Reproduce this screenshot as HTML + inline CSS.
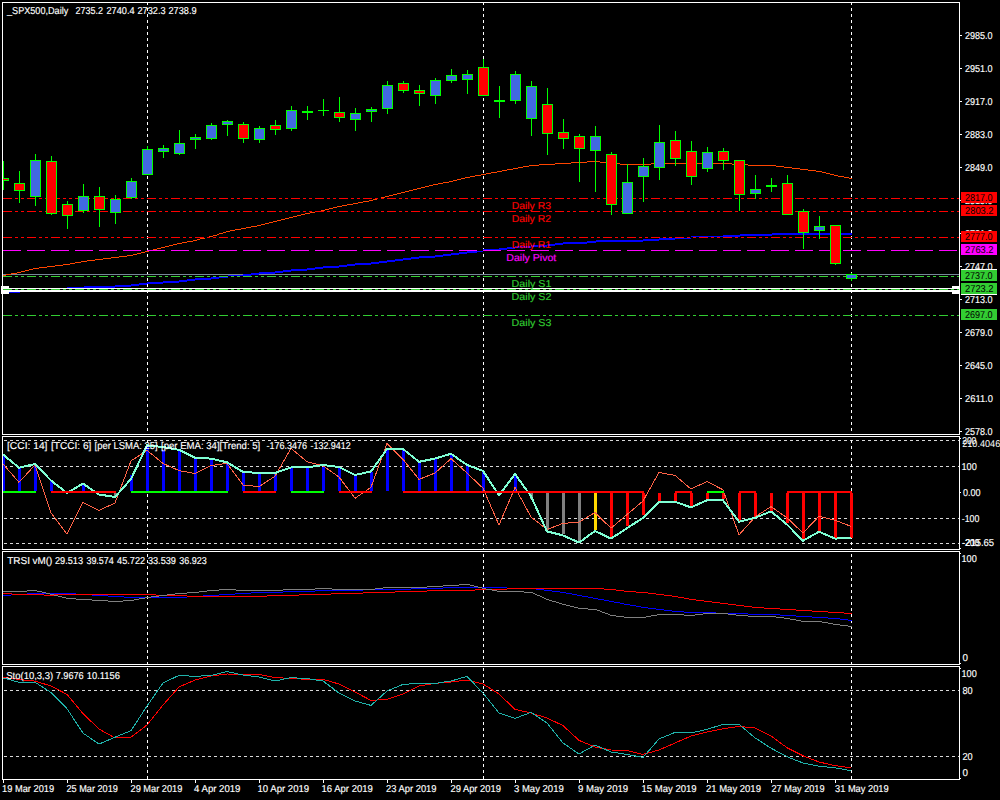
<!DOCTYPE html>
<html><head><meta charset="utf-8"><title>SPX500 Daily</title>
<style>
html,body{margin:0;padding:0;background:#000;}
body{width:1000px;height:800px;overflow:hidden;position:relative;}
svg{position:absolute;left:0;top:0;display:block;font-family:"Liberation Sans", sans-serif;}
</style></head><body>
<svg width="1000" height="800" viewBox="0 0 1000 800" shape-rendering="crispEdges">
<rect x="2.5" y="2.5" width="957" height="432" fill="none" stroke="#fff" stroke-width="1"/><rect x="2.5" y="436.5" width="957" height="113" fill="none" stroke="#fff" stroke-width="1"/><rect x="2.5" y="551.5" width="957" height="113" fill="none" stroke="#fff" stroke-width="1"/><rect x="2.5" y="666.5" width="957" height="113" fill="none" stroke="#fff" stroke-width="1"/><defs><clipPath id="cm"><rect x="3" y="3" width="956" height="431"/></clipPath><clipPath id="cc"><rect x="3" y="437" width="956" height="112"/></clipPath><clipPath id="ct"><rect x="3" y="552" width="956" height="112"/></clipPath><clipPath id="cs"><rect x="3" y="667" width="956" height="112"/></clipPath></defs><g clip-path="url(#cm)"><rect x="147" y="3" width="1" height="2" fill="#fff"/><rect x="147" y="8" width="1" height="3" fill="#fff"/><rect x="147" y="14" width="1" height="3" fill="#fff"/><rect x="147" y="20" width="1" height="3" fill="#fff"/><rect x="147" y="26" width="1" height="3" fill="#fff"/><rect x="147" y="32" width="1" height="3" fill="#fff"/><rect x="147" y="38" width="1" height="3" fill="#fff"/><rect x="147" y="44" width="1" height="3" fill="#fff"/><rect x="147" y="50" width="1" height="3" fill="#fff"/><rect x="147" y="56" width="1" height="3" fill="#fff"/><rect x="147" y="62" width="1" height="3" fill="#fff"/><rect x="147" y="68" width="1" height="3" fill="#fff"/><rect x="147" y="74" width="1" height="3" fill="#fff"/><rect x="147" y="80" width="1" height="3" fill="#fff"/><rect x="147" y="86" width="1" height="3" fill="#fff"/><rect x="147" y="92" width="1" height="3" fill="#fff"/><rect x="147" y="98" width="1" height="3" fill="#fff"/><rect x="147" y="104" width="1" height="3" fill="#fff"/><rect x="147" y="110" width="1" height="3" fill="#fff"/><rect x="147" y="116" width="1" height="3" fill="#fff"/><rect x="147" y="122" width="1" height="3" fill="#fff"/><rect x="147" y="128" width="1" height="3" fill="#fff"/><rect x="147" y="134" width="1" height="3" fill="#fff"/><rect x="147" y="140" width="1" height="3" fill="#fff"/><rect x="147" y="146" width="1" height="3" fill="#fff"/><rect x="147" y="152" width="1" height="3" fill="#fff"/><rect x="147" y="158" width="1" height="3" fill="#fff"/><rect x="147" y="164" width="1" height="3" fill="#fff"/><rect x="147" y="170" width="1" height="3" fill="#fff"/><rect x="147" y="176" width="1" height="3" fill="#fff"/><rect x="147" y="182" width="1" height="3" fill="#fff"/><rect x="147" y="188" width="1" height="3" fill="#fff"/><rect x="147" y="194" width="1" height="3" fill="#fff"/><rect x="147" y="200" width="1" height="3" fill="#fff"/><rect x="147" y="206" width="1" height="3" fill="#fff"/><rect x="147" y="212" width="1" height="3" fill="#fff"/><rect x="147" y="218" width="1" height="3" fill="#fff"/><rect x="147" y="224" width="1" height="3" fill="#fff"/><rect x="147" y="230" width="1" height="3" fill="#fff"/><rect x="147" y="236" width="1" height="3" fill="#fff"/><rect x="147" y="242" width="1" height="3" fill="#fff"/><rect x="147" y="248" width="1" height="3" fill="#fff"/><rect x="147" y="254" width="1" height="3" fill="#fff"/><rect x="147" y="260" width="1" height="3" fill="#fff"/><rect x="147" y="266" width="1" height="3" fill="#fff"/><rect x="147" y="272" width="1" height="3" fill="#fff"/><rect x="147" y="278" width="1" height="3" fill="#fff"/><rect x="147" y="284" width="1" height="3" fill="#fff"/><rect x="147" y="290" width="1" height="3" fill="#fff"/><rect x="147" y="296" width="1" height="3" fill="#fff"/><rect x="147" y="302" width="1" height="3" fill="#fff"/><rect x="147" y="308" width="1" height="3" fill="#fff"/><rect x="147" y="314" width="1" height="3" fill="#fff"/><rect x="147" y="320" width="1" height="3" fill="#fff"/><rect x="147" y="326" width="1" height="3" fill="#fff"/><rect x="147" y="332" width="1" height="3" fill="#fff"/><rect x="147" y="338" width="1" height="3" fill="#fff"/><rect x="147" y="344" width="1" height="3" fill="#fff"/><rect x="147" y="350" width="1" height="3" fill="#fff"/><rect x="147" y="356" width="1" height="3" fill="#fff"/><rect x="147" y="362" width="1" height="3" fill="#fff"/><rect x="147" y="368" width="1" height="3" fill="#fff"/><rect x="147" y="374" width="1" height="3" fill="#fff"/><rect x="147" y="380" width="1" height="3" fill="#fff"/><rect x="147" y="386" width="1" height="3" fill="#fff"/><rect x="147" y="392" width="1" height="3" fill="#fff"/><rect x="147" y="398" width="1" height="3" fill="#fff"/><rect x="147" y="404" width="1" height="3" fill="#fff"/><rect x="147" y="410" width="1" height="3" fill="#fff"/><rect x="147" y="416" width="1" height="3" fill="#fff"/><rect x="147" y="422" width="1" height="3" fill="#fff"/><rect x="147" y="428" width="1" height="3" fill="#fff"/><rect x="483" y="3" width="1" height="2" fill="#fff"/><rect x="483" y="8" width="1" height="3" fill="#fff"/><rect x="483" y="14" width="1" height="3" fill="#fff"/><rect x="483" y="20" width="1" height="3" fill="#fff"/><rect x="483" y="26" width="1" height="3" fill="#fff"/><rect x="483" y="32" width="1" height="3" fill="#fff"/><rect x="483" y="38" width="1" height="3" fill="#fff"/><rect x="483" y="44" width="1" height="3" fill="#fff"/><rect x="483" y="50" width="1" height="3" fill="#fff"/><rect x="483" y="56" width="1" height="3" fill="#fff"/><rect x="483" y="62" width="1" height="3" fill="#fff"/><rect x="483" y="68" width="1" height="3" fill="#fff"/><rect x="483" y="74" width="1" height="3" fill="#fff"/><rect x="483" y="80" width="1" height="3" fill="#fff"/><rect x="483" y="86" width="1" height="3" fill="#fff"/><rect x="483" y="92" width="1" height="3" fill="#fff"/><rect x="483" y="98" width="1" height="3" fill="#fff"/><rect x="483" y="104" width="1" height="3" fill="#fff"/><rect x="483" y="110" width="1" height="3" fill="#fff"/><rect x="483" y="116" width="1" height="3" fill="#fff"/><rect x="483" y="122" width="1" height="3" fill="#fff"/><rect x="483" y="128" width="1" height="3" fill="#fff"/><rect x="483" y="134" width="1" height="3" fill="#fff"/><rect x="483" y="140" width="1" height="3" fill="#fff"/><rect x="483" y="146" width="1" height="3" fill="#fff"/><rect x="483" y="152" width="1" height="3" fill="#fff"/><rect x="483" y="158" width="1" height="3" fill="#fff"/><rect x="483" y="164" width="1" height="3" fill="#fff"/><rect x="483" y="170" width="1" height="3" fill="#fff"/><rect x="483" y="176" width="1" height="3" fill="#fff"/><rect x="483" y="182" width="1" height="3" fill="#fff"/><rect x="483" y="188" width="1" height="3" fill="#fff"/><rect x="483" y="194" width="1" height="3" fill="#fff"/><rect x="483" y="200" width="1" height="3" fill="#fff"/><rect x="483" y="206" width="1" height="3" fill="#fff"/><rect x="483" y="212" width="1" height="3" fill="#fff"/><rect x="483" y="218" width="1" height="3" fill="#fff"/><rect x="483" y="224" width="1" height="3" fill="#fff"/><rect x="483" y="230" width="1" height="3" fill="#fff"/><rect x="483" y="236" width="1" height="3" fill="#fff"/><rect x="483" y="242" width="1" height="3" fill="#fff"/><rect x="483" y="248" width="1" height="3" fill="#fff"/><rect x="483" y="254" width="1" height="3" fill="#fff"/><rect x="483" y="260" width="1" height="3" fill="#fff"/><rect x="483" y="266" width="1" height="3" fill="#fff"/><rect x="483" y="272" width="1" height="3" fill="#fff"/><rect x="483" y="278" width="1" height="3" fill="#fff"/><rect x="483" y="284" width="1" height="3" fill="#fff"/><rect x="483" y="290" width="1" height="3" fill="#fff"/><rect x="483" y="296" width="1" height="3" fill="#fff"/><rect x="483" y="302" width="1" height="3" fill="#fff"/><rect x="483" y="308" width="1" height="3" fill="#fff"/><rect x="483" y="314" width="1" height="3" fill="#fff"/><rect x="483" y="320" width="1" height="3" fill="#fff"/><rect x="483" y="326" width="1" height="3" fill="#fff"/><rect x="483" y="332" width="1" height="3" fill="#fff"/><rect x="483" y="338" width="1" height="3" fill="#fff"/><rect x="483" y="344" width="1" height="3" fill="#fff"/><rect x="483" y="350" width="1" height="3" fill="#fff"/><rect x="483" y="356" width="1" height="3" fill="#fff"/><rect x="483" y="362" width="1" height="3" fill="#fff"/><rect x="483" y="368" width="1" height="3" fill="#fff"/><rect x="483" y="374" width="1" height="3" fill="#fff"/><rect x="483" y="380" width="1" height="3" fill="#fff"/><rect x="483" y="386" width="1" height="3" fill="#fff"/><rect x="483" y="392" width="1" height="3" fill="#fff"/><rect x="483" y="398" width="1" height="3" fill="#fff"/><rect x="483" y="404" width="1" height="3" fill="#fff"/><rect x="483" y="410" width="1" height="3" fill="#fff"/><rect x="483" y="416" width="1" height="3" fill="#fff"/><rect x="483" y="422" width="1" height="3" fill="#fff"/><rect x="483" y="428" width="1" height="3" fill="#fff"/><rect x="851" y="3" width="1" height="2" fill="#fff"/><rect x="851" y="8" width="1" height="3" fill="#fff"/><rect x="851" y="14" width="1" height="3" fill="#fff"/><rect x="851" y="20" width="1" height="3" fill="#fff"/><rect x="851" y="26" width="1" height="3" fill="#fff"/><rect x="851" y="32" width="1" height="3" fill="#fff"/><rect x="851" y="38" width="1" height="3" fill="#fff"/><rect x="851" y="44" width="1" height="3" fill="#fff"/><rect x="851" y="50" width="1" height="3" fill="#fff"/><rect x="851" y="56" width="1" height="3" fill="#fff"/><rect x="851" y="62" width="1" height="3" fill="#fff"/><rect x="851" y="68" width="1" height="3" fill="#fff"/><rect x="851" y="74" width="1" height="3" fill="#fff"/><rect x="851" y="80" width="1" height="3" fill="#fff"/><rect x="851" y="86" width="1" height="3" fill="#fff"/><rect x="851" y="92" width="1" height="3" fill="#fff"/><rect x="851" y="98" width="1" height="3" fill="#fff"/><rect x="851" y="104" width="1" height="3" fill="#fff"/><rect x="851" y="110" width="1" height="3" fill="#fff"/><rect x="851" y="116" width="1" height="3" fill="#fff"/><rect x="851" y="122" width="1" height="3" fill="#fff"/><rect x="851" y="128" width="1" height="3" fill="#fff"/><rect x="851" y="134" width="1" height="3" fill="#fff"/><rect x="851" y="140" width="1" height="3" fill="#fff"/><rect x="851" y="146" width="1" height="3" fill="#fff"/><rect x="851" y="152" width="1" height="3" fill="#fff"/><rect x="851" y="158" width="1" height="3" fill="#fff"/><rect x="851" y="164" width="1" height="3" fill="#fff"/><rect x="851" y="170" width="1" height="3" fill="#fff"/><rect x="851" y="176" width="1" height="3" fill="#fff"/><rect x="851" y="182" width="1" height="3" fill="#fff"/><rect x="851" y="188" width="1" height="3" fill="#fff"/><rect x="851" y="194" width="1" height="3" fill="#fff"/><rect x="851" y="200" width="1" height="3" fill="#fff"/><rect x="851" y="206" width="1" height="3" fill="#fff"/><rect x="851" y="212" width="1" height="3" fill="#fff"/><rect x="851" y="218" width="1" height="3" fill="#fff"/><rect x="851" y="224" width="1" height="3" fill="#fff"/><rect x="851" y="230" width="1" height="3" fill="#fff"/><rect x="851" y="236" width="1" height="3" fill="#fff"/><rect x="851" y="242" width="1" height="3" fill="#fff"/><rect x="851" y="248" width="1" height="3" fill="#fff"/><rect x="851" y="254" width="1" height="3" fill="#fff"/><rect x="851" y="260" width="1" height="3" fill="#fff"/><rect x="851" y="266" width="1" height="3" fill="#fff"/><rect x="851" y="272" width="1" height="3" fill="#fff"/><rect x="851" y="278" width="1" height="3" fill="#fff"/><rect x="851" y="284" width="1" height="3" fill="#fff"/><rect x="851" y="290" width="1" height="3" fill="#fff"/><rect x="851" y="296" width="1" height="3" fill="#fff"/><rect x="851" y="302" width="1" height="3" fill="#fff"/><rect x="851" y="308" width="1" height="3" fill="#fff"/><rect x="851" y="314" width="1" height="3" fill="#fff"/><rect x="851" y="320" width="1" height="3" fill="#fff"/><rect x="851" y="326" width="1" height="3" fill="#fff"/><rect x="851" y="332" width="1" height="3" fill="#fff"/><rect x="851" y="338" width="1" height="3" fill="#fff"/><rect x="851" y="344" width="1" height="3" fill="#fff"/><rect x="851" y="350" width="1" height="3" fill="#fff"/><rect x="851" y="356" width="1" height="3" fill="#fff"/><rect x="851" y="362" width="1" height="3" fill="#fff"/><rect x="851" y="368" width="1" height="3" fill="#fff"/><rect x="851" y="374" width="1" height="3" fill="#fff"/><rect x="851" y="380" width="1" height="3" fill="#fff"/><rect x="851" y="386" width="1" height="3" fill="#fff"/><rect x="851" y="392" width="1" height="3" fill="#fff"/><rect x="851" y="398" width="1" height="3" fill="#fff"/><rect x="851" y="404" width="1" height="3" fill="#fff"/><rect x="851" y="410" width="1" height="3" fill="#fff"/><rect x="851" y="416" width="1" height="3" fill="#fff"/><rect x="851" y="422" width="1" height="3" fill="#fff"/><rect x="851" y="428" width="1" height="3" fill="#fff"/><rect x="3" y="274" width="956" height="1" fill="#778899"/><rect x="3" y="275" width="3" height="1" fill="#ff4500"/><rect x="6" y="274" width="5" height="1" fill="#ff4500"/><rect x="11" y="273" width="6" height="1" fill="#ff4500"/><rect x="17" y="272" width="4" height="1" fill="#ff4500"/><rect x="21" y="271" width="4" height="1" fill="#ff4500"/><rect x="25" y="270" width="4" height="1" fill="#ff4500"/><rect x="29" y="269" width="4" height="1" fill="#ff4500"/><rect x="33" y="268" width="6" height="1" fill="#ff4500"/><rect x="39" y="267" width="8" height="1" fill="#ff4500"/><rect x="47" y="266" width="8" height="1" fill="#ff4500"/><rect x="55" y="265" width="8" height="1" fill="#ff4500"/><rect x="63" y="264" width="7" height="1" fill="#ff4500"/><rect x="70" y="263" width="5" height="1" fill="#ff4500"/><rect x="75" y="262" width="6" height="1" fill="#ff4500"/><rect x="81" y="261" width="6" height="1" fill="#ff4500"/><rect x="87" y="260" width="8" height="1" fill="#ff4500"/><rect x="95" y="259" width="8" height="1" fill="#ff4500"/><rect x="103" y="258" width="8" height="1" fill="#ff4500"/><rect x="111" y="257" width="8" height="1" fill="#ff4500"/><rect x="119" y="256" width="8" height="1" fill="#ff4500"/><rect x="127" y="255" width="6" height="1" fill="#ff4500"/><rect x="133" y="254" width="4" height="1" fill="#ff4500"/><rect x="137" y="253" width="4" height="1" fill="#ff4500"/><rect x="141" y="252" width="4" height="1" fill="#ff4500"/><rect x="145" y="251" width="4" height="1" fill="#ff4500"/><rect x="149" y="250" width="4" height="1" fill="#ff4500"/><rect x="153" y="249" width="4" height="1" fill="#ff4500"/><rect x="157" y="248" width="4" height="1" fill="#ff4500"/><rect x="161" y="247" width="4" height="1" fill="#ff4500"/><rect x="165" y="246" width="4" height="1" fill="#ff4500"/><rect x="169" y="245" width="4" height="1" fill="#ff4500"/><rect x="173" y="244" width="4" height="1" fill="#ff4500"/><rect x="177" y="243" width="5" height="1" fill="#ff4500"/><rect x="182" y="242" width="5" height="1" fill="#ff4500"/><rect x="187" y="241" width="6" height="1" fill="#ff4500"/><rect x="193" y="240" width="4" height="1" fill="#ff4500"/><rect x="197" y="239" width="3" height="1" fill="#ff4500"/><rect x="200" y="238" width="5" height="1" fill="#ff4500"/><rect x="205" y="237" width="4" height="1" fill="#ff4500"/><rect x="209" y="236" width="4" height="1" fill="#ff4500"/><rect x="213" y="235" width="4" height="1" fill="#ff4500"/><rect x="217" y="234" width="2" height="1" fill="#ff4500"/><rect x="219" y="233" width="4" height="1" fill="#ff4500"/><rect x="223" y="232" width="3" height="1" fill="#ff4500"/><rect x="226" y="231" width="4" height="1" fill="#ff4500"/><rect x="230" y="230" width="5" height="1" fill="#ff4500"/><rect x="235" y="229" width="6" height="1" fill="#ff4500"/><rect x="241" y="228" width="5" height="1" fill="#ff4500"/><rect x="246" y="227" width="5" height="1" fill="#ff4500"/><rect x="251" y="226" width="6" height="1" fill="#ff4500"/><rect x="257" y="225" width="4" height="1" fill="#ff4500"/><rect x="261" y="224" width="4" height="1" fill="#ff4500"/><rect x="265" y="223" width="4" height="1" fill="#ff4500"/><rect x="269" y="222" width="4" height="1" fill="#ff4500"/><rect x="273" y="221" width="4" height="1" fill="#ff4500"/><rect x="277" y="220" width="4" height="1" fill="#ff4500"/><rect x="281" y="219" width="4" height="1" fill="#ff4500"/><rect x="285" y="218" width="4" height="1" fill="#ff4500"/><rect x="289" y="217" width="4" height="1" fill="#ff4500"/><rect x="293" y="216" width="4" height="1" fill="#ff4500"/><rect x="297" y="215" width="4" height="1" fill="#ff4500"/><rect x="301" y="214" width="4" height="1" fill="#ff4500"/><rect x="305" y="213" width="5" height="1" fill="#ff4500"/><rect x="310" y="212" width="5" height="1" fill="#ff4500"/><rect x="315" y="211" width="6" height="1" fill="#ff4500"/><rect x="321" y="210" width="4" height="1" fill="#ff4500"/><rect x="325" y="209" width="4" height="1" fill="#ff4500"/><rect x="329" y="208" width="4" height="1" fill="#ff4500"/><rect x="333" y="207" width="4" height="1" fill="#ff4500"/><rect x="337" y="206" width="5" height="1" fill="#ff4500"/><rect x="342" y="205" width="5" height="1" fill="#ff4500"/><rect x="347" y="204" width="6" height="1" fill="#ff4500"/><rect x="353" y="203" width="5" height="1" fill="#ff4500"/><rect x="358" y="202" width="5" height="1" fill="#ff4500"/><rect x="363" y="201" width="6" height="1" fill="#ff4500"/><rect x="369" y="200" width="4" height="1" fill="#ff4500"/><rect x="373" y="199" width="4" height="1" fill="#ff4500"/><rect x="377" y="198" width="4" height="1" fill="#ff4500"/><rect x="381" y="197" width="4" height="1" fill="#ff4500"/><rect x="385" y="196" width="4" height="1" fill="#ff4500"/><rect x="389" y="195" width="4" height="1" fill="#ff4500"/><rect x="393" y="194" width="4" height="1" fill="#ff4500"/><rect x="397" y="193" width="4" height="1" fill="#ff4500"/><rect x="401" y="192" width="4" height="1" fill="#ff4500"/><rect x="405" y="191" width="4" height="1" fill="#ff4500"/><rect x="409" y="190" width="4" height="1" fill="#ff4500"/><rect x="413" y="189" width="4" height="1" fill="#ff4500"/><rect x="417" y="188" width="4" height="1" fill="#ff4500"/><rect x="421" y="187" width="4" height="1" fill="#ff4500"/><rect x="425" y="186" width="4" height="1" fill="#ff4500"/><rect x="429" y="185" width="4" height="1" fill="#ff4500"/><rect x="433" y="184" width="5" height="1" fill="#ff4500"/><rect x="438" y="183" width="5" height="1" fill="#ff4500"/><rect x="443" y="182" width="6" height="1" fill="#ff4500"/><rect x="449" y="181" width="4" height="1" fill="#ff4500"/><rect x="453" y="180" width="4" height="1" fill="#ff4500"/><rect x="457" y="179" width="4" height="1" fill="#ff4500"/><rect x="461" y="178" width="4" height="1" fill="#ff4500"/><rect x="465" y="177" width="5" height="1" fill="#ff4500"/><rect x="470" y="176" width="5" height="1" fill="#ff4500"/><rect x="475" y="175" width="6" height="1" fill="#ff4500"/><rect x="481" y="174" width="5" height="1" fill="#ff4500"/><rect x="486" y="173" width="5" height="1" fill="#ff4500"/><rect x="491" y="172" width="6" height="1" fill="#ff4500"/><rect x="497" y="171" width="5" height="1" fill="#ff4500"/><rect x="502" y="170" width="5" height="1" fill="#ff4500"/><rect x="507" y="169" width="6" height="1" fill="#ff4500"/><rect x="513" y="168" width="5" height="1" fill="#ff4500"/><rect x="518" y="167" width="5" height="1" fill="#ff4500"/><rect x="523" y="166" width="6" height="1" fill="#ff4500"/><rect x="529" y="165" width="10" height="1" fill="#ff4500"/><rect x="539" y="164" width="16" height="1" fill="#ff4500"/><rect x="555" y="163" width="16" height="1" fill="#ff4500"/><rect x="571" y="162" width="16" height="1" fill="#ff4500"/><rect x="587" y="161" width="13" height="1" fill="#ff4500"/><rect x="600" y="162" width="17" height="1" fill="#ff4500"/><rect x="617" y="163" width="3" height="1" fill="#ff4500"/><rect x="620" y="164" width="31" height="1" fill="#ff4500"/><rect x="651" y="163" width="81" height="1" fill="#ff4500"/><rect x="732" y="164" width="16" height="1" fill="#ff4500"/><rect x="748" y="165" width="28" height="1" fill="#ff4500"/><rect x="776" y="166" width="8" height="1" fill="#ff4500"/><rect x="784" y="167" width="8" height="1" fill="#ff4500"/><rect x="792" y="168" width="8" height="1" fill="#ff4500"/><rect x="800" y="169" width="8" height="1" fill="#ff4500"/><rect x="808" y="170" width="8" height="1" fill="#ff4500"/><rect x="816" y="171" width="6" height="1" fill="#ff4500"/><rect x="822" y="172" width="4" height="1" fill="#ff4500"/><rect x="826" y="173" width="4" height="1" fill="#ff4500"/><rect x="830" y="174" width="4" height="1" fill="#ff4500"/><rect x="834" y="175" width="4" height="1" fill="#ff4500"/><rect x="838" y="176" width="6" height="1" fill="#ff4500"/><rect x="844" y="177" width="5" height="1" fill="#ff4500"/><rect x="849" y="178" width="3" height="1" fill="#ff4500"/><rect x="3" y="291" width="17" height="2" fill="#0000ff"/><rect x="20" y="290" width="31" height="2" fill="#0000ff"/><rect x="51" y="289" width="9" height="2" fill="#0000ff"/><rect x="60" y="288" width="7" height="2" fill="#0000ff"/><rect x="67" y="287" width="17" height="2" fill="#0000ff"/><rect x="84" y="286" width="31" height="2" fill="#0000ff"/><rect x="115" y="285" width="16" height="2" fill="#0000ff"/><rect x="131" y="284" width="8" height="2" fill="#0000ff"/><rect x="139" y="283" width="8" height="2" fill="#0000ff"/><rect x="147" y="282" width="16" height="2" fill="#0000ff"/><rect x="163" y="281" width="16" height="2" fill="#0000ff"/><rect x="179" y="280" width="8" height="2" fill="#0000ff"/><rect x="187" y="279" width="8" height="2" fill="#0000ff"/><rect x="195" y="278" width="16" height="2" fill="#0000ff"/><rect x="211" y="277" width="8" height="2" fill="#0000ff"/><rect x="219" y="276" width="9" height="2" fill="#0000ff"/><rect x="228" y="275" width="15" height="2" fill="#0000ff"/><rect x="243" y="274" width="8" height="2" fill="#0000ff"/><rect x="251" y="273" width="8" height="2" fill="#0000ff"/><rect x="259" y="272" width="16" height="2" fill="#0000ff"/><rect x="275" y="271" width="8" height="2" fill="#0000ff"/><rect x="283" y="270" width="8" height="2" fill="#0000ff"/><rect x="291" y="269" width="16" height="2" fill="#0000ff"/><rect x="307" y="268" width="8" height="2" fill="#0000ff"/><rect x="315" y="267" width="8" height="2" fill="#0000ff"/><rect x="323" y="266" width="16" height="2" fill="#0000ff"/><rect x="339" y="265" width="8" height="2" fill="#0000ff"/><rect x="347" y="264" width="8" height="2" fill="#0000ff"/><rect x="355" y="263" width="16" height="2" fill="#0000ff"/><rect x="371" y="262" width="8" height="2" fill="#0000ff"/><rect x="379" y="261" width="8" height="2" fill="#0000ff"/><rect x="387" y="260" width="8" height="2" fill="#0000ff"/><rect x="395" y="259" width="8" height="2" fill="#0000ff"/><rect x="403" y="258" width="8" height="2" fill="#0000ff"/><rect x="411" y="257" width="8" height="2" fill="#0000ff"/><rect x="419" y="256" width="16" height="2" fill="#0000ff"/><rect x="435" y="255" width="8" height="2" fill="#0000ff"/><rect x="443" y="254" width="8" height="2" fill="#0000ff"/><rect x="451" y="253" width="8" height="2" fill="#0000ff"/><rect x="459" y="252" width="8" height="2" fill="#0000ff"/><rect x="467" y="251" width="10" height="2" fill="#0000ff"/><rect x="477" y="250" width="6" height="2" fill="#0000ff"/><rect x="483" y="249" width="16" height="2" fill="#0000ff"/><rect x="499" y="248" width="8" height="2" fill="#0000ff"/><rect x="507" y="247" width="8" height="2" fill="#0000ff"/><rect x="515" y="246" width="16" height="2" fill="#0000ff"/><rect x="531" y="245" width="16" height="2" fill="#0000ff"/><rect x="547" y="244" width="8" height="2" fill="#0000ff"/><rect x="555" y="243" width="8" height="2" fill="#0000ff"/><rect x="563" y="242" width="24" height="2" fill="#0000ff"/><rect x="587" y="241" width="9" height="2" fill="#0000ff"/><rect x="596" y="240" width="47" height="2" fill="#0000ff"/><rect x="643" y="239" width="16" height="2" fill="#0000ff"/><rect x="659" y="238" width="16" height="2" fill="#0000ff"/><rect x="675" y="237" width="16" height="2" fill="#0000ff"/><rect x="691" y="236" width="32" height="2" fill="#0000ff"/><rect x="723" y="235" width="17" height="2" fill="#0000ff"/><rect x="740" y="234" width="32" height="2" fill="#0000ff"/><rect x="772" y="233" width="80" height="2" fill="#0000ff"/><rect x="3" y="198" width="956" height="1" fill="#000"/><rect x="3" y="198" width="9" height="1" fill="#ff0000"/><rect x="15" y="198" width="3" height="1" fill="#ff0000"/><rect x="21" y="198" width="3" height="1" fill="#ff0000"/><rect x="27" y="198" width="9" height="1" fill="#ff0000"/><rect x="39" y="198" width="3" height="1" fill="#ff0000"/><rect x="45" y="198" width="3" height="1" fill="#ff0000"/><rect x="51" y="198" width="9" height="1" fill="#ff0000"/><rect x="63" y="198" width="3" height="1" fill="#ff0000"/><rect x="69" y="198" width="3" height="1" fill="#ff0000"/><rect x="75" y="198" width="9" height="1" fill="#ff0000"/><rect x="87" y="198" width="3" height="1" fill="#ff0000"/><rect x="93" y="198" width="3" height="1" fill="#ff0000"/><rect x="99" y="198" width="9" height="1" fill="#ff0000"/><rect x="111" y="198" width="3" height="1" fill="#ff0000"/><rect x="117" y="198" width="3" height="1" fill="#ff0000"/><rect x="123" y="198" width="9" height="1" fill="#ff0000"/><rect x="135" y="198" width="3" height="1" fill="#ff0000"/><rect x="141" y="198" width="3" height="1" fill="#ff0000"/><rect x="147" y="198" width="9" height="1" fill="#ff0000"/><rect x="159" y="198" width="3" height="1" fill="#ff0000"/><rect x="165" y="198" width="3" height="1" fill="#ff0000"/><rect x="171" y="198" width="9" height="1" fill="#ff0000"/><rect x="183" y="198" width="3" height="1" fill="#ff0000"/><rect x="189" y="198" width="3" height="1" fill="#ff0000"/><rect x="195" y="198" width="9" height="1" fill="#ff0000"/><rect x="207" y="198" width="3" height="1" fill="#ff0000"/><rect x="213" y="198" width="3" height="1" fill="#ff0000"/><rect x="219" y="198" width="9" height="1" fill="#ff0000"/><rect x="231" y="198" width="3" height="1" fill="#ff0000"/><rect x="237" y="198" width="3" height="1" fill="#ff0000"/><rect x="243" y="198" width="9" height="1" fill="#ff0000"/><rect x="255" y="198" width="3" height="1" fill="#ff0000"/><rect x="261" y="198" width="3" height="1" fill="#ff0000"/><rect x="267" y="198" width="9" height="1" fill="#ff0000"/><rect x="279" y="198" width="3" height="1" fill="#ff0000"/><rect x="285" y="198" width="3" height="1" fill="#ff0000"/><rect x="291" y="198" width="9" height="1" fill="#ff0000"/><rect x="303" y="198" width="3" height="1" fill="#ff0000"/><rect x="309" y="198" width="3" height="1" fill="#ff0000"/><rect x="315" y="198" width="9" height="1" fill="#ff0000"/><rect x="327" y="198" width="3" height="1" fill="#ff0000"/><rect x="333" y="198" width="3" height="1" fill="#ff0000"/><rect x="339" y="198" width="9" height="1" fill="#ff0000"/><rect x="351" y="198" width="3" height="1" fill="#ff0000"/><rect x="357" y="198" width="3" height="1" fill="#ff0000"/><rect x="363" y="198" width="9" height="1" fill="#ff0000"/><rect x="375" y="198" width="3" height="1" fill="#ff0000"/><rect x="381" y="198" width="3" height="1" fill="#ff0000"/><rect x="387" y="198" width="9" height="1" fill="#ff0000"/><rect x="399" y="198" width="3" height="1" fill="#ff0000"/><rect x="405" y="198" width="3" height="1" fill="#ff0000"/><rect x="411" y="198" width="9" height="1" fill="#ff0000"/><rect x="423" y="198" width="3" height="1" fill="#ff0000"/><rect x="429" y="198" width="3" height="1" fill="#ff0000"/><rect x="435" y="198" width="9" height="1" fill="#ff0000"/><rect x="447" y="198" width="3" height="1" fill="#ff0000"/><rect x="453" y="198" width="3" height="1" fill="#ff0000"/><rect x="459" y="198" width="9" height="1" fill="#ff0000"/><rect x="471" y="198" width="3" height="1" fill="#ff0000"/><rect x="477" y="198" width="3" height="1" fill="#ff0000"/><rect x="483" y="198" width="9" height="1" fill="#ff0000"/><rect x="495" y="198" width="3" height="1" fill="#ff0000"/><rect x="501" y="198" width="3" height="1" fill="#ff0000"/><rect x="507" y="198" width="9" height="1" fill="#ff0000"/><rect x="519" y="198" width="3" height="1" fill="#ff0000"/><rect x="525" y="198" width="3" height="1" fill="#ff0000"/><rect x="531" y="198" width="9" height="1" fill="#ff0000"/><rect x="543" y="198" width="3" height="1" fill="#ff0000"/><rect x="549" y="198" width="3" height="1" fill="#ff0000"/><rect x="555" y="198" width="9" height="1" fill="#ff0000"/><rect x="567" y="198" width="3" height="1" fill="#ff0000"/><rect x="573" y="198" width="3" height="1" fill="#ff0000"/><rect x="579" y="198" width="9" height="1" fill="#ff0000"/><rect x="591" y="198" width="3" height="1" fill="#ff0000"/><rect x="597" y="198" width="3" height="1" fill="#ff0000"/><rect x="603" y="198" width="9" height="1" fill="#ff0000"/><rect x="615" y="198" width="3" height="1" fill="#ff0000"/><rect x="621" y="198" width="3" height="1" fill="#ff0000"/><rect x="627" y="198" width="9" height="1" fill="#ff0000"/><rect x="639" y="198" width="3" height="1" fill="#ff0000"/><rect x="645" y="198" width="3" height="1" fill="#ff0000"/><rect x="651" y="198" width="9" height="1" fill="#ff0000"/><rect x="663" y="198" width="3" height="1" fill="#ff0000"/><rect x="669" y="198" width="3" height="1" fill="#ff0000"/><rect x="675" y="198" width="9" height="1" fill="#ff0000"/><rect x="687" y="198" width="3" height="1" fill="#ff0000"/><rect x="693" y="198" width="3" height="1" fill="#ff0000"/><rect x="699" y="198" width="9" height="1" fill="#ff0000"/><rect x="711" y="198" width="3" height="1" fill="#ff0000"/><rect x="717" y="198" width="3" height="1" fill="#ff0000"/><rect x="723" y="198" width="9" height="1" fill="#ff0000"/><rect x="735" y="198" width="3" height="1" fill="#ff0000"/><rect x="741" y="198" width="3" height="1" fill="#ff0000"/><rect x="747" y="198" width="9" height="1" fill="#ff0000"/><rect x="759" y="198" width="3" height="1" fill="#ff0000"/><rect x="765" y="198" width="3" height="1" fill="#ff0000"/><rect x="771" y="198" width="9" height="1" fill="#ff0000"/><rect x="783" y="198" width="3" height="1" fill="#ff0000"/><rect x="789" y="198" width="3" height="1" fill="#ff0000"/><rect x="795" y="198" width="9" height="1" fill="#ff0000"/><rect x="807" y="198" width="3" height="1" fill="#ff0000"/><rect x="813" y="198" width="3" height="1" fill="#ff0000"/><rect x="819" y="198" width="9" height="1" fill="#ff0000"/><rect x="831" y="198" width="3" height="1" fill="#ff0000"/><rect x="837" y="198" width="3" height="1" fill="#ff0000"/><rect x="843" y="198" width="9" height="1" fill="#ff0000"/><rect x="855" y="198" width="3" height="1" fill="#ff0000"/><rect x="861" y="198" width="3" height="1" fill="#ff0000"/><rect x="867" y="198" width="9" height="1" fill="#ff0000"/><rect x="879" y="198" width="3" height="1" fill="#ff0000"/><rect x="885" y="198" width="3" height="1" fill="#ff0000"/><rect x="891" y="198" width="9" height="1" fill="#ff0000"/><rect x="903" y="198" width="3" height="1" fill="#ff0000"/><rect x="909" y="198" width="3" height="1" fill="#ff0000"/><rect x="915" y="198" width="9" height="1" fill="#ff0000"/><rect x="927" y="198" width="3" height="1" fill="#ff0000"/><rect x="933" y="198" width="3" height="1" fill="#ff0000"/><rect x="939" y="198" width="9" height="1" fill="#ff0000"/><rect x="951" y="198" width="3" height="1" fill="#ff0000"/><rect x="957" y="198" width="2" height="1" fill="#ff0000"/><rect x="3" y="211" width="956" height="1" fill="#000"/><rect x="3" y="211" width="9" height="1" fill="#ff0000"/><rect x="15" y="211" width="3" height="1" fill="#ff0000"/><rect x="21" y="211" width="3" height="1" fill="#ff0000"/><rect x="27" y="211" width="9" height="1" fill="#ff0000"/><rect x="39" y="211" width="3" height="1" fill="#ff0000"/><rect x="45" y="211" width="3" height="1" fill="#ff0000"/><rect x="51" y="211" width="9" height="1" fill="#ff0000"/><rect x="63" y="211" width="3" height="1" fill="#ff0000"/><rect x="69" y="211" width="3" height="1" fill="#ff0000"/><rect x="75" y="211" width="9" height="1" fill="#ff0000"/><rect x="87" y="211" width="3" height="1" fill="#ff0000"/><rect x="93" y="211" width="3" height="1" fill="#ff0000"/><rect x="99" y="211" width="9" height="1" fill="#ff0000"/><rect x="111" y="211" width="3" height="1" fill="#ff0000"/><rect x="117" y="211" width="3" height="1" fill="#ff0000"/><rect x="123" y="211" width="9" height="1" fill="#ff0000"/><rect x="135" y="211" width="3" height="1" fill="#ff0000"/><rect x="141" y="211" width="3" height="1" fill="#ff0000"/><rect x="147" y="211" width="9" height="1" fill="#ff0000"/><rect x="159" y="211" width="3" height="1" fill="#ff0000"/><rect x="165" y="211" width="3" height="1" fill="#ff0000"/><rect x="171" y="211" width="9" height="1" fill="#ff0000"/><rect x="183" y="211" width="3" height="1" fill="#ff0000"/><rect x="189" y="211" width="3" height="1" fill="#ff0000"/><rect x="195" y="211" width="9" height="1" fill="#ff0000"/><rect x="207" y="211" width="3" height="1" fill="#ff0000"/><rect x="213" y="211" width="3" height="1" fill="#ff0000"/><rect x="219" y="211" width="9" height="1" fill="#ff0000"/><rect x="231" y="211" width="3" height="1" fill="#ff0000"/><rect x="237" y="211" width="3" height="1" fill="#ff0000"/><rect x="243" y="211" width="9" height="1" fill="#ff0000"/><rect x="255" y="211" width="3" height="1" fill="#ff0000"/><rect x="261" y="211" width="3" height="1" fill="#ff0000"/><rect x="267" y="211" width="9" height="1" fill="#ff0000"/><rect x="279" y="211" width="3" height="1" fill="#ff0000"/><rect x="285" y="211" width="3" height="1" fill="#ff0000"/><rect x="291" y="211" width="9" height="1" fill="#ff0000"/><rect x="303" y="211" width="3" height="1" fill="#ff0000"/><rect x="309" y="211" width="3" height="1" fill="#ff0000"/><rect x="315" y="211" width="9" height="1" fill="#ff0000"/><rect x="327" y="211" width="3" height="1" fill="#ff0000"/><rect x="333" y="211" width="3" height="1" fill="#ff0000"/><rect x="339" y="211" width="9" height="1" fill="#ff0000"/><rect x="351" y="211" width="3" height="1" fill="#ff0000"/><rect x="357" y="211" width="3" height="1" fill="#ff0000"/><rect x="363" y="211" width="9" height="1" fill="#ff0000"/><rect x="375" y="211" width="3" height="1" fill="#ff0000"/><rect x="381" y="211" width="3" height="1" fill="#ff0000"/><rect x="387" y="211" width="9" height="1" fill="#ff0000"/><rect x="399" y="211" width="3" height="1" fill="#ff0000"/><rect x="405" y="211" width="3" height="1" fill="#ff0000"/><rect x="411" y="211" width="9" height="1" fill="#ff0000"/><rect x="423" y="211" width="3" height="1" fill="#ff0000"/><rect x="429" y="211" width="3" height="1" fill="#ff0000"/><rect x="435" y="211" width="9" height="1" fill="#ff0000"/><rect x="447" y="211" width="3" height="1" fill="#ff0000"/><rect x="453" y="211" width="3" height="1" fill="#ff0000"/><rect x="459" y="211" width="9" height="1" fill="#ff0000"/><rect x="471" y="211" width="3" height="1" fill="#ff0000"/><rect x="477" y="211" width="3" height="1" fill="#ff0000"/><rect x="483" y="211" width="9" height="1" fill="#ff0000"/><rect x="495" y="211" width="3" height="1" fill="#ff0000"/><rect x="501" y="211" width="3" height="1" fill="#ff0000"/><rect x="507" y="211" width="9" height="1" fill="#ff0000"/><rect x="519" y="211" width="3" height="1" fill="#ff0000"/><rect x="525" y="211" width="3" height="1" fill="#ff0000"/><rect x="531" y="211" width="9" height="1" fill="#ff0000"/><rect x="543" y="211" width="3" height="1" fill="#ff0000"/><rect x="549" y="211" width="3" height="1" fill="#ff0000"/><rect x="555" y="211" width="9" height="1" fill="#ff0000"/><rect x="567" y="211" width="3" height="1" fill="#ff0000"/><rect x="573" y="211" width="3" height="1" fill="#ff0000"/><rect x="579" y="211" width="9" height="1" fill="#ff0000"/><rect x="591" y="211" width="3" height="1" fill="#ff0000"/><rect x="597" y="211" width="3" height="1" fill="#ff0000"/><rect x="603" y="211" width="9" height="1" fill="#ff0000"/><rect x="615" y="211" width="3" height="1" fill="#ff0000"/><rect x="621" y="211" width="3" height="1" fill="#ff0000"/><rect x="627" y="211" width="9" height="1" fill="#ff0000"/><rect x="639" y="211" width="3" height="1" fill="#ff0000"/><rect x="645" y="211" width="3" height="1" fill="#ff0000"/><rect x="651" y="211" width="9" height="1" fill="#ff0000"/><rect x="663" y="211" width="3" height="1" fill="#ff0000"/><rect x="669" y="211" width="3" height="1" fill="#ff0000"/><rect x="675" y="211" width="9" height="1" fill="#ff0000"/><rect x="687" y="211" width="3" height="1" fill="#ff0000"/><rect x="693" y="211" width="3" height="1" fill="#ff0000"/><rect x="699" y="211" width="9" height="1" fill="#ff0000"/><rect x="711" y="211" width="3" height="1" fill="#ff0000"/><rect x="717" y="211" width="3" height="1" fill="#ff0000"/><rect x="723" y="211" width="9" height="1" fill="#ff0000"/><rect x="735" y="211" width="3" height="1" fill="#ff0000"/><rect x="741" y="211" width="3" height="1" fill="#ff0000"/><rect x="747" y="211" width="9" height="1" fill="#ff0000"/><rect x="759" y="211" width="3" height="1" fill="#ff0000"/><rect x="765" y="211" width="3" height="1" fill="#ff0000"/><rect x="771" y="211" width="9" height="1" fill="#ff0000"/><rect x="783" y="211" width="3" height="1" fill="#ff0000"/><rect x="789" y="211" width="3" height="1" fill="#ff0000"/><rect x="795" y="211" width="9" height="1" fill="#ff0000"/><rect x="807" y="211" width="3" height="1" fill="#ff0000"/><rect x="813" y="211" width="3" height="1" fill="#ff0000"/><rect x="819" y="211" width="9" height="1" fill="#ff0000"/><rect x="831" y="211" width="3" height="1" fill="#ff0000"/><rect x="837" y="211" width="3" height="1" fill="#ff0000"/><rect x="843" y="211" width="9" height="1" fill="#ff0000"/><rect x="855" y="211" width="3" height="1" fill="#ff0000"/><rect x="861" y="211" width="3" height="1" fill="#ff0000"/><rect x="867" y="211" width="9" height="1" fill="#ff0000"/><rect x="879" y="211" width="3" height="1" fill="#ff0000"/><rect x="885" y="211" width="3" height="1" fill="#ff0000"/><rect x="891" y="211" width="9" height="1" fill="#ff0000"/><rect x="903" y="211" width="3" height="1" fill="#ff0000"/><rect x="909" y="211" width="3" height="1" fill="#ff0000"/><rect x="915" y="211" width="9" height="1" fill="#ff0000"/><rect x="927" y="211" width="3" height="1" fill="#ff0000"/><rect x="933" y="211" width="3" height="1" fill="#ff0000"/><rect x="939" y="211" width="9" height="1" fill="#ff0000"/><rect x="951" y="211" width="3" height="1" fill="#ff0000"/><rect x="957" y="211" width="2" height="1" fill="#ff0000"/><rect x="3" y="237" width="956" height="1" fill="#000"/><rect x="3" y="237" width="9" height="1" fill="#ff0000"/><rect x="15" y="237" width="3" height="1" fill="#ff0000"/><rect x="21" y="237" width="3" height="1" fill="#ff0000"/><rect x="27" y="237" width="9" height="1" fill="#ff0000"/><rect x="39" y="237" width="3" height="1" fill="#ff0000"/><rect x="45" y="237" width="3" height="1" fill="#ff0000"/><rect x="51" y="237" width="9" height="1" fill="#ff0000"/><rect x="63" y="237" width="3" height="1" fill="#ff0000"/><rect x="69" y="237" width="3" height="1" fill="#ff0000"/><rect x="75" y="237" width="9" height="1" fill="#ff0000"/><rect x="87" y="237" width="3" height="1" fill="#ff0000"/><rect x="93" y="237" width="3" height="1" fill="#ff0000"/><rect x="99" y="237" width="9" height="1" fill="#ff0000"/><rect x="111" y="237" width="3" height="1" fill="#ff0000"/><rect x="117" y="237" width="3" height="1" fill="#ff0000"/><rect x="123" y="237" width="9" height="1" fill="#ff0000"/><rect x="135" y="237" width="3" height="1" fill="#ff0000"/><rect x="141" y="237" width="3" height="1" fill="#ff0000"/><rect x="147" y="237" width="9" height="1" fill="#ff0000"/><rect x="159" y="237" width="3" height="1" fill="#ff0000"/><rect x="165" y="237" width="3" height="1" fill="#ff0000"/><rect x="171" y="237" width="9" height="1" fill="#ff0000"/><rect x="183" y="237" width="3" height="1" fill="#ff0000"/><rect x="189" y="237" width="3" height="1" fill="#ff0000"/><rect x="195" y="237" width="9" height="1" fill="#ff0000"/><rect x="207" y="237" width="3" height="1" fill="#ff0000"/><rect x="213" y="237" width="3" height="1" fill="#ff0000"/><rect x="219" y="237" width="9" height="1" fill="#ff0000"/><rect x="231" y="237" width="3" height="1" fill="#ff0000"/><rect x="237" y="237" width="3" height="1" fill="#ff0000"/><rect x="243" y="237" width="9" height="1" fill="#ff0000"/><rect x="255" y="237" width="3" height="1" fill="#ff0000"/><rect x="261" y="237" width="3" height="1" fill="#ff0000"/><rect x="267" y="237" width="9" height="1" fill="#ff0000"/><rect x="279" y="237" width="3" height="1" fill="#ff0000"/><rect x="285" y="237" width="3" height="1" fill="#ff0000"/><rect x="291" y="237" width="9" height="1" fill="#ff0000"/><rect x="303" y="237" width="3" height="1" fill="#ff0000"/><rect x="309" y="237" width="3" height="1" fill="#ff0000"/><rect x="315" y="237" width="9" height="1" fill="#ff0000"/><rect x="327" y="237" width="3" height="1" fill="#ff0000"/><rect x="333" y="237" width="3" height="1" fill="#ff0000"/><rect x="339" y="237" width="9" height="1" fill="#ff0000"/><rect x="351" y="237" width="3" height="1" fill="#ff0000"/><rect x="357" y="237" width="3" height="1" fill="#ff0000"/><rect x="363" y="237" width="9" height="1" fill="#ff0000"/><rect x="375" y="237" width="3" height="1" fill="#ff0000"/><rect x="381" y="237" width="3" height="1" fill="#ff0000"/><rect x="387" y="237" width="9" height="1" fill="#ff0000"/><rect x="399" y="237" width="3" height="1" fill="#ff0000"/><rect x="405" y="237" width="3" height="1" fill="#ff0000"/><rect x="411" y="237" width="9" height="1" fill="#ff0000"/><rect x="423" y="237" width="3" height="1" fill="#ff0000"/><rect x="429" y="237" width="3" height="1" fill="#ff0000"/><rect x="435" y="237" width="9" height="1" fill="#ff0000"/><rect x="447" y="237" width="3" height="1" fill="#ff0000"/><rect x="453" y="237" width="3" height="1" fill="#ff0000"/><rect x="459" y="237" width="9" height="1" fill="#ff0000"/><rect x="471" y="237" width="3" height="1" fill="#ff0000"/><rect x="477" y="237" width="3" height="1" fill="#ff0000"/><rect x="483" y="237" width="9" height="1" fill="#ff0000"/><rect x="495" y="237" width="3" height="1" fill="#ff0000"/><rect x="501" y="237" width="3" height="1" fill="#ff0000"/><rect x="507" y="237" width="9" height="1" fill="#ff0000"/><rect x="519" y="237" width="3" height="1" fill="#ff0000"/><rect x="525" y="237" width="3" height="1" fill="#ff0000"/><rect x="531" y="237" width="9" height="1" fill="#ff0000"/><rect x="543" y="237" width="3" height="1" fill="#ff0000"/><rect x="549" y="237" width="3" height="1" fill="#ff0000"/><rect x="555" y="237" width="9" height="1" fill="#ff0000"/><rect x="567" y="237" width="3" height="1" fill="#ff0000"/><rect x="573" y="237" width="3" height="1" fill="#ff0000"/><rect x="579" y="237" width="9" height="1" fill="#ff0000"/><rect x="591" y="237" width="3" height="1" fill="#ff0000"/><rect x="597" y="237" width="3" height="1" fill="#ff0000"/><rect x="603" y="237" width="9" height="1" fill="#ff0000"/><rect x="615" y="237" width="3" height="1" fill="#ff0000"/><rect x="621" y="237" width="3" height="1" fill="#ff0000"/><rect x="627" y="237" width="9" height="1" fill="#ff0000"/><rect x="639" y="237" width="3" height="1" fill="#ff0000"/><rect x="645" y="237" width="3" height="1" fill="#ff0000"/><rect x="651" y="237" width="9" height="1" fill="#ff0000"/><rect x="663" y="237" width="3" height="1" fill="#ff0000"/><rect x="669" y="237" width="3" height="1" fill="#ff0000"/><rect x="675" y="237" width="9" height="1" fill="#ff0000"/><rect x="687" y="237" width="3" height="1" fill="#ff0000"/><rect x="693" y="237" width="3" height="1" fill="#ff0000"/><rect x="699" y="237" width="9" height="1" fill="#ff0000"/><rect x="711" y="237" width="3" height="1" fill="#ff0000"/><rect x="717" y="237" width="3" height="1" fill="#ff0000"/><rect x="723" y="237" width="9" height="1" fill="#ff0000"/><rect x="735" y="237" width="3" height="1" fill="#ff0000"/><rect x="741" y="237" width="3" height="1" fill="#ff0000"/><rect x="747" y="237" width="9" height="1" fill="#ff0000"/><rect x="759" y="237" width="3" height="1" fill="#ff0000"/><rect x="765" y="237" width="3" height="1" fill="#ff0000"/><rect x="771" y="237" width="9" height="1" fill="#ff0000"/><rect x="783" y="237" width="3" height="1" fill="#ff0000"/><rect x="789" y="237" width="3" height="1" fill="#ff0000"/><rect x="795" y="237" width="9" height="1" fill="#ff0000"/><rect x="807" y="237" width="3" height="1" fill="#ff0000"/><rect x="813" y="237" width="3" height="1" fill="#ff0000"/><rect x="819" y="237" width="9" height="1" fill="#ff0000"/><rect x="831" y="237" width="3" height="1" fill="#ff0000"/><rect x="837" y="237" width="3" height="1" fill="#ff0000"/><rect x="843" y="237" width="9" height="1" fill="#ff0000"/><rect x="855" y="237" width="3" height="1" fill="#ff0000"/><rect x="861" y="237" width="3" height="1" fill="#ff0000"/><rect x="867" y="237" width="9" height="1" fill="#ff0000"/><rect x="879" y="237" width="3" height="1" fill="#ff0000"/><rect x="885" y="237" width="3" height="1" fill="#ff0000"/><rect x="891" y="237" width="9" height="1" fill="#ff0000"/><rect x="903" y="237" width="3" height="1" fill="#ff0000"/><rect x="909" y="237" width="3" height="1" fill="#ff0000"/><rect x="915" y="237" width="9" height="1" fill="#ff0000"/><rect x="927" y="237" width="3" height="1" fill="#ff0000"/><rect x="933" y="237" width="3" height="1" fill="#ff0000"/><rect x="939" y="237" width="9" height="1" fill="#ff0000"/><rect x="951" y="237" width="3" height="1" fill="#ff0000"/><rect x="957" y="237" width="2" height="1" fill="#ff0000"/><rect x="3" y="250" width="956" height="1" fill="#000"/><rect x="3" y="250" width="18" height="1" fill="#ff00ff"/><rect x="27" y="250" width="18" height="1" fill="#ff00ff"/><rect x="51" y="250" width="18" height="1" fill="#ff00ff"/><rect x="75" y="250" width="18" height="1" fill="#ff00ff"/><rect x="99" y="250" width="18" height="1" fill="#ff00ff"/><rect x="123" y="250" width="18" height="1" fill="#ff00ff"/><rect x="147" y="250" width="18" height="1" fill="#ff00ff"/><rect x="171" y="250" width="18" height="1" fill="#ff00ff"/><rect x="195" y="250" width="18" height="1" fill="#ff00ff"/><rect x="219" y="250" width="18" height="1" fill="#ff00ff"/><rect x="243" y="250" width="18" height="1" fill="#ff00ff"/><rect x="267" y="250" width="18" height="1" fill="#ff00ff"/><rect x="291" y="250" width="18" height="1" fill="#ff00ff"/><rect x="315" y="250" width="18" height="1" fill="#ff00ff"/><rect x="339" y="250" width="18" height="1" fill="#ff00ff"/><rect x="363" y="250" width="18" height="1" fill="#ff00ff"/><rect x="387" y="250" width="18" height="1" fill="#ff00ff"/><rect x="411" y="250" width="18" height="1" fill="#ff00ff"/><rect x="435" y="250" width="18" height="1" fill="#ff00ff"/><rect x="459" y="250" width="18" height="1" fill="#ff00ff"/><rect x="483" y="250" width="18" height="1" fill="#ff00ff"/><rect x="507" y="250" width="18" height="1" fill="#ff00ff"/><rect x="531" y="250" width="18" height="1" fill="#ff00ff"/><rect x="555" y="250" width="18" height="1" fill="#ff00ff"/><rect x="579" y="250" width="18" height="1" fill="#ff00ff"/><rect x="603" y="250" width="18" height="1" fill="#ff00ff"/><rect x="627" y="250" width="18" height="1" fill="#ff00ff"/><rect x="651" y="250" width="18" height="1" fill="#ff00ff"/><rect x="675" y="250" width="18" height="1" fill="#ff00ff"/><rect x="699" y="250" width="18" height="1" fill="#ff00ff"/><rect x="723" y="250" width="18" height="1" fill="#ff00ff"/><rect x="747" y="250" width="18" height="1" fill="#ff00ff"/><rect x="771" y="250" width="18" height="1" fill="#ff00ff"/><rect x="795" y="250" width="18" height="1" fill="#ff00ff"/><rect x="819" y="250" width="18" height="1" fill="#ff00ff"/><rect x="843" y="250" width="18" height="1" fill="#ff00ff"/><rect x="867" y="250" width="18" height="1" fill="#ff00ff"/><rect x="891" y="250" width="18" height="1" fill="#ff00ff"/><rect x="915" y="250" width="18" height="1" fill="#ff00ff"/><rect x="939" y="250" width="18" height="1" fill="#ff00ff"/><rect x="3" y="276" width="956" height="1" fill="#000"/><rect x="3" y="276" width="9" height="1" fill="#32cd32"/><rect x="15" y="276" width="3" height="1" fill="#32cd32"/><rect x="21" y="276" width="3" height="1" fill="#32cd32"/><rect x="27" y="276" width="9" height="1" fill="#32cd32"/><rect x="39" y="276" width="3" height="1" fill="#32cd32"/><rect x="45" y="276" width="3" height="1" fill="#32cd32"/><rect x="51" y="276" width="9" height="1" fill="#32cd32"/><rect x="63" y="276" width="3" height="1" fill="#32cd32"/><rect x="69" y="276" width="3" height="1" fill="#32cd32"/><rect x="75" y="276" width="9" height="1" fill="#32cd32"/><rect x="87" y="276" width="3" height="1" fill="#32cd32"/><rect x="93" y="276" width="3" height="1" fill="#32cd32"/><rect x="99" y="276" width="9" height="1" fill="#32cd32"/><rect x="111" y="276" width="3" height="1" fill="#32cd32"/><rect x="117" y="276" width="3" height="1" fill="#32cd32"/><rect x="123" y="276" width="9" height="1" fill="#32cd32"/><rect x="135" y="276" width="3" height="1" fill="#32cd32"/><rect x="141" y="276" width="3" height="1" fill="#32cd32"/><rect x="147" y="276" width="9" height="1" fill="#32cd32"/><rect x="159" y="276" width="3" height="1" fill="#32cd32"/><rect x="165" y="276" width="3" height="1" fill="#32cd32"/><rect x="171" y="276" width="9" height="1" fill="#32cd32"/><rect x="183" y="276" width="3" height="1" fill="#32cd32"/><rect x="189" y="276" width="3" height="1" fill="#32cd32"/><rect x="195" y="276" width="9" height="1" fill="#32cd32"/><rect x="207" y="276" width="3" height="1" fill="#32cd32"/><rect x="213" y="276" width="3" height="1" fill="#32cd32"/><rect x="219" y="276" width="9" height="1" fill="#32cd32"/><rect x="231" y="276" width="3" height="1" fill="#32cd32"/><rect x="237" y="276" width="3" height="1" fill="#32cd32"/><rect x="243" y="276" width="9" height="1" fill="#32cd32"/><rect x="255" y="276" width="3" height="1" fill="#32cd32"/><rect x="261" y="276" width="3" height="1" fill="#32cd32"/><rect x="267" y="276" width="9" height="1" fill="#32cd32"/><rect x="279" y="276" width="3" height="1" fill="#32cd32"/><rect x="285" y="276" width="3" height="1" fill="#32cd32"/><rect x="291" y="276" width="9" height="1" fill="#32cd32"/><rect x="303" y="276" width="3" height="1" fill="#32cd32"/><rect x="309" y="276" width="3" height="1" fill="#32cd32"/><rect x="315" y="276" width="9" height="1" fill="#32cd32"/><rect x="327" y="276" width="3" height="1" fill="#32cd32"/><rect x="333" y="276" width="3" height="1" fill="#32cd32"/><rect x="339" y="276" width="9" height="1" fill="#32cd32"/><rect x="351" y="276" width="3" height="1" fill="#32cd32"/><rect x="357" y="276" width="3" height="1" fill="#32cd32"/><rect x="363" y="276" width="9" height="1" fill="#32cd32"/><rect x="375" y="276" width="3" height="1" fill="#32cd32"/><rect x="381" y="276" width="3" height="1" fill="#32cd32"/><rect x="387" y="276" width="9" height="1" fill="#32cd32"/><rect x="399" y="276" width="3" height="1" fill="#32cd32"/><rect x="405" y="276" width="3" height="1" fill="#32cd32"/><rect x="411" y="276" width="9" height="1" fill="#32cd32"/><rect x="423" y="276" width="3" height="1" fill="#32cd32"/><rect x="429" y="276" width="3" height="1" fill="#32cd32"/><rect x="435" y="276" width="9" height="1" fill="#32cd32"/><rect x="447" y="276" width="3" height="1" fill="#32cd32"/><rect x="453" y="276" width="3" height="1" fill="#32cd32"/><rect x="459" y="276" width="9" height="1" fill="#32cd32"/><rect x="471" y="276" width="3" height="1" fill="#32cd32"/><rect x="477" y="276" width="3" height="1" fill="#32cd32"/><rect x="483" y="276" width="9" height="1" fill="#32cd32"/><rect x="495" y="276" width="3" height="1" fill="#32cd32"/><rect x="501" y="276" width="3" height="1" fill="#32cd32"/><rect x="507" y="276" width="9" height="1" fill="#32cd32"/><rect x="519" y="276" width="3" height="1" fill="#32cd32"/><rect x="525" y="276" width="3" height="1" fill="#32cd32"/><rect x="531" y="276" width="9" height="1" fill="#32cd32"/><rect x="543" y="276" width="3" height="1" fill="#32cd32"/><rect x="549" y="276" width="3" height="1" fill="#32cd32"/><rect x="555" y="276" width="9" height="1" fill="#32cd32"/><rect x="567" y="276" width="3" height="1" fill="#32cd32"/><rect x="573" y="276" width="3" height="1" fill="#32cd32"/><rect x="579" y="276" width="9" height="1" fill="#32cd32"/><rect x="591" y="276" width="3" height="1" fill="#32cd32"/><rect x="597" y="276" width="3" height="1" fill="#32cd32"/><rect x="603" y="276" width="9" height="1" fill="#32cd32"/><rect x="615" y="276" width="3" height="1" fill="#32cd32"/><rect x="621" y="276" width="3" height="1" fill="#32cd32"/><rect x="627" y="276" width="9" height="1" fill="#32cd32"/><rect x="639" y="276" width="3" height="1" fill="#32cd32"/><rect x="645" y="276" width="3" height="1" fill="#32cd32"/><rect x="651" y="276" width="9" height="1" fill="#32cd32"/><rect x="663" y="276" width="3" height="1" fill="#32cd32"/><rect x="669" y="276" width="3" height="1" fill="#32cd32"/><rect x="675" y="276" width="9" height="1" fill="#32cd32"/><rect x="687" y="276" width="3" height="1" fill="#32cd32"/><rect x="693" y="276" width="3" height="1" fill="#32cd32"/><rect x="699" y="276" width="9" height="1" fill="#32cd32"/><rect x="711" y="276" width="3" height="1" fill="#32cd32"/><rect x="717" y="276" width="3" height="1" fill="#32cd32"/><rect x="723" y="276" width="9" height="1" fill="#32cd32"/><rect x="735" y="276" width="3" height="1" fill="#32cd32"/><rect x="741" y="276" width="3" height="1" fill="#32cd32"/><rect x="747" y="276" width="9" height="1" fill="#32cd32"/><rect x="759" y="276" width="3" height="1" fill="#32cd32"/><rect x="765" y="276" width="3" height="1" fill="#32cd32"/><rect x="771" y="276" width="9" height="1" fill="#32cd32"/><rect x="783" y="276" width="3" height="1" fill="#32cd32"/><rect x="789" y="276" width="3" height="1" fill="#32cd32"/><rect x="795" y="276" width="9" height="1" fill="#32cd32"/><rect x="807" y="276" width="3" height="1" fill="#32cd32"/><rect x="813" y="276" width="3" height="1" fill="#32cd32"/><rect x="819" y="276" width="9" height="1" fill="#32cd32"/><rect x="831" y="276" width="3" height="1" fill="#32cd32"/><rect x="837" y="276" width="3" height="1" fill="#32cd32"/><rect x="843" y="276" width="9" height="1" fill="#32cd32"/><rect x="855" y="276" width="3" height="1" fill="#32cd32"/><rect x="861" y="276" width="3" height="1" fill="#32cd32"/><rect x="867" y="276" width="9" height="1" fill="#32cd32"/><rect x="879" y="276" width="3" height="1" fill="#32cd32"/><rect x="885" y="276" width="3" height="1" fill="#32cd32"/><rect x="891" y="276" width="9" height="1" fill="#32cd32"/><rect x="903" y="276" width="3" height="1" fill="#32cd32"/><rect x="909" y="276" width="3" height="1" fill="#32cd32"/><rect x="915" y="276" width="9" height="1" fill="#32cd32"/><rect x="927" y="276" width="3" height="1" fill="#32cd32"/><rect x="933" y="276" width="3" height="1" fill="#32cd32"/><rect x="939" y="276" width="9" height="1" fill="#32cd32"/><rect x="951" y="276" width="3" height="1" fill="#32cd32"/><rect x="957" y="276" width="2" height="1" fill="#32cd32"/><rect x="3" y="315" width="956" height="1" fill="#000"/><rect x="3" y="315" width="9" height="1" fill="#32cd32"/><rect x="15" y="315" width="3" height="1" fill="#32cd32"/><rect x="21" y="315" width="3" height="1" fill="#32cd32"/><rect x="27" y="315" width="9" height="1" fill="#32cd32"/><rect x="39" y="315" width="3" height="1" fill="#32cd32"/><rect x="45" y="315" width="3" height="1" fill="#32cd32"/><rect x="51" y="315" width="9" height="1" fill="#32cd32"/><rect x="63" y="315" width="3" height="1" fill="#32cd32"/><rect x="69" y="315" width="3" height="1" fill="#32cd32"/><rect x="75" y="315" width="9" height="1" fill="#32cd32"/><rect x="87" y="315" width="3" height="1" fill="#32cd32"/><rect x="93" y="315" width="3" height="1" fill="#32cd32"/><rect x="99" y="315" width="9" height="1" fill="#32cd32"/><rect x="111" y="315" width="3" height="1" fill="#32cd32"/><rect x="117" y="315" width="3" height="1" fill="#32cd32"/><rect x="123" y="315" width="9" height="1" fill="#32cd32"/><rect x="135" y="315" width="3" height="1" fill="#32cd32"/><rect x="141" y="315" width="3" height="1" fill="#32cd32"/><rect x="147" y="315" width="9" height="1" fill="#32cd32"/><rect x="159" y="315" width="3" height="1" fill="#32cd32"/><rect x="165" y="315" width="3" height="1" fill="#32cd32"/><rect x="171" y="315" width="9" height="1" fill="#32cd32"/><rect x="183" y="315" width="3" height="1" fill="#32cd32"/><rect x="189" y="315" width="3" height="1" fill="#32cd32"/><rect x="195" y="315" width="9" height="1" fill="#32cd32"/><rect x="207" y="315" width="3" height="1" fill="#32cd32"/><rect x="213" y="315" width="3" height="1" fill="#32cd32"/><rect x="219" y="315" width="9" height="1" fill="#32cd32"/><rect x="231" y="315" width="3" height="1" fill="#32cd32"/><rect x="237" y="315" width="3" height="1" fill="#32cd32"/><rect x="243" y="315" width="9" height="1" fill="#32cd32"/><rect x="255" y="315" width="3" height="1" fill="#32cd32"/><rect x="261" y="315" width="3" height="1" fill="#32cd32"/><rect x="267" y="315" width="9" height="1" fill="#32cd32"/><rect x="279" y="315" width="3" height="1" fill="#32cd32"/><rect x="285" y="315" width="3" height="1" fill="#32cd32"/><rect x="291" y="315" width="9" height="1" fill="#32cd32"/><rect x="303" y="315" width="3" height="1" fill="#32cd32"/><rect x="309" y="315" width="3" height="1" fill="#32cd32"/><rect x="315" y="315" width="9" height="1" fill="#32cd32"/><rect x="327" y="315" width="3" height="1" fill="#32cd32"/><rect x="333" y="315" width="3" height="1" fill="#32cd32"/><rect x="339" y="315" width="9" height="1" fill="#32cd32"/><rect x="351" y="315" width="3" height="1" fill="#32cd32"/><rect x="357" y="315" width="3" height="1" fill="#32cd32"/><rect x="363" y="315" width="9" height="1" fill="#32cd32"/><rect x="375" y="315" width="3" height="1" fill="#32cd32"/><rect x="381" y="315" width="3" height="1" fill="#32cd32"/><rect x="387" y="315" width="9" height="1" fill="#32cd32"/><rect x="399" y="315" width="3" height="1" fill="#32cd32"/><rect x="405" y="315" width="3" height="1" fill="#32cd32"/><rect x="411" y="315" width="9" height="1" fill="#32cd32"/><rect x="423" y="315" width="3" height="1" fill="#32cd32"/><rect x="429" y="315" width="3" height="1" fill="#32cd32"/><rect x="435" y="315" width="9" height="1" fill="#32cd32"/><rect x="447" y="315" width="3" height="1" fill="#32cd32"/><rect x="453" y="315" width="3" height="1" fill="#32cd32"/><rect x="459" y="315" width="9" height="1" fill="#32cd32"/><rect x="471" y="315" width="3" height="1" fill="#32cd32"/><rect x="477" y="315" width="3" height="1" fill="#32cd32"/><rect x="483" y="315" width="9" height="1" fill="#32cd32"/><rect x="495" y="315" width="3" height="1" fill="#32cd32"/><rect x="501" y="315" width="3" height="1" fill="#32cd32"/><rect x="507" y="315" width="9" height="1" fill="#32cd32"/><rect x="519" y="315" width="3" height="1" fill="#32cd32"/><rect x="525" y="315" width="3" height="1" fill="#32cd32"/><rect x="531" y="315" width="9" height="1" fill="#32cd32"/><rect x="543" y="315" width="3" height="1" fill="#32cd32"/><rect x="549" y="315" width="3" height="1" fill="#32cd32"/><rect x="555" y="315" width="9" height="1" fill="#32cd32"/><rect x="567" y="315" width="3" height="1" fill="#32cd32"/><rect x="573" y="315" width="3" height="1" fill="#32cd32"/><rect x="579" y="315" width="9" height="1" fill="#32cd32"/><rect x="591" y="315" width="3" height="1" fill="#32cd32"/><rect x="597" y="315" width="3" height="1" fill="#32cd32"/><rect x="603" y="315" width="9" height="1" fill="#32cd32"/><rect x="615" y="315" width="3" height="1" fill="#32cd32"/><rect x="621" y="315" width="3" height="1" fill="#32cd32"/><rect x="627" y="315" width="9" height="1" fill="#32cd32"/><rect x="639" y="315" width="3" height="1" fill="#32cd32"/><rect x="645" y="315" width="3" height="1" fill="#32cd32"/><rect x="651" y="315" width="9" height="1" fill="#32cd32"/><rect x="663" y="315" width="3" height="1" fill="#32cd32"/><rect x="669" y="315" width="3" height="1" fill="#32cd32"/><rect x="675" y="315" width="9" height="1" fill="#32cd32"/><rect x="687" y="315" width="3" height="1" fill="#32cd32"/><rect x="693" y="315" width="3" height="1" fill="#32cd32"/><rect x="699" y="315" width="9" height="1" fill="#32cd32"/><rect x="711" y="315" width="3" height="1" fill="#32cd32"/><rect x="717" y="315" width="3" height="1" fill="#32cd32"/><rect x="723" y="315" width="9" height="1" fill="#32cd32"/><rect x="735" y="315" width="3" height="1" fill="#32cd32"/><rect x="741" y="315" width="3" height="1" fill="#32cd32"/><rect x="747" y="315" width="9" height="1" fill="#32cd32"/><rect x="759" y="315" width="3" height="1" fill="#32cd32"/><rect x="765" y="315" width="3" height="1" fill="#32cd32"/><rect x="771" y="315" width="9" height="1" fill="#32cd32"/><rect x="783" y="315" width="3" height="1" fill="#32cd32"/><rect x="789" y="315" width="3" height="1" fill="#32cd32"/><rect x="795" y="315" width="9" height="1" fill="#32cd32"/><rect x="807" y="315" width="3" height="1" fill="#32cd32"/><rect x="813" y="315" width="3" height="1" fill="#32cd32"/><rect x="819" y="315" width="9" height="1" fill="#32cd32"/><rect x="831" y="315" width="3" height="1" fill="#32cd32"/><rect x="837" y="315" width="3" height="1" fill="#32cd32"/><rect x="843" y="315" width="9" height="1" fill="#32cd32"/><rect x="855" y="315" width="3" height="1" fill="#32cd32"/><rect x="861" y="315" width="3" height="1" fill="#32cd32"/><rect x="867" y="315" width="9" height="1" fill="#32cd32"/><rect x="879" y="315" width="3" height="1" fill="#32cd32"/><rect x="885" y="315" width="3" height="1" fill="#32cd32"/><rect x="891" y="315" width="9" height="1" fill="#32cd32"/><rect x="903" y="315" width="3" height="1" fill="#32cd32"/><rect x="909" y="315" width="3" height="1" fill="#32cd32"/><rect x="915" y="315" width="9" height="1" fill="#32cd32"/><rect x="927" y="315" width="3" height="1" fill="#32cd32"/><rect x="933" y="315" width="3" height="1" fill="#32cd32"/><rect x="939" y="315" width="9" height="1" fill="#32cd32"/><rect x="951" y="315" width="3" height="1" fill="#32cd32"/><rect x="957" y="315" width="2" height="1" fill="#32cd32"/><rect x="3" y="288" width="956" height="4" fill="#ffffff"/><rect x="1" y="286" width="8" height="8" fill="#ffffff"/><rect x="952" y="286" width="7" height="8" fill="#ffffff"/><rect x="3" y="289" width="956" height="1" fill="#000000"/><rect x="3" y="289" width="9" height="1" fill="#32cd32"/><rect x="15" y="289" width="3" height="1" fill="#32cd32"/><rect x="21" y="289" width="3" height="1" fill="#32cd32"/><rect x="27" y="289" width="9" height="1" fill="#32cd32"/><rect x="39" y="289" width="3" height="1" fill="#32cd32"/><rect x="45" y="289" width="3" height="1" fill="#32cd32"/><rect x="51" y="289" width="9" height="1" fill="#32cd32"/><rect x="63" y="289" width="3" height="1" fill="#32cd32"/><rect x="69" y="289" width="3" height="1" fill="#32cd32"/><rect x="75" y="289" width="9" height="1" fill="#32cd32"/><rect x="87" y="289" width="3" height="1" fill="#32cd32"/><rect x="93" y="289" width="3" height="1" fill="#32cd32"/><rect x="99" y="289" width="9" height="1" fill="#32cd32"/><rect x="111" y="289" width="3" height="1" fill="#32cd32"/><rect x="117" y="289" width="3" height="1" fill="#32cd32"/><rect x="123" y="289" width="9" height="1" fill="#32cd32"/><rect x="135" y="289" width="3" height="1" fill="#32cd32"/><rect x="141" y="289" width="3" height="1" fill="#32cd32"/><rect x="147" y="289" width="9" height="1" fill="#32cd32"/><rect x="159" y="289" width="3" height="1" fill="#32cd32"/><rect x="165" y="289" width="3" height="1" fill="#32cd32"/><rect x="171" y="289" width="9" height="1" fill="#32cd32"/><rect x="183" y="289" width="3" height="1" fill="#32cd32"/><rect x="189" y="289" width="3" height="1" fill="#32cd32"/><rect x="195" y="289" width="9" height="1" fill="#32cd32"/><rect x="207" y="289" width="3" height="1" fill="#32cd32"/><rect x="213" y="289" width="3" height="1" fill="#32cd32"/><rect x="219" y="289" width="9" height="1" fill="#32cd32"/><rect x="231" y="289" width="3" height="1" fill="#32cd32"/><rect x="237" y="289" width="3" height="1" fill="#32cd32"/><rect x="243" y="289" width="9" height="1" fill="#32cd32"/><rect x="255" y="289" width="3" height="1" fill="#32cd32"/><rect x="261" y="289" width="3" height="1" fill="#32cd32"/><rect x="267" y="289" width="9" height="1" fill="#32cd32"/><rect x="279" y="289" width="3" height="1" fill="#32cd32"/><rect x="285" y="289" width="3" height="1" fill="#32cd32"/><rect x="291" y="289" width="9" height="1" fill="#32cd32"/><rect x="303" y="289" width="3" height="1" fill="#32cd32"/><rect x="309" y="289" width="3" height="1" fill="#32cd32"/><rect x="315" y="289" width="9" height="1" fill="#32cd32"/><rect x="327" y="289" width="3" height="1" fill="#32cd32"/><rect x="333" y="289" width="3" height="1" fill="#32cd32"/><rect x="339" y="289" width="9" height="1" fill="#32cd32"/><rect x="351" y="289" width="3" height="1" fill="#32cd32"/><rect x="357" y="289" width="3" height="1" fill="#32cd32"/><rect x="363" y="289" width="9" height="1" fill="#32cd32"/><rect x="375" y="289" width="3" height="1" fill="#32cd32"/><rect x="381" y="289" width="3" height="1" fill="#32cd32"/><rect x="387" y="289" width="9" height="1" fill="#32cd32"/><rect x="399" y="289" width="3" height="1" fill="#32cd32"/><rect x="405" y="289" width="3" height="1" fill="#32cd32"/><rect x="411" y="289" width="9" height="1" fill="#32cd32"/><rect x="423" y="289" width="3" height="1" fill="#32cd32"/><rect x="429" y="289" width="3" height="1" fill="#32cd32"/><rect x="435" y="289" width="9" height="1" fill="#32cd32"/><rect x="447" y="289" width="3" height="1" fill="#32cd32"/><rect x="453" y="289" width="3" height="1" fill="#32cd32"/><rect x="459" y="289" width="9" height="1" fill="#32cd32"/><rect x="471" y="289" width="3" height="1" fill="#32cd32"/><rect x="477" y="289" width="3" height="1" fill="#32cd32"/><rect x="483" y="289" width="9" height="1" fill="#32cd32"/><rect x="495" y="289" width="3" height="1" fill="#32cd32"/><rect x="501" y="289" width="3" height="1" fill="#32cd32"/><rect x="507" y="289" width="9" height="1" fill="#32cd32"/><rect x="519" y="289" width="3" height="1" fill="#32cd32"/><rect x="525" y="289" width="3" height="1" fill="#32cd32"/><rect x="531" y="289" width="9" height="1" fill="#32cd32"/><rect x="543" y="289" width="3" height="1" fill="#32cd32"/><rect x="549" y="289" width="3" height="1" fill="#32cd32"/><rect x="555" y="289" width="9" height="1" fill="#32cd32"/><rect x="567" y="289" width="3" height="1" fill="#32cd32"/><rect x="573" y="289" width="3" height="1" fill="#32cd32"/><rect x="579" y="289" width="9" height="1" fill="#32cd32"/><rect x="591" y="289" width="3" height="1" fill="#32cd32"/><rect x="597" y="289" width="3" height="1" fill="#32cd32"/><rect x="603" y="289" width="9" height="1" fill="#32cd32"/><rect x="615" y="289" width="3" height="1" fill="#32cd32"/><rect x="621" y="289" width="3" height="1" fill="#32cd32"/><rect x="627" y="289" width="9" height="1" fill="#32cd32"/><rect x="639" y="289" width="3" height="1" fill="#32cd32"/><rect x="645" y="289" width="3" height="1" fill="#32cd32"/><rect x="651" y="289" width="9" height="1" fill="#32cd32"/><rect x="663" y="289" width="3" height="1" fill="#32cd32"/><rect x="669" y="289" width="3" height="1" fill="#32cd32"/><rect x="675" y="289" width="9" height="1" fill="#32cd32"/><rect x="687" y="289" width="3" height="1" fill="#32cd32"/><rect x="693" y="289" width="3" height="1" fill="#32cd32"/><rect x="699" y="289" width="9" height="1" fill="#32cd32"/><rect x="711" y="289" width="3" height="1" fill="#32cd32"/><rect x="717" y="289" width="3" height="1" fill="#32cd32"/><rect x="723" y="289" width="9" height="1" fill="#32cd32"/><rect x="735" y="289" width="3" height="1" fill="#32cd32"/><rect x="741" y="289" width="3" height="1" fill="#32cd32"/><rect x="747" y="289" width="9" height="1" fill="#32cd32"/><rect x="759" y="289" width="3" height="1" fill="#32cd32"/><rect x="765" y="289" width="3" height="1" fill="#32cd32"/><rect x="771" y="289" width="9" height="1" fill="#32cd32"/><rect x="783" y="289" width="3" height="1" fill="#32cd32"/><rect x="789" y="289" width="3" height="1" fill="#32cd32"/><rect x="795" y="289" width="9" height="1" fill="#32cd32"/><rect x="807" y="289" width="3" height="1" fill="#32cd32"/><rect x="813" y="289" width="3" height="1" fill="#32cd32"/><rect x="819" y="289" width="9" height="1" fill="#32cd32"/><rect x="831" y="289" width="3" height="1" fill="#32cd32"/><rect x="837" y="289" width="3" height="1" fill="#32cd32"/><rect x="843" y="289" width="9" height="1" fill="#32cd32"/><rect x="855" y="289" width="3" height="1" fill="#32cd32"/><rect x="861" y="289" width="3" height="1" fill="#32cd32"/><rect x="867" y="289" width="9" height="1" fill="#32cd32"/><rect x="879" y="289" width="3" height="1" fill="#32cd32"/><rect x="885" y="289" width="3" height="1" fill="#32cd32"/><rect x="891" y="289" width="9" height="1" fill="#32cd32"/><rect x="903" y="289" width="3" height="1" fill="#32cd32"/><rect x="909" y="289" width="3" height="1" fill="#32cd32"/><rect x="915" y="289" width="9" height="1" fill="#32cd32"/><rect x="927" y="289" width="3" height="1" fill="#32cd32"/><rect x="933" y="289" width="3" height="1" fill="#32cd32"/><rect x="939" y="289" width="9" height="1" fill="#32cd32"/><rect x="951" y="289" width="3" height="1" fill="#32cd32"/><rect x="957" y="289" width="2" height="1" fill="#32cd32"/><rect x="3" y="161" width="1" height="29" fill="#00ff00"/><rect x="-2" y="178" width="11" height="3" fill="#00ff00"/><rect x="-1" y="179" width="9" height="1" fill="#ff0000"/><rect x="19" y="171" width="1" height="32" fill="#00ff00"/><rect x="14" y="183" width="11" height="8" fill="#00ff00"/><rect x="15" y="184" width="9" height="6" fill="#ff0000"/><rect x="35" y="154" width="1" height="52" fill="#00ff00"/><rect x="30" y="160" width="11" height="37" fill="#00ff00"/><rect x="31" y="161" width="9" height="35" fill="#4169e1"/><rect x="51" y="156" width="1" height="59" fill="#00ff00"/><rect x="46" y="161" width="11" height="53" fill="#00ff00"/><rect x="47" y="162" width="9" height="51" fill="#ff0000"/><rect x="67" y="201" width="1" height="28" fill="#00ff00"/><rect x="62" y="204" width="11" height="12" fill="#00ff00"/><rect x="63" y="205" width="9" height="10" fill="#ff0000"/><rect x="83" y="184" width="1" height="29" fill="#00ff00"/><rect x="78" y="196" width="11" height="15" fill="#00ff00"/><rect x="79" y="197" width="9" height="13" fill="#4169e1"/><rect x="99" y="187" width="1" height="40" fill="#00ff00"/><rect x="94" y="196" width="11" height="14" fill="#00ff00"/><rect x="95" y="197" width="9" height="12" fill="#ff0000"/><rect x="115" y="195" width="1" height="29" fill="#00ff00"/><rect x="110" y="199" width="11" height="14" fill="#00ff00"/><rect x="111" y="200" width="9" height="12" fill="#4169e1"/><rect x="131" y="178" width="1" height="21" fill="#00ff00"/><rect x="126" y="181" width="11" height="17" fill="#00ff00"/><rect x="127" y="182" width="9" height="15" fill="#4169e1"/><rect x="147" y="146" width="1" height="29" fill="#00ff00"/><rect x="142" y="149" width="11" height="26" fill="#00ff00"/><rect x="143" y="150" width="9" height="24" fill="#4169e1"/><rect x="163" y="145" width="1" height="13" fill="#00ff00"/><rect x="158" y="148" width="11" height="4" fill="#00ff00"/><rect x="159" y="149" width="9" height="2" fill="#4169e1"/><rect x="179" y="130" width="1" height="25" fill="#00ff00"/><rect x="174" y="143" width="11" height="11" fill="#00ff00"/><rect x="175" y="144" width="9" height="9" fill="#4169e1"/><rect x="195" y="134" width="1" height="15" fill="#00ff00"/><rect x="190" y="137" width="11" height="3" fill="#00ff00"/><rect x="191" y="138" width="9" height="1" fill="#4169e1"/><rect x="211" y="123" width="1" height="17" fill="#00ff00"/><rect x="206" y="125" width="11" height="14" fill="#00ff00"/><rect x="207" y="126" width="9" height="12" fill="#4169e1"/><rect x="227" y="120" width="1" height="16" fill="#00ff00"/><rect x="222" y="121" width="11" height="4" fill="#00ff00"/><rect x="223" y="122" width="9" height="2" fill="#4169e1"/><rect x="243" y="122" width="1" height="21" fill="#00ff00"/><rect x="238" y="124" width="11" height="15" fill="#00ff00"/><rect x="239" y="125" width="9" height="13" fill="#ff0000"/><rect x="259" y="126" width="1" height="17" fill="#00ff00"/><rect x="254" y="128" width="11" height="12" fill="#00ff00"/><rect x="255" y="129" width="9" height="10" fill="#4169e1"/><rect x="275" y="120" width="1" height="15" fill="#00ff00"/><rect x="270" y="125" width="11" height="5" fill="#00ff00"/><rect x="271" y="126" width="9" height="3" fill="#ff0000"/><rect x="291" y="106" width="1" height="25" fill="#00ff00"/><rect x="286" y="110" width="11" height="19" fill="#00ff00"/><rect x="287" y="111" width="9" height="17" fill="#4169e1"/><rect x="307" y="106" width="1" height="14" fill="#00ff00"/><rect x="302" y="111" width="11" height="2" fill="#00ff00"/><rect x="323" y="99" width="1" height="17" fill="#00ff00"/><rect x="318" y="110" width="11" height="1" fill="#00ff00"/><rect x="339" y="97" width="1" height="25" fill="#00ff00"/><rect x="334" y="112" width="11" height="6" fill="#00ff00"/><rect x="335" y="113" width="9" height="4" fill="#ff0000"/><rect x="355" y="108" width="1" height="23" fill="#00ff00"/><rect x="350" y="113" width="11" height="7" fill="#00ff00"/><rect x="351" y="114" width="9" height="5" fill="#4169e1"/><rect x="371" y="107" width="1" height="15" fill="#00ff00"/><rect x="366" y="109" width="11" height="3" fill="#00ff00"/><rect x="367" y="110" width="9" height="1" fill="#4169e1"/><rect x="387" y="81" width="1" height="33" fill="#00ff00"/><rect x="382" y="85" width="11" height="24" fill="#00ff00"/><rect x="383" y="86" width="9" height="22" fill="#4169e1"/><rect x="403" y="81" width="1" height="12" fill="#00ff00"/><rect x="398" y="83" width="11" height="8" fill="#00ff00"/><rect x="399" y="84" width="9" height="6" fill="#ff0000"/><rect x="419" y="85" width="1" height="21" fill="#00ff00"/><rect x="414" y="90" width="11" height="4" fill="#00ff00"/><rect x="415" y="91" width="9" height="2" fill="#ff0000"/><rect x="435" y="78" width="1" height="26" fill="#00ff00"/><rect x="430" y="80" width="11" height="16" fill="#00ff00"/><rect x="431" y="81" width="9" height="14" fill="#4169e1"/><rect x="451" y="69" width="1" height="14" fill="#00ff00"/><rect x="446" y="75" width="11" height="6" fill="#00ff00"/><rect x="447" y="76" width="9" height="4" fill="#4169e1"/><rect x="467" y="70" width="1" height="24" fill="#00ff00"/><rect x="462" y="74" width="11" height="6" fill="#00ff00"/><rect x="463" y="75" width="9" height="4" fill="#4169e1"/><rect x="483" y="59" width="1" height="37" fill="#00ff00"/><rect x="478" y="67" width="11" height="29" fill="#00ff00"/><rect x="479" y="68" width="9" height="27" fill="#ff0000"/><rect x="499" y="86" width="1" height="32" fill="#00ff00"/><rect x="494" y="100" width="11" height="2" fill="#00ff00"/><rect x="515" y="71" width="1" height="33" fill="#00ff00"/><rect x="510" y="74" width="11" height="27" fill="#00ff00"/><rect x="511" y="75" width="9" height="25" fill="#4169e1"/><rect x="531" y="81" width="1" height="55" fill="#00ff00"/><rect x="526" y="86" width="11" height="33" fill="#00ff00"/><rect x="527" y="87" width="9" height="31" fill="#4169e1"/><rect x="547" y="88" width="1" height="67" fill="#00ff00"/><rect x="542" y="104" width="11" height="30" fill="#00ff00"/><rect x="543" y="105" width="9" height="28" fill="#ff0000"/><rect x="563" y="119" width="1" height="30" fill="#00ff00"/><rect x="558" y="132" width="11" height="7" fill="#00ff00"/><rect x="559" y="133" width="9" height="5" fill="#ff0000"/><rect x="579" y="134" width="1" height="48" fill="#00ff00"/><rect x="574" y="136" width="11" height="13" fill="#00ff00"/><rect x="575" y="137" width="9" height="11" fill="#ff0000"/><rect x="595" y="126" width="1" height="66" fill="#00ff00"/><rect x="590" y="136" width="11" height="15" fill="#00ff00"/><rect x="591" y="137" width="9" height="13" fill="#4169e1"/><rect x="611" y="152" width="1" height="63" fill="#00ff00"/><rect x="606" y="154" width="11" height="51" fill="#00ff00"/><rect x="607" y="155" width="9" height="49" fill="#ff0000"/><rect x="627" y="164" width="1" height="50" fill="#00ff00"/><rect x="622" y="182" width="11" height="32" fill="#00ff00"/><rect x="623" y="183" width="9" height="30" fill="#4169e1"/><rect x="643" y="158" width="1" height="44" fill="#00ff00"/><rect x="638" y="166" width="11" height="11" fill="#00ff00"/><rect x="639" y="167" width="9" height="9" fill="#4169e1"/><rect x="659" y="125" width="1" height="55" fill="#00ff00"/><rect x="654" y="142" width="11" height="26" fill="#00ff00"/><rect x="655" y="143" width="9" height="24" fill="#4169e1"/><rect x="675" y="131" width="1" height="35" fill="#00ff00"/><rect x="670" y="140" width="11" height="19" fill="#00ff00"/><rect x="671" y="141" width="9" height="17" fill="#ff0000"/><rect x="691" y="141" width="1" height="44" fill="#00ff00"/><rect x="686" y="151" width="11" height="26" fill="#00ff00"/><rect x="687" y="152" width="9" height="24" fill="#ff0000"/><rect x="707" y="147" width="1" height="25" fill="#00ff00"/><rect x="702" y="152" width="11" height="17" fill="#00ff00"/><rect x="703" y="153" width="9" height="15" fill="#4169e1"/><rect x="723" y="148" width="1" height="22" fill="#00ff00"/><rect x="718" y="151" width="11" height="10" fill="#00ff00"/><rect x="719" y="152" width="9" height="8" fill="#ff0000"/><rect x="739" y="160" width="1" height="51" fill="#00ff00"/><rect x="734" y="160" width="11" height="35" fill="#00ff00"/><rect x="735" y="161" width="9" height="33" fill="#ff0000"/><rect x="755" y="175" width="1" height="24" fill="#00ff00"/><rect x="750" y="189" width="11" height="5" fill="#00ff00"/><rect x="751" y="190" width="9" height="3" fill="#4169e1"/><rect x="771" y="178" width="1" height="14" fill="#00ff00"/><rect x="766" y="185" width="11" height="2" fill="#00ff00"/><rect x="787" y="175" width="1" height="40" fill="#00ff00"/><rect x="782" y="183" width="11" height="32" fill="#00ff00"/><rect x="783" y="184" width="9" height="30" fill="#ff0000"/><rect x="803" y="209" width="1" height="40" fill="#00ff00"/><rect x="798" y="211" width="11" height="22" fill="#00ff00"/><rect x="799" y="212" width="9" height="20" fill="#ff0000"/><rect x="819" y="216" width="1" height="23" fill="#00ff00"/><rect x="814" y="226" width="11" height="5" fill="#00ff00"/><rect x="815" y="227" width="9" height="3" fill="#4169e1"/><rect x="835" y="225" width="1" height="40" fill="#00ff00"/><rect x="830" y="225" width="11" height="39" fill="#00ff00"/><rect x="831" y="226" width="9" height="37" fill="#ff0000"/><rect x="851" y="273" width="1" height="8" fill="#00ff00"/><rect x="846" y="274" width="11" height="5" fill="#00ff00"/><rect x="847" y="275" width="9" height="3" fill="#4169e1"/></g><rect x="1" y="286" width="2" height="8" fill="#ffffff"/><g clip-path="url(#cc)"><rect x="4" y="440" width="3" height="1" fill="#d8d8d8"/><rect x="10" y="440" width="3" height="1" fill="#d8d8d8"/><rect x="16" y="440" width="3" height="1" fill="#d8d8d8"/><rect x="22" y="440" width="3" height="1" fill="#d8d8d8"/><rect x="28" y="440" width="3" height="1" fill="#d8d8d8"/><rect x="34" y="440" width="3" height="1" fill="#d8d8d8"/><rect x="40" y="440" width="3" height="1" fill="#d8d8d8"/><rect x="46" y="440" width="3" height="1" fill="#d8d8d8"/><rect x="52" y="440" width="3" height="1" fill="#d8d8d8"/><rect x="58" y="440" width="3" height="1" fill="#d8d8d8"/><rect x="64" y="440" width="3" height="1" fill="#d8d8d8"/><rect x="70" y="440" width="3" height="1" fill="#d8d8d8"/><rect x="76" y="440" width="3" height="1" fill="#d8d8d8"/><rect x="82" y="440" width="3" height="1" fill="#d8d8d8"/><rect x="88" y="440" width="3" height="1" fill="#d8d8d8"/><rect x="94" y="440" width="3" height="1" fill="#d8d8d8"/><rect x="100" y="440" width="3" height="1" fill="#d8d8d8"/><rect x="106" y="440" width="3" height="1" fill="#d8d8d8"/><rect x="112" y="440" width="3" height="1" fill="#d8d8d8"/><rect x="118" y="440" width="3" height="1" fill="#d8d8d8"/><rect x="124" y="440" width="3" height="1" fill="#d8d8d8"/><rect x="130" y="440" width="3" height="1" fill="#d8d8d8"/><rect x="136" y="440" width="3" height="1" fill="#d8d8d8"/><rect x="142" y="440" width="3" height="1" fill="#d8d8d8"/><rect x="148" y="440" width="3" height="1" fill="#d8d8d8"/><rect x="154" y="440" width="3" height="1" fill="#d8d8d8"/><rect x="160" y="440" width="3" height="1" fill="#d8d8d8"/><rect x="166" y="440" width="3" height="1" fill="#d8d8d8"/><rect x="172" y="440" width="3" height="1" fill="#d8d8d8"/><rect x="178" y="440" width="3" height="1" fill="#d8d8d8"/><rect x="184" y="440" width="3" height="1" fill="#d8d8d8"/><rect x="190" y="440" width="3" height="1" fill="#d8d8d8"/><rect x="196" y="440" width="3" height="1" fill="#d8d8d8"/><rect x="202" y="440" width="3" height="1" fill="#d8d8d8"/><rect x="208" y="440" width="3" height="1" fill="#d8d8d8"/><rect x="214" y="440" width="3" height="1" fill="#d8d8d8"/><rect x="220" y="440" width="3" height="1" fill="#d8d8d8"/><rect x="226" y="440" width="3" height="1" fill="#d8d8d8"/><rect x="232" y="440" width="3" height="1" fill="#d8d8d8"/><rect x="238" y="440" width="3" height="1" fill="#d8d8d8"/><rect x="244" y="440" width="3" height="1" fill="#d8d8d8"/><rect x="250" y="440" width="3" height="1" fill="#d8d8d8"/><rect x="256" y="440" width="3" height="1" fill="#d8d8d8"/><rect x="262" y="440" width="3" height="1" fill="#d8d8d8"/><rect x="268" y="440" width="3" height="1" fill="#d8d8d8"/><rect x="274" y="440" width="3" height="1" fill="#d8d8d8"/><rect x="280" y="440" width="3" height="1" fill="#d8d8d8"/><rect x="286" y="440" width="3" height="1" fill="#d8d8d8"/><rect x="292" y="440" width="3" height="1" fill="#d8d8d8"/><rect x="298" y="440" width="3" height="1" fill="#d8d8d8"/><rect x="304" y="440" width="3" height="1" fill="#d8d8d8"/><rect x="310" y="440" width="3" height="1" fill="#d8d8d8"/><rect x="316" y="440" width="3" height="1" fill="#d8d8d8"/><rect x="322" y="440" width="3" height="1" fill="#d8d8d8"/><rect x="328" y="440" width="3" height="1" fill="#d8d8d8"/><rect x="334" y="440" width="3" height="1" fill="#d8d8d8"/><rect x="340" y="440" width="3" height="1" fill="#d8d8d8"/><rect x="346" y="440" width="3" height="1" fill="#d8d8d8"/><rect x="352" y="440" width="3" height="1" fill="#d8d8d8"/><rect x="358" y="440" width="3" height="1" fill="#d8d8d8"/><rect x="364" y="440" width="3" height="1" fill="#d8d8d8"/><rect x="370" y="440" width="3" height="1" fill="#d8d8d8"/><rect x="376" y="440" width="3" height="1" fill="#d8d8d8"/><rect x="382" y="440" width="3" height="1" fill="#d8d8d8"/><rect x="388" y="440" width="3" height="1" fill="#d8d8d8"/><rect x="394" y="440" width="3" height="1" fill="#d8d8d8"/><rect x="400" y="440" width="3" height="1" fill="#d8d8d8"/><rect x="406" y="440" width="3" height="1" fill="#d8d8d8"/><rect x="412" y="440" width="3" height="1" fill="#d8d8d8"/><rect x="418" y="440" width="3" height="1" fill="#d8d8d8"/><rect x="424" y="440" width="3" height="1" fill="#d8d8d8"/><rect x="430" y="440" width="3" height="1" fill="#d8d8d8"/><rect x="436" y="440" width="3" height="1" fill="#d8d8d8"/><rect x="442" y="440" width="3" height="1" fill="#d8d8d8"/><rect x="448" y="440" width="3" height="1" fill="#d8d8d8"/><rect x="454" y="440" width="3" height="1" fill="#d8d8d8"/><rect x="460" y="440" width="3" height="1" fill="#d8d8d8"/><rect x="466" y="440" width="3" height="1" fill="#d8d8d8"/><rect x="472" y="440" width="3" height="1" fill="#d8d8d8"/><rect x="478" y="440" width="3" height="1" fill="#d8d8d8"/><rect x="484" y="440" width="3" height="1" fill="#d8d8d8"/><rect x="490" y="440" width="3" height="1" fill="#d8d8d8"/><rect x="496" y="440" width="3" height="1" fill="#d8d8d8"/><rect x="502" y="440" width="3" height="1" fill="#d8d8d8"/><rect x="508" y="440" width="3" height="1" fill="#d8d8d8"/><rect x="514" y="440" width="3" height="1" fill="#d8d8d8"/><rect x="520" y="440" width="3" height="1" fill="#d8d8d8"/><rect x="526" y="440" width="3" height="1" fill="#d8d8d8"/><rect x="532" y="440" width="3" height="1" fill="#d8d8d8"/><rect x="538" y="440" width="3" height="1" fill="#d8d8d8"/><rect x="544" y="440" width="3" height="1" fill="#d8d8d8"/><rect x="550" y="440" width="3" height="1" fill="#d8d8d8"/><rect x="556" y="440" width="3" height="1" fill="#d8d8d8"/><rect x="562" y="440" width="3" height="1" fill="#d8d8d8"/><rect x="568" y="440" width="3" height="1" fill="#d8d8d8"/><rect x="574" y="440" width="3" height="1" fill="#d8d8d8"/><rect x="580" y="440" width="3" height="1" fill="#d8d8d8"/><rect x="586" y="440" width="3" height="1" fill="#d8d8d8"/><rect x="592" y="440" width="3" height="1" fill="#d8d8d8"/><rect x="598" y="440" width="3" height="1" fill="#d8d8d8"/><rect x="604" y="440" width="3" height="1" fill="#d8d8d8"/><rect x="610" y="440" width="3" height="1" fill="#d8d8d8"/><rect x="616" y="440" width="3" height="1" fill="#d8d8d8"/><rect x="622" y="440" width="3" height="1" fill="#d8d8d8"/><rect x="628" y="440" width="3" height="1" fill="#d8d8d8"/><rect x="634" y="440" width="3" height="1" fill="#d8d8d8"/><rect x="640" y="440" width="3" height="1" fill="#d8d8d8"/><rect x="646" y="440" width="3" height="1" fill="#d8d8d8"/><rect x="652" y="440" width="3" height="1" fill="#d8d8d8"/><rect x="658" y="440" width="3" height="1" fill="#d8d8d8"/><rect x="664" y="440" width="3" height="1" fill="#d8d8d8"/><rect x="670" y="440" width="3" height="1" fill="#d8d8d8"/><rect x="676" y="440" width="3" height="1" fill="#d8d8d8"/><rect x="682" y="440" width="3" height="1" fill="#d8d8d8"/><rect x="688" y="440" width="3" height="1" fill="#d8d8d8"/><rect x="694" y="440" width="3" height="1" fill="#d8d8d8"/><rect x="700" y="440" width="3" height="1" fill="#d8d8d8"/><rect x="706" y="440" width="3" height="1" fill="#d8d8d8"/><rect x="712" y="440" width="3" height="1" fill="#d8d8d8"/><rect x="718" y="440" width="3" height="1" fill="#d8d8d8"/><rect x="724" y="440" width="3" height="1" fill="#d8d8d8"/><rect x="730" y="440" width="3" height="1" fill="#d8d8d8"/><rect x="736" y="440" width="3" height="1" fill="#d8d8d8"/><rect x="742" y="440" width="3" height="1" fill="#d8d8d8"/><rect x="748" y="440" width="3" height="1" fill="#d8d8d8"/><rect x="754" y="440" width="3" height="1" fill="#d8d8d8"/><rect x="760" y="440" width="3" height="1" fill="#d8d8d8"/><rect x="766" y="440" width="3" height="1" fill="#d8d8d8"/><rect x="772" y="440" width="3" height="1" fill="#d8d8d8"/><rect x="778" y="440" width="3" height="1" fill="#d8d8d8"/><rect x="784" y="440" width="3" height="1" fill="#d8d8d8"/><rect x="790" y="440" width="3" height="1" fill="#d8d8d8"/><rect x="796" y="440" width="3" height="1" fill="#d8d8d8"/><rect x="802" y="440" width="3" height="1" fill="#d8d8d8"/><rect x="808" y="440" width="3" height="1" fill="#d8d8d8"/><rect x="814" y="440" width="3" height="1" fill="#d8d8d8"/><rect x="820" y="440" width="3" height="1" fill="#d8d8d8"/><rect x="826" y="440" width="3" height="1" fill="#d8d8d8"/><rect x="832" y="440" width="3" height="1" fill="#d8d8d8"/><rect x="838" y="440" width="3" height="1" fill="#d8d8d8"/><rect x="844" y="440" width="3" height="1" fill="#d8d8d8"/><rect x="850" y="440" width="3" height="1" fill="#d8d8d8"/><rect x="856" y="440" width="3" height="1" fill="#d8d8d8"/><rect x="862" y="440" width="3" height="1" fill="#d8d8d8"/><rect x="868" y="440" width="3" height="1" fill="#d8d8d8"/><rect x="874" y="440" width="3" height="1" fill="#d8d8d8"/><rect x="880" y="440" width="3" height="1" fill="#d8d8d8"/><rect x="886" y="440" width="3" height="1" fill="#d8d8d8"/><rect x="892" y="440" width="3" height="1" fill="#d8d8d8"/><rect x="898" y="440" width="3" height="1" fill="#d8d8d8"/><rect x="904" y="440" width="3" height="1" fill="#d8d8d8"/><rect x="910" y="440" width="3" height="1" fill="#d8d8d8"/><rect x="916" y="440" width="3" height="1" fill="#d8d8d8"/><rect x="922" y="440" width="3" height="1" fill="#d8d8d8"/><rect x="928" y="440" width="3" height="1" fill="#d8d8d8"/><rect x="934" y="440" width="3" height="1" fill="#d8d8d8"/><rect x="940" y="440" width="3" height="1" fill="#d8d8d8"/><rect x="946" y="440" width="3" height="1" fill="#d8d8d8"/><rect x="952" y="440" width="3" height="1" fill="#d8d8d8"/><rect x="958" y="440" width="1" height="1" fill="#d8d8d8"/><rect x="4" y="466" width="3" height="1" fill="#d8d8d8"/><rect x="10" y="466" width="3" height="1" fill="#d8d8d8"/><rect x="16" y="466" width="3" height="1" fill="#d8d8d8"/><rect x="22" y="466" width="3" height="1" fill="#d8d8d8"/><rect x="28" y="466" width="3" height="1" fill="#d8d8d8"/><rect x="34" y="466" width="3" height="1" fill="#d8d8d8"/><rect x="40" y="466" width="3" height="1" fill="#d8d8d8"/><rect x="46" y="466" width="3" height="1" fill="#d8d8d8"/><rect x="52" y="466" width="3" height="1" fill="#d8d8d8"/><rect x="58" y="466" width="3" height="1" fill="#d8d8d8"/><rect x="64" y="466" width="3" height="1" fill="#d8d8d8"/><rect x="70" y="466" width="3" height="1" fill="#d8d8d8"/><rect x="76" y="466" width="3" height="1" fill="#d8d8d8"/><rect x="82" y="466" width="3" height="1" fill="#d8d8d8"/><rect x="88" y="466" width="3" height="1" fill="#d8d8d8"/><rect x="94" y="466" width="3" height="1" fill="#d8d8d8"/><rect x="100" y="466" width="3" height="1" fill="#d8d8d8"/><rect x="106" y="466" width="3" height="1" fill="#d8d8d8"/><rect x="112" y="466" width="3" height="1" fill="#d8d8d8"/><rect x="118" y="466" width="3" height="1" fill="#d8d8d8"/><rect x="124" y="466" width="3" height="1" fill="#d8d8d8"/><rect x="130" y="466" width="3" height="1" fill="#d8d8d8"/><rect x="136" y="466" width="3" height="1" fill="#d8d8d8"/><rect x="142" y="466" width="3" height="1" fill="#d8d8d8"/><rect x="148" y="466" width="3" height="1" fill="#d8d8d8"/><rect x="154" y="466" width="3" height="1" fill="#d8d8d8"/><rect x="160" y="466" width="3" height="1" fill="#d8d8d8"/><rect x="166" y="466" width="3" height="1" fill="#d8d8d8"/><rect x="172" y="466" width="3" height="1" fill="#d8d8d8"/><rect x="178" y="466" width="3" height="1" fill="#d8d8d8"/><rect x="184" y="466" width="3" height="1" fill="#d8d8d8"/><rect x="190" y="466" width="3" height="1" fill="#d8d8d8"/><rect x="196" y="466" width="3" height="1" fill="#d8d8d8"/><rect x="202" y="466" width="3" height="1" fill="#d8d8d8"/><rect x="208" y="466" width="3" height="1" fill="#d8d8d8"/><rect x="214" y="466" width="3" height="1" fill="#d8d8d8"/><rect x="220" y="466" width="3" height="1" fill="#d8d8d8"/><rect x="226" y="466" width="3" height="1" fill="#d8d8d8"/><rect x="232" y="466" width="3" height="1" fill="#d8d8d8"/><rect x="238" y="466" width="3" height="1" fill="#d8d8d8"/><rect x="244" y="466" width="3" height="1" fill="#d8d8d8"/><rect x="250" y="466" width="3" height="1" fill="#d8d8d8"/><rect x="256" y="466" width="3" height="1" fill="#d8d8d8"/><rect x="262" y="466" width="3" height="1" fill="#d8d8d8"/><rect x="268" y="466" width="3" height="1" fill="#d8d8d8"/><rect x="274" y="466" width="3" height="1" fill="#d8d8d8"/><rect x="280" y="466" width="3" height="1" fill="#d8d8d8"/><rect x="286" y="466" width="3" height="1" fill="#d8d8d8"/><rect x="292" y="466" width="3" height="1" fill="#d8d8d8"/><rect x="298" y="466" width="3" height="1" fill="#d8d8d8"/><rect x="304" y="466" width="3" height="1" fill="#d8d8d8"/><rect x="310" y="466" width="3" height="1" fill="#d8d8d8"/><rect x="316" y="466" width="3" height="1" fill="#d8d8d8"/><rect x="322" y="466" width="3" height="1" fill="#d8d8d8"/><rect x="328" y="466" width="3" height="1" fill="#d8d8d8"/><rect x="334" y="466" width="3" height="1" fill="#d8d8d8"/><rect x="340" y="466" width="3" height="1" fill="#d8d8d8"/><rect x="346" y="466" width="3" height="1" fill="#d8d8d8"/><rect x="352" y="466" width="3" height="1" fill="#d8d8d8"/><rect x="358" y="466" width="3" height="1" fill="#d8d8d8"/><rect x="364" y="466" width="3" height="1" fill="#d8d8d8"/><rect x="370" y="466" width="3" height="1" fill="#d8d8d8"/><rect x="376" y="466" width="3" height="1" fill="#d8d8d8"/><rect x="382" y="466" width="3" height="1" fill="#d8d8d8"/><rect x="388" y="466" width="3" height="1" fill="#d8d8d8"/><rect x="394" y="466" width="3" height="1" fill="#d8d8d8"/><rect x="400" y="466" width="3" height="1" fill="#d8d8d8"/><rect x="406" y="466" width="3" height="1" fill="#d8d8d8"/><rect x="412" y="466" width="3" height="1" fill="#d8d8d8"/><rect x="418" y="466" width="3" height="1" fill="#d8d8d8"/><rect x="424" y="466" width="3" height="1" fill="#d8d8d8"/><rect x="430" y="466" width="3" height="1" fill="#d8d8d8"/><rect x="436" y="466" width="3" height="1" fill="#d8d8d8"/><rect x="442" y="466" width="3" height="1" fill="#d8d8d8"/><rect x="448" y="466" width="3" height="1" fill="#d8d8d8"/><rect x="454" y="466" width="3" height="1" fill="#d8d8d8"/><rect x="460" y="466" width="3" height="1" fill="#d8d8d8"/><rect x="466" y="466" width="3" height="1" fill="#d8d8d8"/><rect x="472" y="466" width="3" height="1" fill="#d8d8d8"/><rect x="478" y="466" width="3" height="1" fill="#d8d8d8"/><rect x="484" y="466" width="3" height="1" fill="#d8d8d8"/><rect x="490" y="466" width="3" height="1" fill="#d8d8d8"/><rect x="496" y="466" width="3" height="1" fill="#d8d8d8"/><rect x="502" y="466" width="3" height="1" fill="#d8d8d8"/><rect x="508" y="466" width="3" height="1" fill="#d8d8d8"/><rect x="514" y="466" width="3" height="1" fill="#d8d8d8"/><rect x="520" y="466" width="3" height="1" fill="#d8d8d8"/><rect x="526" y="466" width="3" height="1" fill="#d8d8d8"/><rect x="532" y="466" width="3" height="1" fill="#d8d8d8"/><rect x="538" y="466" width="3" height="1" fill="#d8d8d8"/><rect x="544" y="466" width="3" height="1" fill="#d8d8d8"/><rect x="550" y="466" width="3" height="1" fill="#d8d8d8"/><rect x="556" y="466" width="3" height="1" fill="#d8d8d8"/><rect x="562" y="466" width="3" height="1" fill="#d8d8d8"/><rect x="568" y="466" width="3" height="1" fill="#d8d8d8"/><rect x="574" y="466" width="3" height="1" fill="#d8d8d8"/><rect x="580" y="466" width="3" height="1" fill="#d8d8d8"/><rect x="586" y="466" width="3" height="1" fill="#d8d8d8"/><rect x="592" y="466" width="3" height="1" fill="#d8d8d8"/><rect x="598" y="466" width="3" height="1" fill="#d8d8d8"/><rect x="604" y="466" width="3" height="1" fill="#d8d8d8"/><rect x="610" y="466" width="3" height="1" fill="#d8d8d8"/><rect x="616" y="466" width="3" height="1" fill="#d8d8d8"/><rect x="622" y="466" width="3" height="1" fill="#d8d8d8"/><rect x="628" y="466" width="3" height="1" fill="#d8d8d8"/><rect x="634" y="466" width="3" height="1" fill="#d8d8d8"/><rect x="640" y="466" width="3" height="1" fill="#d8d8d8"/><rect x="646" y="466" width="3" height="1" fill="#d8d8d8"/><rect x="652" y="466" width="3" height="1" fill="#d8d8d8"/><rect x="658" y="466" width="3" height="1" fill="#d8d8d8"/><rect x="664" y="466" width="3" height="1" fill="#d8d8d8"/><rect x="670" y="466" width="3" height="1" fill="#d8d8d8"/><rect x="676" y="466" width="3" height="1" fill="#d8d8d8"/><rect x="682" y="466" width="3" height="1" fill="#d8d8d8"/><rect x="688" y="466" width="3" height="1" fill="#d8d8d8"/><rect x="694" y="466" width="3" height="1" fill="#d8d8d8"/><rect x="700" y="466" width="3" height="1" fill="#d8d8d8"/><rect x="706" y="466" width="3" height="1" fill="#d8d8d8"/><rect x="712" y="466" width="3" height="1" fill="#d8d8d8"/><rect x="718" y="466" width="3" height="1" fill="#d8d8d8"/><rect x="724" y="466" width="3" height="1" fill="#d8d8d8"/><rect x="730" y="466" width="3" height="1" fill="#d8d8d8"/><rect x="736" y="466" width="3" height="1" fill="#d8d8d8"/><rect x="742" y="466" width="3" height="1" fill="#d8d8d8"/><rect x="748" y="466" width="3" height="1" fill="#d8d8d8"/><rect x="754" y="466" width="3" height="1" fill="#d8d8d8"/><rect x="760" y="466" width="3" height="1" fill="#d8d8d8"/><rect x="766" y="466" width="3" height="1" fill="#d8d8d8"/><rect x="772" y="466" width="3" height="1" fill="#d8d8d8"/><rect x="778" y="466" width="3" height="1" fill="#d8d8d8"/><rect x="784" y="466" width="3" height="1" fill="#d8d8d8"/><rect x="790" y="466" width="3" height="1" fill="#d8d8d8"/><rect x="796" y="466" width="3" height="1" fill="#d8d8d8"/><rect x="802" y="466" width="3" height="1" fill="#d8d8d8"/><rect x="808" y="466" width="3" height="1" fill="#d8d8d8"/><rect x="814" y="466" width="3" height="1" fill="#d8d8d8"/><rect x="820" y="466" width="3" height="1" fill="#d8d8d8"/><rect x="826" y="466" width="3" height="1" fill="#d8d8d8"/><rect x="832" y="466" width="3" height="1" fill="#d8d8d8"/><rect x="838" y="466" width="3" height="1" fill="#d8d8d8"/><rect x="844" y="466" width="3" height="1" fill="#d8d8d8"/><rect x="850" y="466" width="3" height="1" fill="#d8d8d8"/><rect x="856" y="466" width="3" height="1" fill="#d8d8d8"/><rect x="862" y="466" width="3" height="1" fill="#d8d8d8"/><rect x="868" y="466" width="3" height="1" fill="#d8d8d8"/><rect x="874" y="466" width="3" height="1" fill="#d8d8d8"/><rect x="880" y="466" width="3" height="1" fill="#d8d8d8"/><rect x="886" y="466" width="3" height="1" fill="#d8d8d8"/><rect x="892" y="466" width="3" height="1" fill="#d8d8d8"/><rect x="898" y="466" width="3" height="1" fill="#d8d8d8"/><rect x="904" y="466" width="3" height="1" fill="#d8d8d8"/><rect x="910" y="466" width="3" height="1" fill="#d8d8d8"/><rect x="916" y="466" width="3" height="1" fill="#d8d8d8"/><rect x="922" y="466" width="3" height="1" fill="#d8d8d8"/><rect x="928" y="466" width="3" height="1" fill="#d8d8d8"/><rect x="934" y="466" width="3" height="1" fill="#d8d8d8"/><rect x="940" y="466" width="3" height="1" fill="#d8d8d8"/><rect x="946" y="466" width="3" height="1" fill="#d8d8d8"/><rect x="952" y="466" width="3" height="1" fill="#d8d8d8"/><rect x="958" y="466" width="1" height="1" fill="#d8d8d8"/><rect x="4" y="518" width="3" height="1" fill="#d8d8d8"/><rect x="10" y="518" width="3" height="1" fill="#d8d8d8"/><rect x="16" y="518" width="3" height="1" fill="#d8d8d8"/><rect x="22" y="518" width="3" height="1" fill="#d8d8d8"/><rect x="28" y="518" width="3" height="1" fill="#d8d8d8"/><rect x="34" y="518" width="3" height="1" fill="#d8d8d8"/><rect x="40" y="518" width="3" height="1" fill="#d8d8d8"/><rect x="46" y="518" width="3" height="1" fill="#d8d8d8"/><rect x="52" y="518" width="3" height="1" fill="#d8d8d8"/><rect x="58" y="518" width="3" height="1" fill="#d8d8d8"/><rect x="64" y="518" width="3" height="1" fill="#d8d8d8"/><rect x="70" y="518" width="3" height="1" fill="#d8d8d8"/><rect x="76" y="518" width="3" height="1" fill="#d8d8d8"/><rect x="82" y="518" width="3" height="1" fill="#d8d8d8"/><rect x="88" y="518" width="3" height="1" fill="#d8d8d8"/><rect x="94" y="518" width="3" height="1" fill="#d8d8d8"/><rect x="100" y="518" width="3" height="1" fill="#d8d8d8"/><rect x="106" y="518" width="3" height="1" fill="#d8d8d8"/><rect x="112" y="518" width="3" height="1" fill="#d8d8d8"/><rect x="118" y="518" width="3" height="1" fill="#d8d8d8"/><rect x="124" y="518" width="3" height="1" fill="#d8d8d8"/><rect x="130" y="518" width="3" height="1" fill="#d8d8d8"/><rect x="136" y="518" width="3" height="1" fill="#d8d8d8"/><rect x="142" y="518" width="3" height="1" fill="#d8d8d8"/><rect x="148" y="518" width="3" height="1" fill="#d8d8d8"/><rect x="154" y="518" width="3" height="1" fill="#d8d8d8"/><rect x="160" y="518" width="3" height="1" fill="#d8d8d8"/><rect x="166" y="518" width="3" height="1" fill="#d8d8d8"/><rect x="172" y="518" width="3" height="1" fill="#d8d8d8"/><rect x="178" y="518" width="3" height="1" fill="#d8d8d8"/><rect x="184" y="518" width="3" height="1" fill="#d8d8d8"/><rect x="190" y="518" width="3" height="1" fill="#d8d8d8"/><rect x="196" y="518" width="3" height="1" fill="#d8d8d8"/><rect x="202" y="518" width="3" height="1" fill="#d8d8d8"/><rect x="208" y="518" width="3" height="1" fill="#d8d8d8"/><rect x="214" y="518" width="3" height="1" fill="#d8d8d8"/><rect x="220" y="518" width="3" height="1" fill="#d8d8d8"/><rect x="226" y="518" width="3" height="1" fill="#d8d8d8"/><rect x="232" y="518" width="3" height="1" fill="#d8d8d8"/><rect x="238" y="518" width="3" height="1" fill="#d8d8d8"/><rect x="244" y="518" width="3" height="1" fill="#d8d8d8"/><rect x="250" y="518" width="3" height="1" fill="#d8d8d8"/><rect x="256" y="518" width="3" height="1" fill="#d8d8d8"/><rect x="262" y="518" width="3" height="1" fill="#d8d8d8"/><rect x="268" y="518" width="3" height="1" fill="#d8d8d8"/><rect x="274" y="518" width="3" height="1" fill="#d8d8d8"/><rect x="280" y="518" width="3" height="1" fill="#d8d8d8"/><rect x="286" y="518" width="3" height="1" fill="#d8d8d8"/><rect x="292" y="518" width="3" height="1" fill="#d8d8d8"/><rect x="298" y="518" width="3" height="1" fill="#d8d8d8"/><rect x="304" y="518" width="3" height="1" fill="#d8d8d8"/><rect x="310" y="518" width="3" height="1" fill="#d8d8d8"/><rect x="316" y="518" width="3" height="1" fill="#d8d8d8"/><rect x="322" y="518" width="3" height="1" fill="#d8d8d8"/><rect x="328" y="518" width="3" height="1" fill="#d8d8d8"/><rect x="334" y="518" width="3" height="1" fill="#d8d8d8"/><rect x="340" y="518" width="3" height="1" fill="#d8d8d8"/><rect x="346" y="518" width="3" height="1" fill="#d8d8d8"/><rect x="352" y="518" width="3" height="1" fill="#d8d8d8"/><rect x="358" y="518" width="3" height="1" fill="#d8d8d8"/><rect x="364" y="518" width="3" height="1" fill="#d8d8d8"/><rect x="370" y="518" width="3" height="1" fill="#d8d8d8"/><rect x="376" y="518" width="3" height="1" fill="#d8d8d8"/><rect x="382" y="518" width="3" height="1" fill="#d8d8d8"/><rect x="388" y="518" width="3" height="1" fill="#d8d8d8"/><rect x="394" y="518" width="3" height="1" fill="#d8d8d8"/><rect x="400" y="518" width="3" height="1" fill="#d8d8d8"/><rect x="406" y="518" width="3" height="1" fill="#d8d8d8"/><rect x="412" y="518" width="3" height="1" fill="#d8d8d8"/><rect x="418" y="518" width="3" height="1" fill="#d8d8d8"/><rect x="424" y="518" width="3" height="1" fill="#d8d8d8"/><rect x="430" y="518" width="3" height="1" fill="#d8d8d8"/><rect x="436" y="518" width="3" height="1" fill="#d8d8d8"/><rect x="442" y="518" width="3" height="1" fill="#d8d8d8"/><rect x="448" y="518" width="3" height="1" fill="#d8d8d8"/><rect x="454" y="518" width="3" height="1" fill="#d8d8d8"/><rect x="460" y="518" width="3" height="1" fill="#d8d8d8"/><rect x="466" y="518" width="3" height="1" fill="#d8d8d8"/><rect x="472" y="518" width="3" height="1" fill="#d8d8d8"/><rect x="478" y="518" width="3" height="1" fill="#d8d8d8"/><rect x="484" y="518" width="3" height="1" fill="#d8d8d8"/><rect x="490" y="518" width="3" height="1" fill="#d8d8d8"/><rect x="496" y="518" width="3" height="1" fill="#d8d8d8"/><rect x="502" y="518" width="3" height="1" fill="#d8d8d8"/><rect x="508" y="518" width="3" height="1" fill="#d8d8d8"/><rect x="514" y="518" width="3" height="1" fill="#d8d8d8"/><rect x="520" y="518" width="3" height="1" fill="#d8d8d8"/><rect x="526" y="518" width="3" height="1" fill="#d8d8d8"/><rect x="532" y="518" width="3" height="1" fill="#d8d8d8"/><rect x="538" y="518" width="3" height="1" fill="#d8d8d8"/><rect x="544" y="518" width="3" height="1" fill="#d8d8d8"/><rect x="550" y="518" width="3" height="1" fill="#d8d8d8"/><rect x="556" y="518" width="3" height="1" fill="#d8d8d8"/><rect x="562" y="518" width="3" height="1" fill="#d8d8d8"/><rect x="568" y="518" width="3" height="1" fill="#d8d8d8"/><rect x="574" y="518" width="3" height="1" fill="#d8d8d8"/><rect x="580" y="518" width="3" height="1" fill="#d8d8d8"/><rect x="586" y="518" width="3" height="1" fill="#d8d8d8"/><rect x="592" y="518" width="3" height="1" fill="#d8d8d8"/><rect x="598" y="518" width="3" height="1" fill="#d8d8d8"/><rect x="604" y="518" width="3" height="1" fill="#d8d8d8"/><rect x="610" y="518" width="3" height="1" fill="#d8d8d8"/><rect x="616" y="518" width="3" height="1" fill="#d8d8d8"/><rect x="622" y="518" width="3" height="1" fill="#d8d8d8"/><rect x="628" y="518" width="3" height="1" fill="#d8d8d8"/><rect x="634" y="518" width="3" height="1" fill="#d8d8d8"/><rect x="640" y="518" width="3" height="1" fill="#d8d8d8"/><rect x="646" y="518" width="3" height="1" fill="#d8d8d8"/><rect x="652" y="518" width="3" height="1" fill="#d8d8d8"/><rect x="658" y="518" width="3" height="1" fill="#d8d8d8"/><rect x="664" y="518" width="3" height="1" fill="#d8d8d8"/><rect x="670" y="518" width="3" height="1" fill="#d8d8d8"/><rect x="676" y="518" width="3" height="1" fill="#d8d8d8"/><rect x="682" y="518" width="3" height="1" fill="#d8d8d8"/><rect x="688" y="518" width="3" height="1" fill="#d8d8d8"/><rect x="694" y="518" width="3" height="1" fill="#d8d8d8"/><rect x="700" y="518" width="3" height="1" fill="#d8d8d8"/><rect x="706" y="518" width="3" height="1" fill="#d8d8d8"/><rect x="712" y="518" width="3" height="1" fill="#d8d8d8"/><rect x="718" y="518" width="3" height="1" fill="#d8d8d8"/><rect x="724" y="518" width="3" height="1" fill="#d8d8d8"/><rect x="730" y="518" width="3" height="1" fill="#d8d8d8"/><rect x="736" y="518" width="3" height="1" fill="#d8d8d8"/><rect x="742" y="518" width="3" height="1" fill="#d8d8d8"/><rect x="748" y="518" width="3" height="1" fill="#d8d8d8"/><rect x="754" y="518" width="3" height="1" fill="#d8d8d8"/><rect x="760" y="518" width="3" height="1" fill="#d8d8d8"/><rect x="766" y="518" width="3" height="1" fill="#d8d8d8"/><rect x="772" y="518" width="3" height="1" fill="#d8d8d8"/><rect x="778" y="518" width="3" height="1" fill="#d8d8d8"/><rect x="784" y="518" width="3" height="1" fill="#d8d8d8"/><rect x="790" y="518" width="3" height="1" fill="#d8d8d8"/><rect x="796" y="518" width="3" height="1" fill="#d8d8d8"/><rect x="802" y="518" width="3" height="1" fill="#d8d8d8"/><rect x="808" y="518" width="3" height="1" fill="#d8d8d8"/><rect x="814" y="518" width="3" height="1" fill="#d8d8d8"/><rect x="820" y="518" width="3" height="1" fill="#d8d8d8"/><rect x="826" y="518" width="3" height="1" fill="#d8d8d8"/><rect x="832" y="518" width="3" height="1" fill="#d8d8d8"/><rect x="838" y="518" width="3" height="1" fill="#d8d8d8"/><rect x="844" y="518" width="3" height="1" fill="#d8d8d8"/><rect x="850" y="518" width="3" height="1" fill="#d8d8d8"/><rect x="856" y="518" width="3" height="1" fill="#d8d8d8"/><rect x="862" y="518" width="3" height="1" fill="#d8d8d8"/><rect x="868" y="518" width="3" height="1" fill="#d8d8d8"/><rect x="874" y="518" width="3" height="1" fill="#d8d8d8"/><rect x="880" y="518" width="3" height="1" fill="#d8d8d8"/><rect x="886" y="518" width="3" height="1" fill="#d8d8d8"/><rect x="892" y="518" width="3" height="1" fill="#d8d8d8"/><rect x="898" y="518" width="3" height="1" fill="#d8d8d8"/><rect x="904" y="518" width="3" height="1" fill="#d8d8d8"/><rect x="910" y="518" width="3" height="1" fill="#d8d8d8"/><rect x="916" y="518" width="3" height="1" fill="#d8d8d8"/><rect x="922" y="518" width="3" height="1" fill="#d8d8d8"/><rect x="928" y="518" width="3" height="1" fill="#d8d8d8"/><rect x="934" y="518" width="3" height="1" fill="#d8d8d8"/><rect x="940" y="518" width="3" height="1" fill="#d8d8d8"/><rect x="946" y="518" width="3" height="1" fill="#d8d8d8"/><rect x="952" y="518" width="3" height="1" fill="#d8d8d8"/><rect x="958" y="518" width="1" height="1" fill="#d8d8d8"/><rect x="4" y="543" width="3" height="1" fill="#d8d8d8"/><rect x="10" y="543" width="3" height="1" fill="#d8d8d8"/><rect x="16" y="543" width="3" height="1" fill="#d8d8d8"/><rect x="22" y="543" width="3" height="1" fill="#d8d8d8"/><rect x="28" y="543" width="3" height="1" fill="#d8d8d8"/><rect x="34" y="543" width="3" height="1" fill="#d8d8d8"/><rect x="40" y="543" width="3" height="1" fill="#d8d8d8"/><rect x="46" y="543" width="3" height="1" fill="#d8d8d8"/><rect x="52" y="543" width="3" height="1" fill="#d8d8d8"/><rect x="58" y="543" width="3" height="1" fill="#d8d8d8"/><rect x="64" y="543" width="3" height="1" fill="#d8d8d8"/><rect x="70" y="543" width="3" height="1" fill="#d8d8d8"/><rect x="76" y="543" width="3" height="1" fill="#d8d8d8"/><rect x="82" y="543" width="3" height="1" fill="#d8d8d8"/><rect x="88" y="543" width="3" height="1" fill="#d8d8d8"/><rect x="94" y="543" width="3" height="1" fill="#d8d8d8"/><rect x="100" y="543" width="3" height="1" fill="#d8d8d8"/><rect x="106" y="543" width="3" height="1" fill="#d8d8d8"/><rect x="112" y="543" width="3" height="1" fill="#d8d8d8"/><rect x="118" y="543" width="3" height="1" fill="#d8d8d8"/><rect x="124" y="543" width="3" height="1" fill="#d8d8d8"/><rect x="130" y="543" width="3" height="1" fill="#d8d8d8"/><rect x="136" y="543" width="3" height="1" fill="#d8d8d8"/><rect x="142" y="543" width="3" height="1" fill="#d8d8d8"/><rect x="148" y="543" width="3" height="1" fill="#d8d8d8"/><rect x="154" y="543" width="3" height="1" fill="#d8d8d8"/><rect x="160" y="543" width="3" height="1" fill="#d8d8d8"/><rect x="166" y="543" width="3" height="1" fill="#d8d8d8"/><rect x="172" y="543" width="3" height="1" fill="#d8d8d8"/><rect x="178" y="543" width="3" height="1" fill="#d8d8d8"/><rect x="184" y="543" width="3" height="1" fill="#d8d8d8"/><rect x="190" y="543" width="3" height="1" fill="#d8d8d8"/><rect x="196" y="543" width="3" height="1" fill="#d8d8d8"/><rect x="202" y="543" width="3" height="1" fill="#d8d8d8"/><rect x="208" y="543" width="3" height="1" fill="#d8d8d8"/><rect x="214" y="543" width="3" height="1" fill="#d8d8d8"/><rect x="220" y="543" width="3" height="1" fill="#d8d8d8"/><rect x="226" y="543" width="3" height="1" fill="#d8d8d8"/><rect x="232" y="543" width="3" height="1" fill="#d8d8d8"/><rect x="238" y="543" width="3" height="1" fill="#d8d8d8"/><rect x="244" y="543" width="3" height="1" fill="#d8d8d8"/><rect x="250" y="543" width="3" height="1" fill="#d8d8d8"/><rect x="256" y="543" width="3" height="1" fill="#d8d8d8"/><rect x="262" y="543" width="3" height="1" fill="#d8d8d8"/><rect x="268" y="543" width="3" height="1" fill="#d8d8d8"/><rect x="274" y="543" width="3" height="1" fill="#d8d8d8"/><rect x="280" y="543" width="3" height="1" fill="#d8d8d8"/><rect x="286" y="543" width="3" height="1" fill="#d8d8d8"/><rect x="292" y="543" width="3" height="1" fill="#d8d8d8"/><rect x="298" y="543" width="3" height="1" fill="#d8d8d8"/><rect x="304" y="543" width="3" height="1" fill="#d8d8d8"/><rect x="310" y="543" width="3" height="1" fill="#d8d8d8"/><rect x="316" y="543" width="3" height="1" fill="#d8d8d8"/><rect x="322" y="543" width="3" height="1" fill="#d8d8d8"/><rect x="328" y="543" width="3" height="1" fill="#d8d8d8"/><rect x="334" y="543" width="3" height="1" fill="#d8d8d8"/><rect x="340" y="543" width="3" height="1" fill="#d8d8d8"/><rect x="346" y="543" width="3" height="1" fill="#d8d8d8"/><rect x="352" y="543" width="3" height="1" fill="#d8d8d8"/><rect x="358" y="543" width="3" height="1" fill="#d8d8d8"/><rect x="364" y="543" width="3" height="1" fill="#d8d8d8"/><rect x="370" y="543" width="3" height="1" fill="#d8d8d8"/><rect x="376" y="543" width="3" height="1" fill="#d8d8d8"/><rect x="382" y="543" width="3" height="1" fill="#d8d8d8"/><rect x="388" y="543" width="3" height="1" fill="#d8d8d8"/><rect x="394" y="543" width="3" height="1" fill="#d8d8d8"/><rect x="400" y="543" width="3" height="1" fill="#d8d8d8"/><rect x="406" y="543" width="3" height="1" fill="#d8d8d8"/><rect x="412" y="543" width="3" height="1" fill="#d8d8d8"/><rect x="418" y="543" width="3" height="1" fill="#d8d8d8"/><rect x="424" y="543" width="3" height="1" fill="#d8d8d8"/><rect x="430" y="543" width="3" height="1" fill="#d8d8d8"/><rect x="436" y="543" width="3" height="1" fill="#d8d8d8"/><rect x="442" y="543" width="3" height="1" fill="#d8d8d8"/><rect x="448" y="543" width="3" height="1" fill="#d8d8d8"/><rect x="454" y="543" width="3" height="1" fill="#d8d8d8"/><rect x="460" y="543" width="3" height="1" fill="#d8d8d8"/><rect x="466" y="543" width="3" height="1" fill="#d8d8d8"/><rect x="472" y="543" width="3" height="1" fill="#d8d8d8"/><rect x="478" y="543" width="3" height="1" fill="#d8d8d8"/><rect x="484" y="543" width="3" height="1" fill="#d8d8d8"/><rect x="490" y="543" width="3" height="1" fill="#d8d8d8"/><rect x="496" y="543" width="3" height="1" fill="#d8d8d8"/><rect x="502" y="543" width="3" height="1" fill="#d8d8d8"/><rect x="508" y="543" width="3" height="1" fill="#d8d8d8"/><rect x="514" y="543" width="3" height="1" fill="#d8d8d8"/><rect x="520" y="543" width="3" height="1" fill="#d8d8d8"/><rect x="526" y="543" width="3" height="1" fill="#d8d8d8"/><rect x="532" y="543" width="3" height="1" fill="#d8d8d8"/><rect x="538" y="543" width="3" height="1" fill="#d8d8d8"/><rect x="544" y="543" width="3" height="1" fill="#d8d8d8"/><rect x="550" y="543" width="3" height="1" fill="#d8d8d8"/><rect x="556" y="543" width="3" height="1" fill="#d8d8d8"/><rect x="562" y="543" width="3" height="1" fill="#d8d8d8"/><rect x="568" y="543" width="3" height="1" fill="#d8d8d8"/><rect x="574" y="543" width="3" height="1" fill="#d8d8d8"/><rect x="580" y="543" width="3" height="1" fill="#d8d8d8"/><rect x="586" y="543" width="3" height="1" fill="#d8d8d8"/><rect x="592" y="543" width="3" height="1" fill="#d8d8d8"/><rect x="598" y="543" width="3" height="1" fill="#d8d8d8"/><rect x="604" y="543" width="3" height="1" fill="#d8d8d8"/><rect x="610" y="543" width="3" height="1" fill="#d8d8d8"/><rect x="616" y="543" width="3" height="1" fill="#d8d8d8"/><rect x="622" y="543" width="3" height="1" fill="#d8d8d8"/><rect x="628" y="543" width="3" height="1" fill="#d8d8d8"/><rect x="634" y="543" width="3" height="1" fill="#d8d8d8"/><rect x="640" y="543" width="3" height="1" fill="#d8d8d8"/><rect x="646" y="543" width="3" height="1" fill="#d8d8d8"/><rect x="652" y="543" width="3" height="1" fill="#d8d8d8"/><rect x="658" y="543" width="3" height="1" fill="#d8d8d8"/><rect x="664" y="543" width="3" height="1" fill="#d8d8d8"/><rect x="670" y="543" width="3" height="1" fill="#d8d8d8"/><rect x="676" y="543" width="3" height="1" fill="#d8d8d8"/><rect x="682" y="543" width="3" height="1" fill="#d8d8d8"/><rect x="688" y="543" width="3" height="1" fill="#d8d8d8"/><rect x="694" y="543" width="3" height="1" fill="#d8d8d8"/><rect x="700" y="543" width="3" height="1" fill="#d8d8d8"/><rect x="706" y="543" width="3" height="1" fill="#d8d8d8"/><rect x="712" y="543" width="3" height="1" fill="#d8d8d8"/><rect x="718" y="543" width="3" height="1" fill="#d8d8d8"/><rect x="724" y="543" width="3" height="1" fill="#d8d8d8"/><rect x="730" y="543" width="3" height="1" fill="#d8d8d8"/><rect x="736" y="543" width="3" height="1" fill="#d8d8d8"/><rect x="742" y="543" width="3" height="1" fill="#d8d8d8"/><rect x="748" y="543" width="3" height="1" fill="#d8d8d8"/><rect x="754" y="543" width="3" height="1" fill="#d8d8d8"/><rect x="760" y="543" width="3" height="1" fill="#d8d8d8"/><rect x="766" y="543" width="3" height="1" fill="#d8d8d8"/><rect x="772" y="543" width="3" height="1" fill="#d8d8d8"/><rect x="778" y="543" width="3" height="1" fill="#d8d8d8"/><rect x="784" y="543" width="3" height="1" fill="#d8d8d8"/><rect x="790" y="543" width="3" height="1" fill="#d8d8d8"/><rect x="796" y="543" width="3" height="1" fill="#d8d8d8"/><rect x="802" y="543" width="3" height="1" fill="#d8d8d8"/><rect x="808" y="543" width="3" height="1" fill="#d8d8d8"/><rect x="814" y="543" width="3" height="1" fill="#d8d8d8"/><rect x="820" y="543" width="3" height="1" fill="#d8d8d8"/><rect x="826" y="543" width="3" height="1" fill="#d8d8d8"/><rect x="832" y="543" width="3" height="1" fill="#d8d8d8"/><rect x="838" y="543" width="3" height="1" fill="#d8d8d8"/><rect x="844" y="543" width="3" height="1" fill="#d8d8d8"/><rect x="850" y="543" width="3" height="1" fill="#d8d8d8"/><rect x="856" y="543" width="3" height="1" fill="#d8d8d8"/><rect x="862" y="543" width="3" height="1" fill="#d8d8d8"/><rect x="868" y="543" width="3" height="1" fill="#d8d8d8"/><rect x="874" y="543" width="3" height="1" fill="#d8d8d8"/><rect x="880" y="543" width="3" height="1" fill="#d8d8d8"/><rect x="886" y="543" width="3" height="1" fill="#d8d8d8"/><rect x="892" y="543" width="3" height="1" fill="#d8d8d8"/><rect x="898" y="543" width="3" height="1" fill="#d8d8d8"/><rect x="904" y="543" width="3" height="1" fill="#d8d8d8"/><rect x="910" y="543" width="3" height="1" fill="#d8d8d8"/><rect x="916" y="543" width="3" height="1" fill="#d8d8d8"/><rect x="922" y="543" width="3" height="1" fill="#d8d8d8"/><rect x="928" y="543" width="3" height="1" fill="#d8d8d8"/><rect x="934" y="543" width="3" height="1" fill="#d8d8d8"/><rect x="940" y="543" width="3" height="1" fill="#d8d8d8"/><rect x="946" y="543" width="3" height="1" fill="#d8d8d8"/><rect x="952" y="543" width="3" height="1" fill="#d8d8d8"/><rect x="958" y="543" width="1" height="1" fill="#d8d8d8"/><rect x="147" y="440" width="1" height="3" fill="#fff"/><rect x="147" y="446" width="1" height="3" fill="#fff"/><rect x="147" y="452" width="1" height="3" fill="#fff"/><rect x="147" y="458" width="1" height="3" fill="#fff"/><rect x="147" y="464" width="1" height="3" fill="#fff"/><rect x="147" y="470" width="1" height="3" fill="#fff"/><rect x="147" y="476" width="1" height="3" fill="#fff"/><rect x="147" y="482" width="1" height="3" fill="#fff"/><rect x="147" y="488" width="1" height="3" fill="#fff"/><rect x="147" y="494" width="1" height="3" fill="#fff"/><rect x="147" y="500" width="1" height="3" fill="#fff"/><rect x="147" y="506" width="1" height="3" fill="#fff"/><rect x="147" y="512" width="1" height="3" fill="#fff"/><rect x="147" y="518" width="1" height="3" fill="#fff"/><rect x="147" y="524" width="1" height="3" fill="#fff"/><rect x="147" y="530" width="1" height="3" fill="#fff"/><rect x="147" y="536" width="1" height="3" fill="#fff"/><rect x="147" y="542" width="1" height="3" fill="#fff"/><rect x="147" y="548" width="1" height="1" fill="#fff"/><rect x="483" y="440" width="1" height="3" fill="#fff"/><rect x="483" y="446" width="1" height="3" fill="#fff"/><rect x="483" y="452" width="1" height="3" fill="#fff"/><rect x="483" y="458" width="1" height="3" fill="#fff"/><rect x="483" y="464" width="1" height="3" fill="#fff"/><rect x="483" y="470" width="1" height="3" fill="#fff"/><rect x="483" y="476" width="1" height="3" fill="#fff"/><rect x="483" y="482" width="1" height="3" fill="#fff"/><rect x="483" y="488" width="1" height="3" fill="#fff"/><rect x="483" y="494" width="1" height="3" fill="#fff"/><rect x="483" y="500" width="1" height="3" fill="#fff"/><rect x="483" y="506" width="1" height="3" fill="#fff"/><rect x="483" y="512" width="1" height="3" fill="#fff"/><rect x="483" y="518" width="1" height="3" fill="#fff"/><rect x="483" y="524" width="1" height="3" fill="#fff"/><rect x="483" y="530" width="1" height="3" fill="#fff"/><rect x="483" y="536" width="1" height="3" fill="#fff"/><rect x="483" y="542" width="1" height="3" fill="#fff"/><rect x="483" y="548" width="1" height="1" fill="#fff"/><rect x="851" y="440" width="1" height="3" fill="#fff"/><rect x="851" y="446" width="1" height="3" fill="#fff"/><rect x="851" y="452" width="1" height="3" fill="#fff"/><rect x="851" y="458" width="1" height="3" fill="#fff"/><rect x="851" y="464" width="1" height="3" fill="#fff"/><rect x="851" y="470" width="1" height="3" fill="#fff"/><rect x="851" y="476" width="1" height="3" fill="#fff"/><rect x="851" y="482" width="1" height="3" fill="#fff"/><rect x="851" y="488" width="1" height="3" fill="#fff"/><rect x="851" y="494" width="1" height="3" fill="#fff"/><rect x="851" y="500" width="1" height="3" fill="#fff"/><rect x="851" y="506" width="1" height="3" fill="#fff"/><rect x="851" y="512" width="1" height="3" fill="#fff"/><rect x="851" y="518" width="1" height="3" fill="#fff"/><rect x="851" y="524" width="1" height="3" fill="#fff"/><rect x="851" y="530" width="1" height="3" fill="#fff"/><rect x="851" y="536" width="1" height="3" fill="#fff"/><rect x="851" y="542" width="1" height="3" fill="#fff"/><rect x="851" y="548" width="1" height="1" fill="#fff"/><rect x="2" y="455" width="3" height="36" fill="#0000ff"/><rect x="18" y="467" width="3" height="24" fill="#0000ff"/><rect x="34" y="464" width="3" height="27" fill="#0000ff"/><rect x="50" y="480" width="3" height="11" fill="#0000ff"/><rect x="82" y="485" width="3" height="6" fill="#0000ff"/><rect x="114" y="493" width="3" height="3" fill="#808080"/><rect x="130" y="475" width="3" height="16" fill="#0000ff"/><rect x="146" y="445" width="3" height="46" fill="#0000ff"/><rect x="162" y="450" width="3" height="41" fill="#0000ff"/><rect x="178" y="451" width="3" height="40" fill="#0000ff"/><rect x="194" y="458" width="3" height="33" fill="#0000ff"/><rect x="210" y="459" width="3" height="32" fill="#0000ff"/><rect x="226" y="463" width="3" height="28" fill="#0000ff"/><rect x="242" y="472" width="3" height="19" fill="#0000ff"/><rect x="258" y="473" width="3" height="18" fill="#0000ff"/><rect x="274" y="473" width="3" height="18" fill="#0000ff"/><rect x="290" y="468" width="3" height="23" fill="#0000ff"/><rect x="306" y="467" width="3" height="24" fill="#0000ff"/><rect x="322" y="467" width="3" height="24" fill="#0000ff"/><rect x="338" y="468" width="3" height="23" fill="#0000ff"/><rect x="354" y="475" width="3" height="16" fill="#0000ff"/><rect x="370" y="472" width="3" height="19" fill="#0000ff"/><rect x="386" y="450" width="3" height="41" fill="#0000ff"/><rect x="402" y="450" width="3" height="41" fill="#0000ff"/><rect x="418" y="463" width="3" height="28" fill="#0000ff"/><rect x="434" y="459" width="3" height="32" fill="#0000ff"/><rect x="450" y="455" width="3" height="36" fill="#0000ff"/><rect x="466" y="466" width="3" height="25" fill="#0000ff"/><rect x="482" y="472" width="3" height="19" fill="#0000ff"/><rect x="514" y="475" width="3" height="16" fill="#0000ff"/><rect x="530" y="493" width="3" height="6" fill="#808080"/><rect x="546" y="493" width="3" height="37" fill="#808080"/><rect x="562" y="493" width="3" height="41" fill="#808080"/><rect x="578" y="493" width="3" height="49" fill="#808080"/><rect x="594" y="493" width="3" height="37" fill="#ffd700"/><rect x="610" y="493" width="3" height="45" fill="#ff0000"/><rect x="626" y="493" width="3" height="33" fill="#ff0000"/><rect x="642" y="493" width="3" height="22" fill="#ff0000"/><rect x="658" y="493" width="3" height="8" fill="#ff0000"/><rect x="674" y="493" width="3" height="8" fill="#ff0000"/><rect x="690" y="493" width="3" height="14" fill="#ff0000"/><rect x="706" y="493" width="3" height="6" fill="#ff0000"/><rect x="722" y="493" width="3" height="6" fill="#ff0000"/><rect x="738" y="493" width="3" height="28" fill="#ff0000"/><rect x="754" y="493" width="3" height="24" fill="#ff0000"/><rect x="770" y="493" width="3" height="18" fill="#ff0000"/><rect x="786" y="493" width="3" height="30" fill="#ff0000"/><rect x="802" y="493" width="3" height="46" fill="#ff0000"/><rect x="818" y="493" width="3" height="38" fill="#ff0000"/><rect x="834" y="493" width="3" height="45" fill="#ff0000"/><rect x="850" y="493" width="3" height="45" fill="#ff0000"/><polyline points="3,464 19,482.3 35,465 51,512.8 67,534 83,502.3 99,510.4 115,503 131,460.9 147,450.3 163,463.4 179,470.6 195,473.5 211,465.5 227,463.4 243,485 259,486.6 275,476.2 291,448.2 307,461.8 323,465.8 339,477 355,498.3 371,487.4 387,443.4 403,459.4 419,479.4 435,473 451,458.6 467,473 483,488.2 499,525 515,487.4 531,517 547,529.5 563,523.4 579,522.1 595,512.5 611,528.2 627,514.5 643,501 659,472.5 675,475.4 691,489 707,481.5 723,489.8 739,534.9 755,517 771,506.6 787,517.8 803,533 819,516.2 835,520.2 851,526.3" fill="none" stroke="#ff6347" stroke-width="1"/><polyline points="3,454.5 19,467.7 35,464 51,480.5 67,493 83,483.6 99,494.5 115,497 131,479 147,445.4 163,447 179,449.8 195,457.8 211,458.6 227,462.3 243,471.9 259,473 275,473 291,467.4 307,467.4 323,465 339,467 355,475 371,471.4 387,449 403,449 419,461.8 435,458.6 451,453.8 467,465 483,470.9 499,495.4 515,474.1 531,496.2 547,531.4 563,535.4 579,542.6 595,531 611,538.6 627,528.2 643,517.8 659,501.8 675,501.8 691,507.4 707,500.2 723,500.2 739,521.8 755,517.8 771,511.4 787,524.5 803,540.7 819,531.7 835,538.6 851,537.8" fill="none" stroke="#7fffd4" stroke-width="2"/><rect x="3" y="491" width="33" height="2" fill="#00ff00"/><rect x="51" y="491" width="65" height="2" fill="#ff0000"/><rect x="131" y="491" width="97" height="2" fill="#00ff00"/><rect x="243" y="491" width="33" height="2" fill="#ff0000"/><rect x="291" y="491" width="33" height="2" fill="#00ff00"/><rect x="339" y="491" width="33" height="2" fill="#ff0000"/><rect x="403" y="491" width="241" height="2" fill="#ff0000"/><rect x="675" y="491" width="17" height="2" fill="#ff0000"/><rect x="707" y="491" width="17" height="2" fill="#00ff00"/><rect x="739" y="491" width="17" height="2" fill="#ff0000"/><rect x="787" y="491" width="65" height="2" fill="#ff0000"/></g><g clip-path="url(#ct)"><rect x="147" y="554" width="1" height="3" fill="#fff"/><rect x="147" y="560" width="1" height="3" fill="#fff"/><rect x="147" y="566" width="1" height="3" fill="#fff"/><rect x="147" y="572" width="1" height="3" fill="#fff"/><rect x="147" y="578" width="1" height="3" fill="#fff"/><rect x="147" y="584" width="1" height="3" fill="#fff"/><rect x="147" y="590" width="1" height="3" fill="#fff"/><rect x="147" y="596" width="1" height="3" fill="#fff"/><rect x="147" y="602" width="1" height="3" fill="#fff"/><rect x="147" y="608" width="1" height="3" fill="#fff"/><rect x="147" y="614" width="1" height="3" fill="#fff"/><rect x="147" y="620" width="1" height="3" fill="#fff"/><rect x="147" y="626" width="1" height="3" fill="#fff"/><rect x="147" y="632" width="1" height="3" fill="#fff"/><rect x="147" y="638" width="1" height="3" fill="#fff"/><rect x="147" y="644" width="1" height="3" fill="#fff"/><rect x="147" y="650" width="1" height="3" fill="#fff"/><rect x="147" y="656" width="1" height="3" fill="#fff"/><rect x="147" y="662" width="1" height="2" fill="#fff"/><rect x="483" y="554" width="1" height="3" fill="#fff"/><rect x="483" y="560" width="1" height="3" fill="#fff"/><rect x="483" y="566" width="1" height="3" fill="#fff"/><rect x="483" y="572" width="1" height="3" fill="#fff"/><rect x="483" y="578" width="1" height="3" fill="#fff"/><rect x="483" y="584" width="1" height="3" fill="#fff"/><rect x="483" y="590" width="1" height="3" fill="#fff"/><rect x="483" y="596" width="1" height="3" fill="#fff"/><rect x="483" y="602" width="1" height="3" fill="#fff"/><rect x="483" y="608" width="1" height="3" fill="#fff"/><rect x="483" y="614" width="1" height="3" fill="#fff"/><rect x="483" y="620" width="1" height="3" fill="#fff"/><rect x="483" y="626" width="1" height="3" fill="#fff"/><rect x="483" y="632" width="1" height="3" fill="#fff"/><rect x="483" y="638" width="1" height="3" fill="#fff"/><rect x="483" y="644" width="1" height="3" fill="#fff"/><rect x="483" y="650" width="1" height="3" fill="#fff"/><rect x="483" y="656" width="1" height="3" fill="#fff"/><rect x="483" y="662" width="1" height="2" fill="#fff"/><rect x="851" y="554" width="1" height="3" fill="#fff"/><rect x="851" y="560" width="1" height="3" fill="#fff"/><rect x="851" y="566" width="1" height="3" fill="#fff"/><rect x="851" y="572" width="1" height="3" fill="#fff"/><rect x="851" y="578" width="1" height="3" fill="#fff"/><rect x="851" y="584" width="1" height="3" fill="#fff"/><rect x="851" y="590" width="1" height="3" fill="#fff"/><rect x="851" y="596" width="1" height="3" fill="#fff"/><rect x="851" y="602" width="1" height="3" fill="#fff"/><rect x="851" y="608" width="1" height="3" fill="#fff"/><rect x="851" y="614" width="1" height="3" fill="#fff"/><rect x="851" y="620" width="1" height="3" fill="#fff"/><rect x="851" y="626" width="1" height="3" fill="#fff"/><rect x="851" y="632" width="1" height="3" fill="#fff"/><rect x="851" y="638" width="1" height="3" fill="#fff"/><rect x="851" y="644" width="1" height="3" fill="#fff"/><rect x="851" y="650" width="1" height="3" fill="#fff"/><rect x="851" y="656" width="1" height="3" fill="#fff"/><rect x="851" y="662" width="1" height="2" fill="#fff"/><rect x="3" y="595" width="8" height="1" fill="#0000ff"/><rect x="11" y="594" width="16" height="1" fill="#0000ff"/><rect x="27" y="593" width="49" height="1" fill="#0000ff"/><rect x="76" y="594" width="16" height="1" fill="#0000ff"/><rect x="92" y="595" width="16" height="1" fill="#0000ff"/><rect x="108" y="596" width="16" height="1" fill="#0000ff"/><rect x="124" y="597" width="63" height="1" fill="#0000ff"/><rect x="187" y="596" width="16" height="1" fill="#0000ff"/><rect x="203" y="595" width="16" height="1" fill="#0000ff"/><rect x="219" y="594" width="16" height="1" fill="#0000ff"/><rect x="235" y="593" width="16" height="1" fill="#0000ff"/><rect x="251" y="592" width="32" height="1" fill="#0000ff"/><rect x="283" y="591" width="32" height="1" fill="#0000ff"/><rect x="315" y="590" width="48" height="1" fill="#0000ff"/><rect x="363" y="589" width="48" height="1" fill="#0000ff"/><rect x="411" y="588" width="32" height="1" fill="#0000ff"/><rect x="443" y="587" width="64" height="1" fill="#0000ff"/><rect x="507" y="588" width="29" height="1" fill="#0000ff"/><rect x="536" y="589" width="8" height="1" fill="#0000ff"/><rect x="544" y="590" width="8" height="1" fill="#0000ff"/><rect x="552" y="591" width="8" height="1" fill="#0000ff"/><rect x="560" y="592" width="6" height="1" fill="#0000ff"/><rect x="566" y="593" width="6" height="1" fill="#0000ff"/><rect x="572" y="594" width="5" height="1" fill="#0000ff"/><rect x="577" y="595" width="5" height="1" fill="#0000ff"/><rect x="582" y="596" width="6" height="1" fill="#0000ff"/><rect x="588" y="597" width="5" height="1" fill="#0000ff"/><rect x="593" y="598" width="5" height="1" fill="#0000ff"/><rect x="598" y="599" width="6" height="1" fill="#0000ff"/><rect x="604" y="600" width="5" height="1" fill="#0000ff"/><rect x="609" y="601" width="5" height="1" fill="#0000ff"/><rect x="614" y="602" width="6" height="1" fill="#0000ff"/><rect x="620" y="603" width="4" height="1" fill="#0000ff"/><rect x="624" y="604" width="6" height="1" fill="#0000ff"/><rect x="630" y="605" width="6" height="1" fill="#0000ff"/><rect x="636" y="606" width="5" height="1" fill="#0000ff"/><rect x="641" y="607" width="7" height="1" fill="#0000ff"/><rect x="648" y="608" width="8" height="1" fill="#0000ff"/><rect x="656" y="609" width="8" height="1" fill="#0000ff"/><rect x="664" y="610" width="8" height="1" fill="#0000ff"/><rect x="672" y="611" width="12" height="1" fill="#0000ff"/><rect x="684" y="612" width="32" height="1" fill="#0000ff"/><rect x="716" y="613" width="32" height="1" fill="#0000ff"/><rect x="748" y="614" width="32" height="1" fill="#0000ff"/><rect x="780" y="615" width="16" height="1" fill="#0000ff"/><rect x="796" y="616" width="16" height="1" fill="#0000ff"/><rect x="812" y="617" width="16" height="1" fill="#0000ff"/><rect x="828" y="618" width="12" height="1" fill="#0000ff"/><rect x="840" y="619" width="8" height="1" fill="#0000ff"/><rect x="848" y="620" width="4" height="1" fill="#0000ff"/><rect x="3" y="593" width="9" height="1" fill="#ff0000"/><rect x="12" y="594" width="32" height="1" fill="#ff0000"/><rect x="44" y="595" width="10" height="1" fill="#ff0000"/><rect x="54" y="594" width="102" height="1" fill="#ff0000"/><rect x="156" y="595" width="31" height="1" fill="#ff0000"/><rect x="187" y="596" width="80" height="1" fill="#ff0000"/><rect x="267" y="595" width="32" height="1" fill="#ff0000"/><rect x="299" y="594" width="32" height="1" fill="#ff0000"/><rect x="331" y="593" width="32" height="1" fill="#ff0000"/><rect x="363" y="592" width="32" height="1" fill="#ff0000"/><rect x="395" y="591" width="32" height="1" fill="#ff0000"/><rect x="427" y="590" width="48" height="1" fill="#ff0000"/><rect x="475" y="589" width="32" height="1" fill="#ff0000"/><rect x="507" y="588" width="97" height="1" fill="#ff0000"/><rect x="604" y="589" width="12" height="1" fill="#ff0000"/><rect x="616" y="590" width="8" height="1" fill="#ff0000"/><rect x="624" y="591" width="12" height="1" fill="#ff0000"/><rect x="636" y="592" width="12" height="1" fill="#ff0000"/><rect x="648" y="593" width="8" height="1" fill="#ff0000"/><rect x="656" y="594" width="8" height="1" fill="#ff0000"/><rect x="664" y="595" width="8" height="1" fill="#ff0000"/><rect x="672" y="596" width="6" height="1" fill="#ff0000"/><rect x="678" y="597" width="6" height="1" fill="#ff0000"/><rect x="684" y="598" width="5" height="1" fill="#ff0000"/><rect x="689" y="599" width="7" height="1" fill="#ff0000"/><rect x="696" y="600" width="8" height="1" fill="#ff0000"/><rect x="704" y="601" width="8" height="1" fill="#ff0000"/><rect x="712" y="602" width="8" height="1" fill="#ff0000"/><rect x="720" y="603" width="8" height="1" fill="#ff0000"/><rect x="728" y="604" width="8" height="1" fill="#ff0000"/><rect x="736" y="605" width="8" height="1" fill="#ff0000"/><rect x="744" y="606" width="8" height="1" fill="#ff0000"/><rect x="752" y="607" width="12" height="1" fill="#ff0000"/><rect x="764" y="608" width="16" height="1" fill="#ff0000"/><rect x="780" y="609" width="16" height="1" fill="#ff0000"/><rect x="796" y="610" width="16" height="1" fill="#ff0000"/><rect x="812" y="611" width="16" height="1" fill="#ff0000"/><rect x="828" y="612" width="16" height="1" fill="#ff0000"/><rect x="844" y="613" width="8" height="1" fill="#ff0000"/><rect x="3" y="591" width="24" height="1" fill="#808080"/><rect x="27" y="590" width="10" height="1" fill="#808080"/><rect x="37" y="591" width="5" height="1" fill="#808080"/><rect x="42" y="592" width="4" height="1" fill="#808080"/><rect x="46" y="593" width="4" height="1" fill="#808080"/><rect x="50" y="594" width="4" height="1" fill="#808080"/><rect x="54" y="595" width="4" height="1" fill="#808080"/><rect x="58" y="596" width="4" height="1" fill="#808080"/><rect x="62" y="597" width="4" height="1" fill="#808080"/><rect x="66" y="598" width="10" height="1" fill="#808080"/><rect x="76" y="599" width="16" height="1" fill="#808080"/><rect x="92" y="600" width="16" height="1" fill="#808080"/><rect x="108" y="601" width="15" height="1" fill="#808080"/><rect x="123" y="600" width="11" height="1" fill="#808080"/><rect x="134" y="599" width="5" height="1" fill="#808080"/><rect x="139" y="598" width="6" height="1" fill="#808080"/><rect x="145" y="597" width="6" height="1" fill="#808080"/><rect x="151" y="596" width="8" height="1" fill="#808080"/><rect x="159" y="595" width="8" height="1" fill="#808080"/><rect x="167" y="594" width="8" height="1" fill="#808080"/><rect x="175" y="593" width="12" height="1" fill="#808080"/><rect x="187" y="592" width="12" height="1" fill="#808080"/><rect x="199" y="591" width="8" height="1" fill="#808080"/><rect x="207" y="590" width="12" height="1" fill="#808080"/><rect x="219" y="589" width="17" height="1" fill="#808080"/><rect x="236" y="590" width="47" height="1" fill="#808080"/><rect x="283" y="589" width="32" height="1" fill="#808080"/><rect x="315" y="588" width="17" height="1" fill="#808080"/><rect x="332" y="589" width="43" height="1" fill="#808080"/><rect x="375" y="588" width="8" height="1" fill="#808080"/><rect x="383" y="587" width="44" height="1" fill="#808080"/><rect x="427" y="586" width="16" height="1" fill="#808080"/><rect x="443" y="585" width="16" height="1" fill="#808080"/><rect x="459" y="584" width="11" height="1" fill="#808080"/><rect x="470" y="585" width="4" height="1" fill="#808080"/><rect x="474" y="586" width="4" height="1" fill="#808080"/><rect x="478" y="587" width="4" height="1" fill="#808080"/><rect x="482" y="588" width="4" height="1" fill="#808080"/><rect x="486" y="589" width="6" height="1" fill="#808080"/><rect x="492" y="590" width="5" height="1" fill="#808080"/><rect x="497" y="591" width="27" height="1" fill="#808080"/><rect x="524" y="592" width="9" height="1" fill="#808080"/><rect x="533" y="593" width="2" height="1" fill="#808080"/><rect x="535" y="594" width="2" height="1" fill="#808080"/><rect x="537" y="595" width="3" height="1" fill="#808080"/><rect x="540" y="596" width="2" height="1" fill="#808080"/><rect x="542" y="597" width="2" height="1" fill="#808080"/><rect x="544" y="598" width="2" height="1" fill="#808080"/><rect x="546" y="599" width="3" height="1" fill="#808080"/><rect x="549" y="600" width="3" height="1" fill="#808080"/><rect x="552" y="601" width="4" height="1" fill="#808080"/><rect x="556" y="602" width="3" height="1" fill="#808080"/><rect x="559" y="603" width="3" height="1" fill="#808080"/><rect x="562" y="604" width="4" height="1" fill="#808080"/><rect x="566" y="605" width="4" height="1" fill="#808080"/><rect x="570" y="606" width="4" height="1" fill="#808080"/><rect x="574" y="607" width="4" height="1" fill="#808080"/><rect x="578" y="608" width="10" height="1" fill="#808080"/><rect x="588" y="609" width="9" height="1" fill="#808080"/><rect x="597" y="610" width="3" height="1" fill="#808080"/><rect x="600" y="611" width="2" height="1" fill="#808080"/><rect x="602" y="612" width="3" height="1" fill="#808080"/><rect x="605" y="613" width="3" height="1" fill="#808080"/><rect x="608" y="614" width="2" height="1" fill="#808080"/><rect x="610" y="615" width="6" height="1" fill="#808080"/><rect x="616" y="616" width="8" height="1" fill="#808080"/><rect x="624" y="617" width="22" height="1" fill="#808080"/><rect x="646" y="616" width="5" height="1" fill="#808080"/><rect x="651" y="615" width="6" height="1" fill="#808080"/><rect x="657" y="614" width="27" height="1" fill="#808080"/><rect x="684" y="615" width="11" height="1" fill="#808080"/><rect x="695" y="614" width="8" height="1" fill="#808080"/><rect x="703" y="613" width="25" height="1" fill="#808080"/><rect x="728" y="614" width="8" height="1" fill="#808080"/><rect x="736" y="615" width="12" height="1" fill="#808080"/><rect x="748" y="616" width="28" height="1" fill="#808080"/><rect x="776" y="617" width="8" height="1" fill="#808080"/><rect x="784" y="618" width="6" height="1" fill="#808080"/><rect x="790" y="619" width="6" height="1" fill="#808080"/><rect x="796" y="620" width="5" height="1" fill="#808080"/><rect x="801" y="621" width="21" height="1" fill="#808080"/><rect x="822" y="622" width="6" height="1" fill="#808080"/><rect x="828" y="623" width="5" height="1" fill="#808080"/><rect x="833" y="624" width="7" height="1" fill="#808080"/><rect x="840" y="625" width="8" height="1" fill="#808080"/><rect x="848" y="626" width="4" height="1" fill="#808080"/></g><g clip-path="url(#cs)"><rect x="4" y="690" width="3" height="1" fill="#d8d8d8"/><rect x="10" y="690" width="3" height="1" fill="#d8d8d8"/><rect x="16" y="690" width="3" height="1" fill="#d8d8d8"/><rect x="22" y="690" width="3" height="1" fill="#d8d8d8"/><rect x="28" y="690" width="3" height="1" fill="#d8d8d8"/><rect x="34" y="690" width="3" height="1" fill="#d8d8d8"/><rect x="40" y="690" width="3" height="1" fill="#d8d8d8"/><rect x="46" y="690" width="3" height="1" fill="#d8d8d8"/><rect x="52" y="690" width="3" height="1" fill="#d8d8d8"/><rect x="58" y="690" width="3" height="1" fill="#d8d8d8"/><rect x="64" y="690" width="3" height="1" fill="#d8d8d8"/><rect x="70" y="690" width="3" height="1" fill="#d8d8d8"/><rect x="76" y="690" width="3" height="1" fill="#d8d8d8"/><rect x="82" y="690" width="3" height="1" fill="#d8d8d8"/><rect x="88" y="690" width="3" height="1" fill="#d8d8d8"/><rect x="94" y="690" width="3" height="1" fill="#d8d8d8"/><rect x="100" y="690" width="3" height="1" fill="#d8d8d8"/><rect x="106" y="690" width="3" height="1" fill="#d8d8d8"/><rect x="112" y="690" width="3" height="1" fill="#d8d8d8"/><rect x="118" y="690" width="3" height="1" fill="#d8d8d8"/><rect x="124" y="690" width="3" height="1" fill="#d8d8d8"/><rect x="130" y="690" width="3" height="1" fill="#d8d8d8"/><rect x="136" y="690" width="3" height="1" fill="#d8d8d8"/><rect x="142" y="690" width="3" height="1" fill="#d8d8d8"/><rect x="148" y="690" width="3" height="1" fill="#d8d8d8"/><rect x="154" y="690" width="3" height="1" fill="#d8d8d8"/><rect x="160" y="690" width="3" height="1" fill="#d8d8d8"/><rect x="166" y="690" width="3" height="1" fill="#d8d8d8"/><rect x="172" y="690" width="3" height="1" fill="#d8d8d8"/><rect x="178" y="690" width="3" height="1" fill="#d8d8d8"/><rect x="184" y="690" width="3" height="1" fill="#d8d8d8"/><rect x="190" y="690" width="3" height="1" fill="#d8d8d8"/><rect x="196" y="690" width="3" height="1" fill="#d8d8d8"/><rect x="202" y="690" width="3" height="1" fill="#d8d8d8"/><rect x="208" y="690" width="3" height="1" fill="#d8d8d8"/><rect x="214" y="690" width="3" height="1" fill="#d8d8d8"/><rect x="220" y="690" width="3" height="1" fill="#d8d8d8"/><rect x="226" y="690" width="3" height="1" fill="#d8d8d8"/><rect x="232" y="690" width="3" height="1" fill="#d8d8d8"/><rect x="238" y="690" width="3" height="1" fill="#d8d8d8"/><rect x="244" y="690" width="3" height="1" fill="#d8d8d8"/><rect x="250" y="690" width="3" height="1" fill="#d8d8d8"/><rect x="256" y="690" width="3" height="1" fill="#d8d8d8"/><rect x="262" y="690" width="3" height="1" fill="#d8d8d8"/><rect x="268" y="690" width="3" height="1" fill="#d8d8d8"/><rect x="274" y="690" width="3" height="1" fill="#d8d8d8"/><rect x="280" y="690" width="3" height="1" fill="#d8d8d8"/><rect x="286" y="690" width="3" height="1" fill="#d8d8d8"/><rect x="292" y="690" width="3" height="1" fill="#d8d8d8"/><rect x="298" y="690" width="3" height="1" fill="#d8d8d8"/><rect x="304" y="690" width="3" height="1" fill="#d8d8d8"/><rect x="310" y="690" width="3" height="1" fill="#d8d8d8"/><rect x="316" y="690" width="3" height="1" fill="#d8d8d8"/><rect x="322" y="690" width="3" height="1" fill="#d8d8d8"/><rect x="328" y="690" width="3" height="1" fill="#d8d8d8"/><rect x="334" y="690" width="3" height="1" fill="#d8d8d8"/><rect x="340" y="690" width="3" height="1" fill="#d8d8d8"/><rect x="346" y="690" width="3" height="1" fill="#d8d8d8"/><rect x="352" y="690" width="3" height="1" fill="#d8d8d8"/><rect x="358" y="690" width="3" height="1" fill="#d8d8d8"/><rect x="364" y="690" width="3" height="1" fill="#d8d8d8"/><rect x="370" y="690" width="3" height="1" fill="#d8d8d8"/><rect x="376" y="690" width="3" height="1" fill="#d8d8d8"/><rect x="382" y="690" width="3" height="1" fill="#d8d8d8"/><rect x="388" y="690" width="3" height="1" fill="#d8d8d8"/><rect x="394" y="690" width="3" height="1" fill="#d8d8d8"/><rect x="400" y="690" width="3" height="1" fill="#d8d8d8"/><rect x="406" y="690" width="3" height="1" fill="#d8d8d8"/><rect x="412" y="690" width="3" height="1" fill="#d8d8d8"/><rect x="418" y="690" width="3" height="1" fill="#d8d8d8"/><rect x="424" y="690" width="3" height="1" fill="#d8d8d8"/><rect x="430" y="690" width="3" height="1" fill="#d8d8d8"/><rect x="436" y="690" width="3" height="1" fill="#d8d8d8"/><rect x="442" y="690" width="3" height="1" fill="#d8d8d8"/><rect x="448" y="690" width="3" height="1" fill="#d8d8d8"/><rect x="454" y="690" width="3" height="1" fill="#d8d8d8"/><rect x="460" y="690" width="3" height="1" fill="#d8d8d8"/><rect x="466" y="690" width="3" height="1" fill="#d8d8d8"/><rect x="472" y="690" width="3" height="1" fill="#d8d8d8"/><rect x="478" y="690" width="3" height="1" fill="#d8d8d8"/><rect x="484" y="690" width="3" height="1" fill="#d8d8d8"/><rect x="490" y="690" width="3" height="1" fill="#d8d8d8"/><rect x="496" y="690" width="3" height="1" fill="#d8d8d8"/><rect x="502" y="690" width="3" height="1" fill="#d8d8d8"/><rect x="508" y="690" width="3" height="1" fill="#d8d8d8"/><rect x="514" y="690" width="3" height="1" fill="#d8d8d8"/><rect x="520" y="690" width="3" height="1" fill="#d8d8d8"/><rect x="526" y="690" width="3" height="1" fill="#d8d8d8"/><rect x="532" y="690" width="3" height="1" fill="#d8d8d8"/><rect x="538" y="690" width="3" height="1" fill="#d8d8d8"/><rect x="544" y="690" width="3" height="1" fill="#d8d8d8"/><rect x="550" y="690" width="3" height="1" fill="#d8d8d8"/><rect x="556" y="690" width="3" height="1" fill="#d8d8d8"/><rect x="562" y="690" width="3" height="1" fill="#d8d8d8"/><rect x="568" y="690" width="3" height="1" fill="#d8d8d8"/><rect x="574" y="690" width="3" height="1" fill="#d8d8d8"/><rect x="580" y="690" width="3" height="1" fill="#d8d8d8"/><rect x="586" y="690" width="3" height="1" fill="#d8d8d8"/><rect x="592" y="690" width="3" height="1" fill="#d8d8d8"/><rect x="598" y="690" width="3" height="1" fill="#d8d8d8"/><rect x="604" y="690" width="3" height="1" fill="#d8d8d8"/><rect x="610" y="690" width="3" height="1" fill="#d8d8d8"/><rect x="616" y="690" width="3" height="1" fill="#d8d8d8"/><rect x="622" y="690" width="3" height="1" fill="#d8d8d8"/><rect x="628" y="690" width="3" height="1" fill="#d8d8d8"/><rect x="634" y="690" width="3" height="1" fill="#d8d8d8"/><rect x="640" y="690" width="3" height="1" fill="#d8d8d8"/><rect x="646" y="690" width="3" height="1" fill="#d8d8d8"/><rect x="652" y="690" width="3" height="1" fill="#d8d8d8"/><rect x="658" y="690" width="3" height="1" fill="#d8d8d8"/><rect x="664" y="690" width="3" height="1" fill="#d8d8d8"/><rect x="670" y="690" width="3" height="1" fill="#d8d8d8"/><rect x="676" y="690" width="3" height="1" fill="#d8d8d8"/><rect x="682" y="690" width="3" height="1" fill="#d8d8d8"/><rect x="688" y="690" width="3" height="1" fill="#d8d8d8"/><rect x="694" y="690" width="3" height="1" fill="#d8d8d8"/><rect x="700" y="690" width="3" height="1" fill="#d8d8d8"/><rect x="706" y="690" width="3" height="1" fill="#d8d8d8"/><rect x="712" y="690" width="3" height="1" fill="#d8d8d8"/><rect x="718" y="690" width="3" height="1" fill="#d8d8d8"/><rect x="724" y="690" width="3" height="1" fill="#d8d8d8"/><rect x="730" y="690" width="3" height="1" fill="#d8d8d8"/><rect x="736" y="690" width="3" height="1" fill="#d8d8d8"/><rect x="742" y="690" width="3" height="1" fill="#d8d8d8"/><rect x="748" y="690" width="3" height="1" fill="#d8d8d8"/><rect x="754" y="690" width="3" height="1" fill="#d8d8d8"/><rect x="760" y="690" width="3" height="1" fill="#d8d8d8"/><rect x="766" y="690" width="3" height="1" fill="#d8d8d8"/><rect x="772" y="690" width="3" height="1" fill="#d8d8d8"/><rect x="778" y="690" width="3" height="1" fill="#d8d8d8"/><rect x="784" y="690" width="3" height="1" fill="#d8d8d8"/><rect x="790" y="690" width="3" height="1" fill="#d8d8d8"/><rect x="796" y="690" width="3" height="1" fill="#d8d8d8"/><rect x="802" y="690" width="3" height="1" fill="#d8d8d8"/><rect x="808" y="690" width="3" height="1" fill="#d8d8d8"/><rect x="814" y="690" width="3" height="1" fill="#d8d8d8"/><rect x="820" y="690" width="3" height="1" fill="#d8d8d8"/><rect x="826" y="690" width="3" height="1" fill="#d8d8d8"/><rect x="832" y="690" width="3" height="1" fill="#d8d8d8"/><rect x="838" y="690" width="3" height="1" fill="#d8d8d8"/><rect x="844" y="690" width="3" height="1" fill="#d8d8d8"/><rect x="850" y="690" width="3" height="1" fill="#d8d8d8"/><rect x="856" y="690" width="3" height="1" fill="#d8d8d8"/><rect x="862" y="690" width="3" height="1" fill="#d8d8d8"/><rect x="868" y="690" width="3" height="1" fill="#d8d8d8"/><rect x="874" y="690" width="3" height="1" fill="#d8d8d8"/><rect x="880" y="690" width="3" height="1" fill="#d8d8d8"/><rect x="886" y="690" width="3" height="1" fill="#d8d8d8"/><rect x="892" y="690" width="3" height="1" fill="#d8d8d8"/><rect x="898" y="690" width="3" height="1" fill="#d8d8d8"/><rect x="904" y="690" width="3" height="1" fill="#d8d8d8"/><rect x="910" y="690" width="3" height="1" fill="#d8d8d8"/><rect x="916" y="690" width="3" height="1" fill="#d8d8d8"/><rect x="922" y="690" width="3" height="1" fill="#d8d8d8"/><rect x="928" y="690" width="3" height="1" fill="#d8d8d8"/><rect x="934" y="690" width="3" height="1" fill="#d8d8d8"/><rect x="940" y="690" width="3" height="1" fill="#d8d8d8"/><rect x="946" y="690" width="3" height="1" fill="#d8d8d8"/><rect x="952" y="690" width="3" height="1" fill="#d8d8d8"/><rect x="958" y="690" width="1" height="1" fill="#d8d8d8"/><rect x="4" y="756" width="3" height="1" fill="#d8d8d8"/><rect x="10" y="756" width="3" height="1" fill="#d8d8d8"/><rect x="16" y="756" width="3" height="1" fill="#d8d8d8"/><rect x="22" y="756" width="3" height="1" fill="#d8d8d8"/><rect x="28" y="756" width="3" height="1" fill="#d8d8d8"/><rect x="34" y="756" width="3" height="1" fill="#d8d8d8"/><rect x="40" y="756" width="3" height="1" fill="#d8d8d8"/><rect x="46" y="756" width="3" height="1" fill="#d8d8d8"/><rect x="52" y="756" width="3" height="1" fill="#d8d8d8"/><rect x="58" y="756" width="3" height="1" fill="#d8d8d8"/><rect x="64" y="756" width="3" height="1" fill="#d8d8d8"/><rect x="70" y="756" width="3" height="1" fill="#d8d8d8"/><rect x="76" y="756" width="3" height="1" fill="#d8d8d8"/><rect x="82" y="756" width="3" height="1" fill="#d8d8d8"/><rect x="88" y="756" width="3" height="1" fill="#d8d8d8"/><rect x="94" y="756" width="3" height="1" fill="#d8d8d8"/><rect x="100" y="756" width="3" height="1" fill="#d8d8d8"/><rect x="106" y="756" width="3" height="1" fill="#d8d8d8"/><rect x="112" y="756" width="3" height="1" fill="#d8d8d8"/><rect x="118" y="756" width="3" height="1" fill="#d8d8d8"/><rect x="124" y="756" width="3" height="1" fill="#d8d8d8"/><rect x="130" y="756" width="3" height="1" fill="#d8d8d8"/><rect x="136" y="756" width="3" height="1" fill="#d8d8d8"/><rect x="142" y="756" width="3" height="1" fill="#d8d8d8"/><rect x="148" y="756" width="3" height="1" fill="#d8d8d8"/><rect x="154" y="756" width="3" height="1" fill="#d8d8d8"/><rect x="160" y="756" width="3" height="1" fill="#d8d8d8"/><rect x="166" y="756" width="3" height="1" fill="#d8d8d8"/><rect x="172" y="756" width="3" height="1" fill="#d8d8d8"/><rect x="178" y="756" width="3" height="1" fill="#d8d8d8"/><rect x="184" y="756" width="3" height="1" fill="#d8d8d8"/><rect x="190" y="756" width="3" height="1" fill="#d8d8d8"/><rect x="196" y="756" width="3" height="1" fill="#d8d8d8"/><rect x="202" y="756" width="3" height="1" fill="#d8d8d8"/><rect x="208" y="756" width="3" height="1" fill="#d8d8d8"/><rect x="214" y="756" width="3" height="1" fill="#d8d8d8"/><rect x="220" y="756" width="3" height="1" fill="#d8d8d8"/><rect x="226" y="756" width="3" height="1" fill="#d8d8d8"/><rect x="232" y="756" width="3" height="1" fill="#d8d8d8"/><rect x="238" y="756" width="3" height="1" fill="#d8d8d8"/><rect x="244" y="756" width="3" height="1" fill="#d8d8d8"/><rect x="250" y="756" width="3" height="1" fill="#d8d8d8"/><rect x="256" y="756" width="3" height="1" fill="#d8d8d8"/><rect x="262" y="756" width="3" height="1" fill="#d8d8d8"/><rect x="268" y="756" width="3" height="1" fill="#d8d8d8"/><rect x="274" y="756" width="3" height="1" fill="#d8d8d8"/><rect x="280" y="756" width="3" height="1" fill="#d8d8d8"/><rect x="286" y="756" width="3" height="1" fill="#d8d8d8"/><rect x="292" y="756" width="3" height="1" fill="#d8d8d8"/><rect x="298" y="756" width="3" height="1" fill="#d8d8d8"/><rect x="304" y="756" width="3" height="1" fill="#d8d8d8"/><rect x="310" y="756" width="3" height="1" fill="#d8d8d8"/><rect x="316" y="756" width="3" height="1" fill="#d8d8d8"/><rect x="322" y="756" width="3" height="1" fill="#d8d8d8"/><rect x="328" y="756" width="3" height="1" fill="#d8d8d8"/><rect x="334" y="756" width="3" height="1" fill="#d8d8d8"/><rect x="340" y="756" width="3" height="1" fill="#d8d8d8"/><rect x="346" y="756" width="3" height="1" fill="#d8d8d8"/><rect x="352" y="756" width="3" height="1" fill="#d8d8d8"/><rect x="358" y="756" width="3" height="1" fill="#d8d8d8"/><rect x="364" y="756" width="3" height="1" fill="#d8d8d8"/><rect x="370" y="756" width="3" height="1" fill="#d8d8d8"/><rect x="376" y="756" width="3" height="1" fill="#d8d8d8"/><rect x="382" y="756" width="3" height="1" fill="#d8d8d8"/><rect x="388" y="756" width="3" height="1" fill="#d8d8d8"/><rect x="394" y="756" width="3" height="1" fill="#d8d8d8"/><rect x="400" y="756" width="3" height="1" fill="#d8d8d8"/><rect x="406" y="756" width="3" height="1" fill="#d8d8d8"/><rect x="412" y="756" width="3" height="1" fill="#d8d8d8"/><rect x="418" y="756" width="3" height="1" fill="#d8d8d8"/><rect x="424" y="756" width="3" height="1" fill="#d8d8d8"/><rect x="430" y="756" width="3" height="1" fill="#d8d8d8"/><rect x="436" y="756" width="3" height="1" fill="#d8d8d8"/><rect x="442" y="756" width="3" height="1" fill="#d8d8d8"/><rect x="448" y="756" width="3" height="1" fill="#d8d8d8"/><rect x="454" y="756" width="3" height="1" fill="#d8d8d8"/><rect x="460" y="756" width="3" height="1" fill="#d8d8d8"/><rect x="466" y="756" width="3" height="1" fill="#d8d8d8"/><rect x="472" y="756" width="3" height="1" fill="#d8d8d8"/><rect x="478" y="756" width="3" height="1" fill="#d8d8d8"/><rect x="484" y="756" width="3" height="1" fill="#d8d8d8"/><rect x="490" y="756" width="3" height="1" fill="#d8d8d8"/><rect x="496" y="756" width="3" height="1" fill="#d8d8d8"/><rect x="502" y="756" width="3" height="1" fill="#d8d8d8"/><rect x="508" y="756" width="3" height="1" fill="#d8d8d8"/><rect x="514" y="756" width="3" height="1" fill="#d8d8d8"/><rect x="520" y="756" width="3" height="1" fill="#d8d8d8"/><rect x="526" y="756" width="3" height="1" fill="#d8d8d8"/><rect x="532" y="756" width="3" height="1" fill="#d8d8d8"/><rect x="538" y="756" width="3" height="1" fill="#d8d8d8"/><rect x="544" y="756" width="3" height="1" fill="#d8d8d8"/><rect x="550" y="756" width="3" height="1" fill="#d8d8d8"/><rect x="556" y="756" width="3" height="1" fill="#d8d8d8"/><rect x="562" y="756" width="3" height="1" fill="#d8d8d8"/><rect x="568" y="756" width="3" height="1" fill="#d8d8d8"/><rect x="574" y="756" width="3" height="1" fill="#d8d8d8"/><rect x="580" y="756" width="3" height="1" fill="#d8d8d8"/><rect x="586" y="756" width="3" height="1" fill="#d8d8d8"/><rect x="592" y="756" width="3" height="1" fill="#d8d8d8"/><rect x="598" y="756" width="3" height="1" fill="#d8d8d8"/><rect x="604" y="756" width="3" height="1" fill="#d8d8d8"/><rect x="610" y="756" width="3" height="1" fill="#d8d8d8"/><rect x="616" y="756" width="3" height="1" fill="#d8d8d8"/><rect x="622" y="756" width="3" height="1" fill="#d8d8d8"/><rect x="628" y="756" width="3" height="1" fill="#d8d8d8"/><rect x="634" y="756" width="3" height="1" fill="#d8d8d8"/><rect x="640" y="756" width="3" height="1" fill="#d8d8d8"/><rect x="646" y="756" width="3" height="1" fill="#d8d8d8"/><rect x="652" y="756" width="3" height="1" fill="#d8d8d8"/><rect x="658" y="756" width="3" height="1" fill="#d8d8d8"/><rect x="664" y="756" width="3" height="1" fill="#d8d8d8"/><rect x="670" y="756" width="3" height="1" fill="#d8d8d8"/><rect x="676" y="756" width="3" height="1" fill="#d8d8d8"/><rect x="682" y="756" width="3" height="1" fill="#d8d8d8"/><rect x="688" y="756" width="3" height="1" fill="#d8d8d8"/><rect x="694" y="756" width="3" height="1" fill="#d8d8d8"/><rect x="700" y="756" width="3" height="1" fill="#d8d8d8"/><rect x="706" y="756" width="3" height="1" fill="#d8d8d8"/><rect x="712" y="756" width="3" height="1" fill="#d8d8d8"/><rect x="718" y="756" width="3" height="1" fill="#d8d8d8"/><rect x="724" y="756" width="3" height="1" fill="#d8d8d8"/><rect x="730" y="756" width="3" height="1" fill="#d8d8d8"/><rect x="736" y="756" width="3" height="1" fill="#d8d8d8"/><rect x="742" y="756" width="3" height="1" fill="#d8d8d8"/><rect x="748" y="756" width="3" height="1" fill="#d8d8d8"/><rect x="754" y="756" width="3" height="1" fill="#d8d8d8"/><rect x="760" y="756" width="3" height="1" fill="#d8d8d8"/><rect x="766" y="756" width="3" height="1" fill="#d8d8d8"/><rect x="772" y="756" width="3" height="1" fill="#d8d8d8"/><rect x="778" y="756" width="3" height="1" fill="#d8d8d8"/><rect x="784" y="756" width="3" height="1" fill="#d8d8d8"/><rect x="790" y="756" width="3" height="1" fill="#d8d8d8"/><rect x="796" y="756" width="3" height="1" fill="#d8d8d8"/><rect x="802" y="756" width="3" height="1" fill="#d8d8d8"/><rect x="808" y="756" width="3" height="1" fill="#d8d8d8"/><rect x="814" y="756" width="3" height="1" fill="#d8d8d8"/><rect x="820" y="756" width="3" height="1" fill="#d8d8d8"/><rect x="826" y="756" width="3" height="1" fill="#d8d8d8"/><rect x="832" y="756" width="3" height="1" fill="#d8d8d8"/><rect x="838" y="756" width="3" height="1" fill="#d8d8d8"/><rect x="844" y="756" width="3" height="1" fill="#d8d8d8"/><rect x="850" y="756" width="3" height="1" fill="#d8d8d8"/><rect x="856" y="756" width="3" height="1" fill="#d8d8d8"/><rect x="862" y="756" width="3" height="1" fill="#d8d8d8"/><rect x="868" y="756" width="3" height="1" fill="#d8d8d8"/><rect x="874" y="756" width="3" height="1" fill="#d8d8d8"/><rect x="880" y="756" width="3" height="1" fill="#d8d8d8"/><rect x="886" y="756" width="3" height="1" fill="#d8d8d8"/><rect x="892" y="756" width="3" height="1" fill="#d8d8d8"/><rect x="898" y="756" width="3" height="1" fill="#d8d8d8"/><rect x="904" y="756" width="3" height="1" fill="#d8d8d8"/><rect x="910" y="756" width="3" height="1" fill="#d8d8d8"/><rect x="916" y="756" width="3" height="1" fill="#d8d8d8"/><rect x="922" y="756" width="3" height="1" fill="#d8d8d8"/><rect x="928" y="756" width="3" height="1" fill="#d8d8d8"/><rect x="934" y="756" width="3" height="1" fill="#d8d8d8"/><rect x="940" y="756" width="3" height="1" fill="#d8d8d8"/><rect x="946" y="756" width="3" height="1" fill="#d8d8d8"/><rect x="952" y="756" width="3" height="1" fill="#d8d8d8"/><rect x="958" y="756" width="1" height="1" fill="#d8d8d8"/><rect x="147" y="668" width="1" height="3" fill="#fff"/><rect x="147" y="674" width="1" height="3" fill="#fff"/><rect x="147" y="680" width="1" height="3" fill="#fff"/><rect x="147" y="686" width="1" height="3" fill="#fff"/><rect x="147" y="692" width="1" height="3" fill="#fff"/><rect x="147" y="698" width="1" height="3" fill="#fff"/><rect x="147" y="704" width="1" height="3" fill="#fff"/><rect x="147" y="710" width="1" height="3" fill="#fff"/><rect x="147" y="716" width="1" height="3" fill="#fff"/><rect x="147" y="722" width="1" height="3" fill="#fff"/><rect x="147" y="728" width="1" height="3" fill="#fff"/><rect x="147" y="734" width="1" height="3" fill="#fff"/><rect x="147" y="740" width="1" height="3" fill="#fff"/><rect x="147" y="746" width="1" height="3" fill="#fff"/><rect x="147" y="752" width="1" height="3" fill="#fff"/><rect x="147" y="758" width="1" height="3" fill="#fff"/><rect x="147" y="764" width="1" height="3" fill="#fff"/><rect x="147" y="770" width="1" height="3" fill="#fff"/><rect x="147" y="776" width="1" height="3" fill="#fff"/><rect x="483" y="668" width="1" height="3" fill="#fff"/><rect x="483" y="674" width="1" height="3" fill="#fff"/><rect x="483" y="680" width="1" height="3" fill="#fff"/><rect x="483" y="686" width="1" height="3" fill="#fff"/><rect x="483" y="692" width="1" height="3" fill="#fff"/><rect x="483" y="698" width="1" height="3" fill="#fff"/><rect x="483" y="704" width="1" height="3" fill="#fff"/><rect x="483" y="710" width="1" height="3" fill="#fff"/><rect x="483" y="716" width="1" height="3" fill="#fff"/><rect x="483" y="722" width="1" height="3" fill="#fff"/><rect x="483" y="728" width="1" height="3" fill="#fff"/><rect x="483" y="734" width="1" height="3" fill="#fff"/><rect x="483" y="740" width="1" height="3" fill="#fff"/><rect x="483" y="746" width="1" height="3" fill="#fff"/><rect x="483" y="752" width="1" height="3" fill="#fff"/><rect x="483" y="758" width="1" height="3" fill="#fff"/><rect x="483" y="764" width="1" height="3" fill="#fff"/><rect x="483" y="770" width="1" height="3" fill="#fff"/><rect x="483" y="776" width="1" height="3" fill="#fff"/><rect x="851" y="668" width="1" height="3" fill="#fff"/><rect x="851" y="674" width="1" height="3" fill="#fff"/><rect x="851" y="680" width="1" height="3" fill="#fff"/><rect x="851" y="686" width="1" height="3" fill="#fff"/><rect x="851" y="692" width="1" height="3" fill="#fff"/><rect x="851" y="698" width="1" height="3" fill="#fff"/><rect x="851" y="704" width="1" height="3" fill="#fff"/><rect x="851" y="710" width="1" height="3" fill="#fff"/><rect x="851" y="716" width="1" height="3" fill="#fff"/><rect x="851" y="722" width="1" height="3" fill="#fff"/><rect x="851" y="728" width="1" height="3" fill="#fff"/><rect x="851" y="734" width="1" height="3" fill="#fff"/><rect x="851" y="740" width="1" height="3" fill="#fff"/><rect x="851" y="746" width="1" height="3" fill="#fff"/><rect x="851" y="752" width="1" height="3" fill="#fff"/><rect x="851" y="758" width="1" height="3" fill="#fff"/><rect x="851" y="764" width="1" height="3" fill="#fff"/><rect x="851" y="770" width="1" height="3" fill="#fff"/><rect x="851" y="776" width="1" height="3" fill="#fff"/><polyline points="3,677 19,679.5 35,681.1 51,686 67,694.4 83,713.6 99,729 115,738 131,737.2 147,725 163,705 179,687 195,680 211,676 227,674 243,674.4 259,674.4 275,677.6 291,678.4 307,679.4 323,679.4 339,684 355,692 371,700.4 387,699.4 403,694 419,686 435,683.4 451,682 467,680 483,684 499,694 515,709.4 531,713 547,718 563,725.6 579,740.4 595,747 611,750 627,750.4 643,754.4 659,750 675,743 691,736 707,732 723,728.8 739,726.4 755,727.9 771,736 787,747.7 803,755.8 819,762 835,765.6 851,767.8" fill="none" stroke="#ff0000" stroke-width="1"/><polyline points="3,677.9 19,682.3 35,682.3 51,692.5 67,708.7 83,733.1 99,744.1 115,737.2 131,730.7 147,706 163,683 179,675.4 195,676.4 211,675.4 227,671.6 243,675 259,677 275,681 291,677.6 307,678.6 323,681 339,693 355,701 371,705.4 387,691 403,684.4 419,683.4 435,683.4 451,681 467,676.4 483,693 499,713 515,718.4 531,712.4 547,723 563,743 579,754 595,745 611,752 627,754.4 643,757.4 659,739 675,732.4 691,733 707,729.4 723,724.3 739,724.3 755,737.8 771,748.2 787,756.7 803,763 819,766.2 835,767.8 851,770.7" fill="none" stroke="#20b2aa" stroke-width="1"/></g><rect x="960" y="35" width="2" height="1" fill="#fff"/><rect x="960" y="68" width="2" height="1" fill="#fff"/><rect x="960" y="101" width="2" height="1" fill="#fff"/><rect x="960" y="134" width="2" height="1" fill="#fff"/><rect x="960" y="167" width="2" height="1" fill="#fff"/><rect x="960" y="200" width="2" height="1" fill="#fff"/><rect x="960" y="233" width="2" height="1" fill="#fff"/><rect x="960" y="266" width="2" height="1" fill="#fff"/><rect x="960" y="299" width="2" height="1" fill="#fff"/><rect x="960" y="332" width="2" height="1" fill="#fff"/><rect x="960" y="365" width="2" height="1" fill="#fff"/><rect x="960" y="398" width="2" height="1" fill="#fff"/><rect x="960" y="431" width="2" height="1" fill="#fff"/><rect x="960" y="438" width="1" height="1" fill="#fff"/><rect x="960" y="492" width="1" height="1" fill="#fff"/><rect x="960" y="548" width="1" height="1" fill="#fff"/><rect x="960" y="553" width="1" height="1" fill="#fff"/><rect x="960" y="663" width="1" height="1" fill="#fff"/><rect x="960" y="668" width="1" height="1" fill="#fff"/><rect x="960" y="778" width="1" height="1" fill="#fff"/><rect x="3" y="780" width="1" height="3" fill="#fff"/><rect x="67" y="780" width="1" height="3" fill="#fff"/><rect x="131" y="780" width="1" height="3" fill="#fff"/><rect x="195" y="780" width="1" height="3" fill="#fff"/><rect x="259" y="780" width="1" height="3" fill="#fff"/><rect x="323" y="780" width="1" height="3" fill="#fff"/><rect x="387" y="780" width="1" height="3" fill="#fff"/><rect x="451" y="780" width="1" height="3" fill="#fff"/><rect x="515" y="780" width="1" height="3" fill="#fff"/><rect x="579" y="780" width="1" height="3" fill="#fff"/><rect x="643" y="780" width="1" height="3" fill="#fff"/><rect x="707" y="780" width="1" height="3" fill="#fff"/><rect x="771" y="780" width="1" height="3" fill="#fff"/><rect x="835" y="780" width="1" height="3" fill="#fff"/><g font-size="10" text-rendering="geometricPrecision" shape-rendering="auto" stroke-width="0.15"><text x="7.0" y="14" fill="#fff" stroke="#fff" textLength="61.24" lengthAdjust="spacingAndGlyphs">_SPX500,Daily</text><text x="75.5" y="14" fill="#fff" stroke="#fff" textLength="27.53" lengthAdjust="spacingAndGlyphs">2735.2</text><text x="106.5" y="14" fill="#fff" stroke="#fff" textLength="28.04" lengthAdjust="spacingAndGlyphs">2740.4</text><text x="137.5" y="14" fill="#fff" stroke="#fff" textLength="28.04" lengthAdjust="spacingAndGlyphs">2732.3</text><text x="168.5" y="14" fill="#fff" stroke="#fff" textLength="28.04" lengthAdjust="spacingAndGlyphs">2738.9</text><text x="7.0" y="449" fill="#fff" stroke="#fff" textLength="40.48" lengthAdjust="spacingAndGlyphs">[CCI: 14]</text><text x="51.0" y="449" fill="#fff" stroke="#fff" textLength="40.42" lengthAdjust="spacingAndGlyphs">[TCCI: 6]</text><text x="94.5" y="449" fill="#fff" stroke="#fff" textLength="63.17" lengthAdjust="spacingAndGlyphs">[per LSMA: 25]</text><text x="161.0" y="449" fill="#fff" stroke="#fff" textLength="99.25" lengthAdjust="spacingAndGlyphs">[per EMA: 34][Trend: 5]</text><text x="266.4" y="449" fill="#fff" stroke="#fff" textLength="40.64" lengthAdjust="spacingAndGlyphs">-176.3476</text><text x="310.5" y="449" fill="#fff" stroke="#fff" textLength="40.14" lengthAdjust="spacingAndGlyphs">-132.9412</text><text x="7.2" y="564" fill="#fff" stroke="#fff" textLength="22.78" lengthAdjust="spacingAndGlyphs">TRSI</text><text x="32.5" y="564" fill="#fff" stroke="#fff" textLength="19.8" lengthAdjust="spacingAndGlyphs">vM()</text><text x="55.0" y="564" fill="#fff" stroke="#fff" textLength="28.04" lengthAdjust="spacingAndGlyphs">29.513</text><text x="86.4" y="564" fill="#fff" stroke="#fff" textLength="27.43" lengthAdjust="spacingAndGlyphs">39.574</text><text x="117.1" y="564" fill="#fff" stroke="#fff" textLength="28.04" lengthAdjust="spacingAndGlyphs">45.722</text><text x="147.9" y="564" fill="#fff" stroke="#fff" textLength="28.04" lengthAdjust="spacingAndGlyphs">33.539</text><text x="179.3" y="564" fill="#fff" stroke="#fff" textLength="27.43" lengthAdjust="spacingAndGlyphs">36.923</text><text x="6.25" y="679" fill="#fff" stroke="#fff" textLength="46.91" lengthAdjust="spacingAndGlyphs">Sto(10,3,3)</text><text x="55.68" y="679" fill="#fff" stroke="#fff" textLength="28.06" lengthAdjust="spacingAndGlyphs">7.9676</text><text x="86.86" y="679" fill="#fff" stroke="#fff" textLength="33.12" lengthAdjust="spacingAndGlyphs">10.1156</text><text x="511.66" y="209" fill="#ff0000" stroke="#ff0000" textLength="39.33" lengthAdjust="spacingAndGlyphs">Daily R3</text><text x="511.66" y="222" fill="#ff0000" stroke="#ff0000" textLength="39.33" lengthAdjust="spacingAndGlyphs">Daily R2</text><text x="511.66" y="248" fill="#ff0000" stroke="#ff0000" textLength="39.33" lengthAdjust="spacingAndGlyphs">Daily R1</text><text x="506.34" y="261" fill="#ff00ff" stroke="#ff00ff" textLength="49.92" lengthAdjust="spacingAndGlyphs">Daily Pivot</text><text x="511.63" y="287" fill="#32cd32" stroke="#32cd32" textLength="39.84" lengthAdjust="spacingAndGlyphs">Daily S1</text><text x="511.63" y="300" fill="#32cd32" stroke="#32cd32" textLength="39.84" lengthAdjust="spacingAndGlyphs">Daily S2</text><text x="511.63" y="326" fill="#32cd32" stroke="#32cd32" textLength="39.84" lengthAdjust="spacingAndGlyphs">Daily S3</text><text x="965.0" y="39" fill="#fff" stroke="#fff" textLength="27.63" lengthAdjust="spacingAndGlyphs">2985.0</text><text x="965.0" y="72" fill="#fff" stroke="#fff" textLength="27.63" lengthAdjust="spacingAndGlyphs">2951.0</text><text x="965.0" y="105" fill="#fff" stroke="#fff" textLength="27.63" lengthAdjust="spacingAndGlyphs">2917.0</text><text x="965.0" y="138" fill="#fff" stroke="#fff" textLength="27.63" lengthAdjust="spacingAndGlyphs">2883.0</text><text x="965.0" y="171" fill="#fff" stroke="#fff" textLength="27.63" lengthAdjust="spacingAndGlyphs">2849.0</text><text x="965.0" y="204" fill="#fff" stroke="#fff" textLength="27.63" lengthAdjust="spacingAndGlyphs">2815.0</text><text x="965.0" y="237" fill="#fff" stroke="#fff" textLength="27.63" lengthAdjust="spacingAndGlyphs">2781.0</text><text x="965.0" y="270" fill="#fff" stroke="#fff" textLength="27.63" lengthAdjust="spacingAndGlyphs">2747.0</text><text x="965.0" y="303" fill="#fff" stroke="#fff" textLength="27.63" lengthAdjust="spacingAndGlyphs">2713.0</text><text x="965.0" y="336" fill="#fff" stroke="#fff" textLength="27.63" lengthAdjust="spacingAndGlyphs">2679.0</text><text x="965.0" y="369" fill="#fff" stroke="#fff" textLength="27.63" lengthAdjust="spacingAndGlyphs">2645.0</text><text x="965.0" y="402" fill="#fff" stroke="#fff" textLength="27.85" lengthAdjust="spacingAndGlyphs">2611.0</text><text x="965.0" y="435" fill="#fff" stroke="#fff" textLength="27.63" lengthAdjust="spacingAndGlyphs">2578.0</text><text x="962.2" y="444" fill="#fff" stroke="#fff" textLength="14.14" lengthAdjust="spacingAndGlyphs">200</text><text x="961.49" y="470" fill="#fff" stroke="#fff" textLength="15.23" lengthAdjust="spacingAndGlyphs">100</text><text x="963.0" y="496" fill="#fff" stroke="#fff" textLength="17.52" lengthAdjust="spacingAndGlyphs">0.00</text><text x="961.8" y="522" fill="#fff" stroke="#fff" textLength="17.61" lengthAdjust="spacingAndGlyphs">-100</text><text x="962.0" y="546" fill="#fff" stroke="#fff" textLength="17.41" lengthAdjust="spacingAndGlyphs">-200</text><text x="962.0" y="546" fill="#fff" stroke="#fff" textLength="32.13" lengthAdjust="spacingAndGlyphs">-215.65</text><text x="961.49" y="562" fill="#fff" stroke="#fff" textLength="15.23" lengthAdjust="spacingAndGlyphs">100</text><text x="962.6" y="661" fill="#fff" stroke="#fff" textLength="5.47" lengthAdjust="spacingAndGlyphs">0</text><text x="961.49" y="677" fill="#fff" stroke="#fff" textLength="15.23" lengthAdjust="spacingAndGlyphs">100</text><text x="962.4" y="694" fill="#fff" stroke="#fff" textLength="10.21" lengthAdjust="spacingAndGlyphs">80</text><text x="962.4" y="760" fill="#fff" stroke="#fff" textLength="10.21" lengthAdjust="spacingAndGlyphs">20</text><text x="962.6" y="776" fill="#fff" stroke="#fff" textLength="5.47" lengthAdjust="spacingAndGlyphs">0</text><text x="2.07" y="792" fill="#fff" stroke="#fff" textLength="52.07" lengthAdjust="spacingAndGlyphs">19 Mar 2019</text><text x="66.5" y="792" fill="#fff" stroke="#fff" textLength="51.34" lengthAdjust="spacingAndGlyphs">25 Mar 2019</text><text x="130.5" y="792" fill="#fff" stroke="#fff" textLength="51.84" lengthAdjust="spacingAndGlyphs">29 Mar 2019</text><text x="194.0" y="792" fill="#fff" stroke="#fff" textLength="46.46" lengthAdjust="spacingAndGlyphs">4 Apr 2019</text><text x="257.54" y="792" fill="#fff" stroke="#fff" textLength="51.6" lengthAdjust="spacingAndGlyphs">10 Apr 2019</text><text x="321.55" y="792" fill="#fff" stroke="#fff" textLength="51.29" lengthAdjust="spacingAndGlyphs">16 Apr 2019</text><text x="386.0" y="792" fill="#fff" stroke="#fff" textLength="50.54" lengthAdjust="spacingAndGlyphs">23 Apr 2019</text><text x="450.5" y="792" fill="#fff" stroke="#fff" textLength="50.34" lengthAdjust="spacingAndGlyphs">29 Apr 2019</text><text x="514.0" y="792" fill="#fff" stroke="#fff" textLength="49.75" lengthAdjust="spacingAndGlyphs">3 May 2019</text><text x="578.0" y="792" fill="#fff" stroke="#fff" textLength="50.15" lengthAdjust="spacingAndGlyphs">9 May 2019</text><text x="641.55" y="792" fill="#fff" stroke="#fff" textLength="55.09" lengthAdjust="spacingAndGlyphs">15 May 2019</text><text x="706.0" y="792" fill="#fff" stroke="#fff" textLength="54.94" lengthAdjust="spacingAndGlyphs">21 May 2019</text><text x="771.5" y="792" fill="#fff" stroke="#fff" textLength="53.04" lengthAdjust="spacingAndGlyphs">27 May 2019</text><text x="835.0" y="792" fill="#fff" stroke="#fff" textLength="53.64" lengthAdjust="spacingAndGlyphs">31 May 2019</text><text x="962.2" y="447" fill="#fff" textLength="38.04" lengthAdjust="spacingAndGlyphs">210.4046</text></g><g font-size="10" text-rendering="geometricPrecision"><rect x="961" y="192" width="36" height="11" fill="#ff0000"/><text x="965.0" y="201" fill="#000" textLength="27.63" lengthAdjust="spacingAndGlyphs">2817.0</text><rect x="961" y="205" width="36" height="11" fill="#ff0000"/><text x="965.0" y="214" fill="#000" textLength="28.55" lengthAdjust="spacingAndGlyphs">2803.2</text><rect x="961" y="231" width="36" height="11" fill="#ff0000"/><text x="965.0" y="240" fill="#000" textLength="27.63" lengthAdjust="spacingAndGlyphs">2777.0</text><rect x="961" y="244" width="36" height="11" fill="#ff00ff"/><text x="965.0" y="253" fill="#000" textLength="28.55" lengthAdjust="spacingAndGlyphs">2763.2</text><rect x="961" y="270" width="36" height="11" fill="#32cd32"/><text x="965.0" y="279" fill="#000" textLength="27.63" lengthAdjust="spacingAndGlyphs">2737.0</text><rect x="961" y="283" width="36" height="11" fill="#32cd32"/><text x="965.0" y="292" fill="#000" textLength="28.55" lengthAdjust="spacingAndGlyphs">2723.2</text><rect x="961" y="309" width="36" height="11" fill="#32cd32"/><text x="965.0" y="318" fill="#000" textLength="27.63" lengthAdjust="spacingAndGlyphs">2697.0</text><rect x="961" y="269" width="36" height="1" fill="#fff"/><rect x="961" y="294" width="36" height="1" fill="#fff"/></g>
</svg>
</body></html>
